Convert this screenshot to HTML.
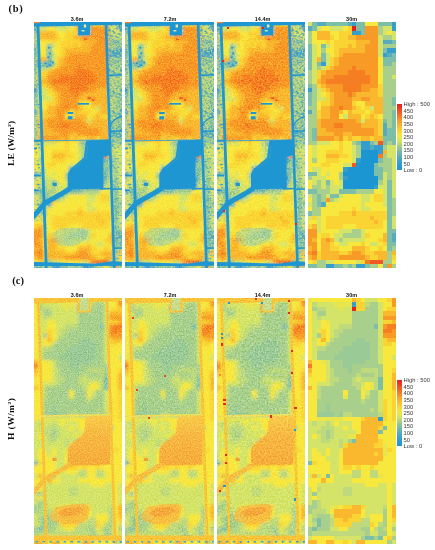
<!DOCTYPE html><html><head><meta charset="utf-8"><style>
html,body{margin:0;padding:0;background:#fff;width:435px;height:550px;overflow:hidden}
body{position:relative;font-family:"Liberation Sans",sans-serif}
.a{position:absolute}
.p{position:absolute;overflow:hidden}
.p svg{display:block}
.lab{position:absolute;font:bold 5.5px "Liberation Sans",sans-serif;color:#111;white-space:nowrap;line-height:1}
.fig{position:absolute;font:bold 10.5px "Liberation Serif",serif;color:#111;line-height:1}
.side{position:absolute;font:bold 8.4px "Liberation Serif",serif;color:#111;white-space:nowrap;line-height:1;transform:rotate(-90deg) scaleX(1.13);transform-origin:0 0}
.leg{position:absolute;font:5.8px "Liberation Sans",sans-serif;color:#3a3a3a;line-height:1;white-space:nowrap}
</style></head><body><div class="fig" style="left:8.6px;top:3.6px;letter-spacing:0.7px">(b)</div><div class="fig" style="left:12.3px;top:275.5px">(c)</div><div class="side" style="left:6.8px;top:165.9px;letter-spacing:0.12px">LE (W/m<sup style="font-size:5px;vertical-align:3px">2</sup>)</div><div class="side" style="left:6.5px;top:440.0px;letter-spacing:0.38px">H (W/m<sup style="font-size:5px;vertical-align:3px">2</sup>)</div><div class="lab" style="left:70.8px;top:17.0px">3.6m</div><div class="p" style="left:34.4px;top:22.0px;width:88.0px;height:246.4px"><svg width="88.00" height="246.40" viewBox="0 0 88.000 246.400" shape-rendering="crispEdges"><defs><filter id="fle0" x="-10%" y="-10%" width="120%" height="120%"><feGaussianBlur stdDeviation="0.364 0.364"/></filter></defs><g transform="scale(4.40000 4.40000)" filter="url(#fle0)"><path fill="#d4e468" d="M-2 -2h3v1h-3zM-2 -1h3v1h-3zM-2 0h3v1h-3zM1 1h2v1h-2zM5 1h3v1h-3zM17 1h2v1h-2zM17 2h1v1h-1zM19 2h3v1h-3zM19 3h3v1h-3zM4 5h1v1h-1zM4 7h1v1h-1zM4 8h1v1h-1zM4 9h1v1h-1zM3 10h1v1h-1zM19 12h3v1h-3zM1 15h2v1h-2zM1 16h2v1h-2zM1 17h3v1h-3zM14 19h1v1h-1zM8 21h1v1h-1zM12 22h1v1h-1zM2 27h3v1h-3zM1 28h1v1h-1zM10 28h1v1h-1zM18 28h4v1h-4zM1 29h1v1h-1zM10 29h1v1h-1zM18 29h4v1h-4zM1 30h1v1h-1zM10 30h1v1h-1zM18 30h4v1h-4zM10 31h1v1h-1zM19 31h3v1h-3zM8 32h2v1h-2zM19 32h3v1h-3zM1 33h2v1h-2zM19 33h3v1h-3zM2 34h1v1h-1zM4 34h1v1h-1zM17 34h1v1h-1zM19 34h3v1h-3zM1 35h3v1h-3zM17 35h1v1h-1zM19 35h3v1h-3zM1 36h1v1h-1zM3 36h1v1h-1zM5 36h1v1h-1zM7 36h1v1h-1zM17 36h1v1h-1zM19 36h3v1h-3zM3 37h1v1h-1zM5 37h3v1h-3zM16 37h2v1h-2zM19 37h3v1h-3zM5 38h2v1h-2zM17 38h1v1h-1zM19 38h3v1h-3zM-2 39h3v1h-3zM4 39h1v1h-1zM7 39h1v1h-1zM12 39h2v1h-2zM17 39h1v1h-1zM19 39h3v1h-3zM6 40h1v1h-1zM12 40h2v1h-2zM17 40h1v1h-1zM-2 41h3v1h-3zM12 41h1v1h-1zM17 41h1v1h-1zM12 42h2v1h-2zM-2 44h3v1h-3zM2 44h1v1h-1zM19 44h3v1h-3zM2 45h1v1h-1zM19 45h3v1h-3zM2 46h1v1h-1zM19 46h3v1h-3zM2 47h1v1h-1zM7 47h3v1h-3zM12 47h1v1h-1zM6 48h2v1h-2zM12 48h1v1h-1zM6 49h1v1h-1zM8 49h5v1h-5zM7 50h2v1h-2zM14 50h2v1h-2zM4 54h2v1h-2zM11 54h1v1h-1z"/><path fill="#7cbea8" d="M1 -2h1v1h-1zM4 -2h5v1h-5zM11 -2h2v1h-2zM16 -2h3v1h-3zM1 -1h1v1h-1zM4 -1h5v1h-5zM11 -1h2v1h-2zM16 -1h3v1h-3zM1 0h1v1h-1zM4 0h5v1h-5zM11 0h2v1h-2zM16 0h3v1h-3zM11 1h2v1h-2zM12 2h1v1h-1zM19 4h3v1h-3zM-2 5h3v1h-3zM3 5h1v1h-1zM-2 6h3v1h-3zM17 6h1v1h-1zM-2 7h3v1h-3zM3 7h1v1h-1zM19 7h3v1h-3zM-2 8h3v1h-3zM3 8h1v1h-1zM17 8h5v1h-5zM-2 9h5v1h-5zM17 9h2v1h-2zM-2 10h3v1h-3zM-2 14h3v1h-3zM-2 16h3v1h-3zM-2 17h3v1h-3zM19 17h3v1h-3zM-2 18h3v1h-3zM19 18h3v1h-3zM19 20h3v1h-3zM19 21h3v1h-3zM17 22h1v1h-1zM19 22h3v1h-3zM19 23h3v1h-3zM18 24h4v1h-4zM18 25h4v1h-4zM17 26h5v1h-5zM11 27h1v1h-1zM14 27h1v1h-1zM17 27h1v1h-1zM19 27h3v1h-3zM16 31h1v1h-1zM15 32h1v1h-1zM15 33h2v1h-2zM-2 34h4v1h-4zM15 34h2v1h-2zM16 35h1v1h-1zM4 36h1v1h-1zM18 36h1v1h-1zM18 37h1v1h-1zM-2 38h4v1h-4zM7 38h4v1h-4zM18 38h1v1h-1zM2 39h1v1h-1zM5 39h2v1h-2zM18 39h1v1h-1zM2 40h1v1h-1zM18 40h1v1h-1zM2 41h1v1h-1zM18 41h1v1h-1zM18 42h1v1h-1zM-2 43h3v1h-3zM18 43h1v1h-1zM18 44h1v1h-1zM18 45h1v1h-1zM18 46h1v1h-1zM18 47h4v1h-4zM18 48h1v1h-1zM18 49h1v1h-1zM18 50h4v1h-4zM18 51h1v1h-1zM-2 55h4v1h-4zM6 55h2v1h-2zM9 55h1v1h-1zM13 55h1v1h-1zM17 55h1v1h-1zM-2 56h4v1h-4zM6 56h2v1h-2zM9 56h1v1h-1zM13 56h1v1h-1zM17 56h1v1h-1zM-2 57h4v1h-4zM6 57h2v1h-2zM9 57h1v1h-1zM13 57h1v1h-1zM17 57h1v1h-1z"/><path fill="#56acbe" d="M2 -2h2v1h-2zM9 -2h1v1h-1zM2 -1h2v1h-2zM9 -1h1v1h-1zM2 0h2v1h-2zM9 0h1v1h-1zM-2 1h3v1h-3zM17 4h2v1h-2zM18 7h1v1h-1zM-2 20h3v1h-3zM17 23h1v1h-1zM17 24h1v1h-1zM17 25h1v1h-1zM14 28h1v1h-1zM3 41h1v1h-1zM19 48h3v1h-3zM19 49h3v1h-3z"/><path fill="#349ecc" d="M10 -2h1v1h-1zM19 -2h3v1h-3zM10 -1h1v1h-1zM19 -1h3v1h-3zM10 0h1v1h-1zM19 0h3v1h-3zM19 1h3v1h-3zM10 2h2v1h-2zM18 6h4v1h-4zM17 7h1v1h-1zM3 9h1v1h-1zM-2 15h3v1h-3zM12 27h2v1h-2zM12 28h2v1h-2zM15 28h2v1h-2zM16 29h1v1h-1zM11 31h1v1h-1zM8 33h1v1h-1zM8 35h1v1h-1zM15 37h1v1h-1zM4 55h2v1h-2zM11 55h2v1h-2zM4 56h2v1h-2zM11 56h2v1h-2zM4 57h2v1h-2zM11 57h2v1h-2z"/><path fill="#f8e73c" d="M13 -2h3v1h-3zM13 -1h3v1h-3zM13 0h3v1h-3zM3 1h2v1h-2zM8 1h1v1h-1zM5 2h2v1h-2zM18 2h1v1h-1zM6 3h1v1h-1zM1 4h3v1h-3zM5 4h1v1h-1zM1 5h2v1h-2zM5 5h1v1h-1zM1 6h2v1h-2zM4 6h2v1h-2zM1 7h2v1h-2zM5 7h1v1h-1zM3 16h1v1h-1zM1 18h2v1h-2zM11 18h2v1h-2zM1 19h2v1h-2zM12 19h1v1h-1zM8 20h1v1h-1zM13 20h1v1h-1zM7 21h1v1h-1zM12 21h1v1h-1zM5 27h2v1h-2zM8 27h2v1h-2zM-2 28h3v1h-3zM2 28h5v1h-5zM8 28h2v1h-2zM-2 29h3v1h-3zM2 29h2v1h-2zM8 29h2v1h-2zM-2 30h3v1h-3zM2 30h2v1h-2zM9 30h1v1h-1zM-2 31h3v1h-3zM2 31h2v1h-2zM7 31h3v1h-3zM-2 32h5v1h-5zM5 32h3v1h-3zM-2 33h3v1h-3zM3 33h5v1h-5zM3 34h1v1h-1zM5 34h2v1h-2zM4 35h3v1h-3zM-2 36h3v1h-3zM6 36h1v1h-1zM-2 37h3v1h-3zM15 38h2v1h-2zM8 39h4v1h-4zM14 39h1v1h-1zM-2 40h3v1h-3zM7 40h5v1h-5zM14 40h1v1h-1zM4 41h8v1h-8zM13 41h4v1h-4zM-2 42h3v1h-3zM3 42h7v1h-7zM11 42h1v1h-1zM14 42h4v1h-4zM3 43h4v1h-4zM3 44h1v1h-1zM-2 45h4v1h-4zM3 45h1v1h-1zM17 45h1v1h-1zM3 46h1v1h-1zM8 46h3v1h-3zM17 46h1v1h-1zM3 47h4v1h-4zM13 47h5v1h-5zM2 48h1v1h-1zM5 48h1v1h-1zM14 48h3v1h-3zM2 49h1v1h-1zM13 49h3v1h-3zM2 50h1v1h-1zM6 50h1v1h-1zM9 50h3v1h-3zM13 50h1v1h-1zM16 50h1v1h-1zM2 51h1v1h-1zM7 51h3v1h-3zM14 51h2v1h-2zM17 51h1v1h-1zM-2 54h3v1h-3zM6 54h5v1h-5zM19 54h3v1h-3zM16 55h1v1h-1zM16 56h1v1h-1zM16 57h1v1h-1z"/><path fill="#fad432" d="M9 1h1v1h-1zM7 2h3v1h-3zM5 3h1v1h-1zM7 3h2v1h-2zM4 4h1v1h-1zM6 4h5v1h-5zM6 5h3v1h-3zM10 5h1v1h-1zM6 6h1v1h-1zM6 7h1v1h-1zM5 8h1v1h-1zM5 9h1v1h-1zM4 10h1v1h-1zM1 11h2v1h-2zM1 12h2v1h-2zM1 14h2v1h-2zM3 15h1v1h-1zM4 16h1v1h-1zM4 17h1v1h-1zM3 18h2v1h-2zM10 18h1v1h-1zM11 19h1v1h-1zM13 19h1v1h-1zM1 20h2v1h-2zM10 20h3v1h-3zM14 20h1v1h-1zM1 21h2v1h-2zM13 21h1v1h-1zM15 21h2v1h-2zM8 26h1v1h-1zM10 26h2v1h-2zM14 26h1v1h-1zM7 27h1v1h-1zM7 28h1v1h-1zM4 29h4v1h-4zM7 30h2v1h-2zM4 31h3v1h-3zM3 32h2v1h-2zM15 39h2v1h-2zM15 40h2v1h-2zM10 42h1v1h-1zM7 43h3v1h-3zM11 43h7v1h-7zM1 44h1v1h-1zM4 44h10v1h-10zM15 44h3v1h-3zM4 45h11v1h-11zM16 45h1v1h-1zM-2 46h3v1h-3zM4 46h4v1h-4zM11 46h6v1h-6zM3 48h2v1h-2zM13 48h1v1h-1zM16 49h1v1h-1zM5 50h1v1h-1zM12 50h1v1h-1zM17 50h1v1h-1zM5 51h2v1h-2zM13 51h1v1h-1zM16 51h1v1h-1zM2 52h1v1h-1zM7 52h2v1h-2zM13 52h2v1h-2zM2 53h1v1h-1zM14 53h2v1h-2zM19 53h3v1h-3zM1 54h1v1h-1zM12 54h1v1h-1z"/><path fill="#e6241c" d="M10 1h1v1h-1z"/><path fill="#f89a28" d="M13 1h4v1h-4zM13 2h4v1h-4zM11 3h6v1h-6zM14 4h3v1h-3zM13 5h4v1h-4zM13 6h4v1h-4zM8 7h9v1h-9zM7 8h10v1h-10zM7 9h10v1h-10zM6 10h4v1h-4zM11 10h6v1h-6zM4 11h5v1h-5zM13 11h4v1h-4zM3 12h3v1h-3zM14 12h3v1h-3zM3 13h1v1h-1zM14 13h3v1h-3zM4 14h4v1h-4zM12 14h5v1h-5zM5 15h3v1h-3zM12 15h2v1h-2zM6 16h3v1h-3zM10 16h1v1h-1zM6 17h4v1h-4zM12 17h2v1h-2zM6 18h4v1h-4zM5 19h2v1h-2zM8 19h2v1h-2zM5 20h2v1h-2zM5 21h2v1h-2zM3 22h8v1h-8zM3 23h3v1h-3zM8 23h4v1h-4zM4 24h11v1h-11zM6 25h2v1h-2zM10 25h5v1h-5zM1 26h5v1h-5zM7 26h1v1h-1zM4 40h1v1h-1zM-2 47h4v1h-4zM-2 48h4v1h-4zM-2 49h3v1h-3zM4 49h1v1h-1zM-2 50h4v1h-4zM1 51h1v1h-1zM-2 52h3v1h-3zM10 52h2v1h-2zM1 53h1v1h-1zM7 53h6v1h-6zM18 55h1v1h-1zM18 56h1v1h-1zM18 57h1v1h-1z"/><path fill="#a8d08c" d="M-2 2h3v1h-3zM-2 3h3v1h-3zM17 3h2v1h-2zM-2 4h3v1h-3zM17 5h5v1h-5zM3 6h1v1h-1zM19 9h3v1h-3zM1 10h2v1h-2zM17 10h5v1h-5zM-2 11h3v1h-3zM17 11h5v1h-5zM-2 12h3v1h-3zM17 12h2v1h-2zM-2 13h3v1h-3zM17 13h5v1h-5zM17 14h5v1h-5zM17 15h5v1h-5zM17 16h5v1h-5zM17 17h2v1h-2zM17 18h2v1h-2zM-2 19h3v1h-3zM17 19h5v1h-5zM17 20h2v1h-2zM-2 21h3v1h-3zM17 21h2v1h-2zM-2 22h3v1h-3zM18 22h1v1h-1zM-2 23h3v1h-3zM18 23h1v1h-1zM-2 24h3v1h-3zM-2 25h3v1h-3zM-2 26h3v1h-3zM-2 27h4v1h-4zM10 27h1v1h-1zM15 27h1v1h-1zM18 27h1v1h-1zM11 28h1v1h-1zM17 28h1v1h-1zM11 29h1v1h-1zM11 30h1v1h-1zM17 30h1v1h-1zM1 31h1v1h-1zM17 31h2v1h-2zM16 32h3v1h-3zM17 33h2v1h-2zM7 34h1v1h-1zM18 34h1v1h-1zM-2 35h3v1h-3zM7 35h1v1h-1zM18 35h1v1h-1zM2 36h1v1h-1zM16 36h1v1h-1zM1 37h2v1h-2zM4 37h1v1h-1zM2 38h3v1h-3zM11 38h4v1h-4zM1 39h1v1h-1zM3 39h1v1h-1zM1 40h1v1h-1zM3 40h1v1h-1zM5 40h1v1h-1zM19 40h3v1h-3zM1 41h1v1h-1zM19 41h3v1h-3zM1 42h2v1h-2zM19 42h3v1h-3zM1 43h2v1h-2zM19 43h3v1h-3zM10 47h2v1h-2zM8 48h4v1h-4zM7 49h1v1h-1zM19 51h3v1h-3zM18 52h1v1h-1zM18 53h1v1h-1zM2 54h2v1h-2zM17 54h2v1h-2zM2 55h2v1h-2zM8 55h1v1h-1zM10 55h1v1h-1zM14 55h2v1h-2zM19 55h3v1h-3zM2 56h2v1h-2zM8 56h1v1h-1zM10 56h1v1h-1zM14 56h2v1h-2zM19 56h3v1h-3zM2 57h2v1h-2zM8 57h1v1h-1zM10 57h1v1h-1zM14 57h2v1h-2zM19 57h3v1h-3z"/><path fill="#f9b82e" d="M1 2h4v1h-4zM1 3h4v1h-4zM9 3h2v1h-2zM11 4h3v1h-3zM9 5h1v1h-1zM11 5h2v1h-2zM7 6h6v1h-6zM7 7h1v1h-1zM1 8h2v1h-2zM6 8h1v1h-1zM6 9h1v1h-1zM5 10h1v1h-1zM3 11h1v1h-1zM1 13h2v1h-2zM3 14h1v1h-1zM4 15h1v1h-1zM14 15h3v1h-3zM5 16h1v1h-1zM11 16h6v1h-6zM5 17h1v1h-1zM10 17h2v1h-2zM14 17h3v1h-3zM5 18h1v1h-1zM13 18h4v1h-4zM3 19h2v1h-2zM10 19h1v1h-1zM15 19h2v1h-2zM3 20h2v1h-2zM7 20h1v1h-1zM9 20h1v1h-1zM15 20h2v1h-2zM3 21h2v1h-2zM9 21h3v1h-3zM14 21h1v1h-1zM1 22h2v1h-2zM11 22h1v1h-1zM13 22h4v1h-4zM1 23h2v1h-2zM12 23h5v1h-5zM1 24h3v1h-3zM15 24h2v1h-2zM1 25h5v1h-5zM8 25h2v1h-2zM15 25h2v1h-2zM6 26h1v1h-1zM9 26h1v1h-1zM12 26h2v1h-2zM15 26h2v1h-2zM17 29h1v1h-1zM4 30h3v1h-3zM10 43h1v1h-1zM14 44h1v1h-1zM15 45h1v1h-1zM1 46h1v1h-1zM17 48h1v1h-1zM1 49h1v1h-1zM3 49h1v1h-1zM5 49h1v1h-1zM17 49h1v1h-1zM3 50h2v1h-2zM-2 51h3v1h-3zM3 51h2v1h-2zM10 51h3v1h-3zM3 52h4v1h-4zM9 52h1v1h-1zM12 52h1v1h-1zM15 52h3v1h-3zM19 52h3v1h-3zM-2 53h3v1h-3zM3 53h4v1h-4zM13 53h1v1h-1zM16 53h2v1h-2z"/><path fill="#f57e24" d="M10 10h1v1h-1zM9 11h4v1h-4zM6 12h8v1h-8zM4 13h10v1h-10zM8 14h4v1h-4zM8 15h4v1h-4zM9 16h1v1h-1zM7 19h1v1h-1zM6 23h2v1h-2zM16 30h1v1h-1zM1 52h1v1h-1zM13 54h1v1h-1z"/><path fill="#f05a20" d="M16 27h1v1h-1zM10 32h1v1h-1zM14 54h3v1h-3z"/><path fill="#1e96d2" d="M12 29h4v1h-4zM12 30h4v1h-4zM12 31h4v1h-4zM11 32h4v1h-4zM9 33h6v1h-6zM8 34h7v1h-7zM9 35h7v1h-7zM8 36h8v1h-8zM8 37h7v1h-7z"/></g><g transform="scale(1.00000 1) translate(-34.4 -22.00)"><polygon points="53.00,233.00 60.00,228.50 72.00,227.50 82.00,228.00 89.00,231.00 87.00,238.00 80.00,244.00 70.00,246.50 60.00,246.00 54.00,241.00" fill="#9ccca4" opacity="0.5"/></g><filter id="nle0" x="0" y="0" width="100%" height="100%" filterUnits="userSpaceOnUse" color-interpolation-filters="sRGB"><feTurbulence type="fractalNoise" baseFrequency="0.90" numOctaves="2" seed="7"/><feColorMatrix type="matrix" values="1 1 1 0 -1  1 1 1 0 -1  1 1 1 0 -1  0 0 0 0 1"/></filter><rect x="0" y="0" width="88.00" height="246.40" filter="url(#nle0)" style="mix-blend-mode:overlay" opacity="0.35"/><g transform="scale(1.00000 1) translate(-34.4 -22.00)" shape-rendering="auto"><defs><pattern id="spR" width="12" height="20" patternUnits="userSpaceOnUse"><rect x="9.5" y="8" width="1" height="1.4" fill="#f0e050"/><rect x="11.5" y="16.5" width="1" height="0.8" fill="#1e96d2"/><rect x="10" y="1.5" width="0.8" height="1" fill="#1e96d2"/><rect x="7.5" y="7.5" width="1.2" height="0.8" fill="#e8e060"/><rect x="9" y="7.5" width="1.2" height="0.8" fill="#1e96d2"/><rect x="6.5" y="8.5" width="1" height="0.8" fill="#1e96d2"/><rect x="1" y="4" width="1.2" height="1" fill="#d8e070"/><rect x="2" y="4" width="0.8" height="0.8" fill="#1e96d2"/><rect x="3" y="5" width="1" height="1" fill="#1e96d2"/><rect x="3" y="17" width="1.2" height="0.8" fill="#f0e050"/><rect x="2.5" y="6" width="1" height="0.8" fill="#e8e060"/><rect x="5.5" y="13" width="0.8" height="1" fill="#1e96d2"/><rect x="1" y="10.5" width="1.2" height="1.4" fill="#3aa0cc"/><rect x="0" y="19" width="1.2" height="1" fill="#f0e050"/><rect x="1" y="9.5" width="1" height="1" fill="#3aa0cc"/><rect x="11" y="10" width="1" height="1" fill="#1e96d2"/><rect x="11" y="5.5" width="1" height="0.8" fill="#1e96d2"/><rect x="11.5" y="11" width="0.8" height="1.4" fill="#e8e060"/><rect x="6.5" y="11.5" width="1.2" height="0.8" fill="#e8e060"/><rect x="7" y="1" width="0.8" height="1.4" fill="#f0e050"/><rect x="3" y="3.5" width="1" height="1" fill="#1e96d2"/><rect x="8" y="11" width="1" height="1" fill="#d8e070"/><rect x="1.5" y="18.5" width="1" height="1" fill="#f0e050"/><rect x="0.5" y="13.5" width="0.8" height="1" fill="#1e96d2"/><rect x="8" y="19.5" width="0.8" height="1" fill="#3aa0cc"/><rect x="4" y="17" width="1" height="1.4" fill="#1e96d2"/><rect x="5" y="9.5" width="0.8" height="1.4" fill="#1e96d2"/><rect x="2" y="9.5" width="0.8" height="1.4" fill="#e8e060"/><rect x="0.5" y="2.5" width="1.2" height="1" fill="#d8e070"/><rect x="0.5" y="7.5" width="1.2" height="1" fill="#f0e050"/><rect x="4" y="14.5" width="1" height="0.8" fill="#f0e050"/><rect x="0.5" y="1" width="1" height="0.8" fill="#e8e060"/><rect x="2" y="18" width="1.2" height="1" fill="#1e96d2"/><rect x="1.5" y="5" width="1" height="0.8" fill="#e8e060"/><rect x="0.5" y="13" width="0.8" height="1" fill="#3aa0cc"/><rect x="9.5" y="5" width="1" height="1" fill="#d8e070"/><rect x="11" y="10" width="1" height="1" fill="#e8e060"/><rect x="7.5" y="12.5" width="0.8" height="1" fill="#1e96d2"/><rect x="8.5" y="5.5" width="1" height="1" fill="#f0e050"/><rect x="2.5" y="2.5" width="1" height="1.4" fill="#e8e060"/><rect x="8.5" y="16" width="0.8" height="1" fill="#3aa0cc"/><rect x="11" y="18.5" width="0.8" height="1" fill="#f0e050"/><rect x="5.5" y="17.5" width="1.2" height="1" fill="#f0e050"/><rect x="7.5" y="8" width="1.2" height="1" fill="#f0e050"/><rect x="5" y="5.5" width="0.8" height="1" fill="#d8e070"/><rect x="8.5" y="8" width="1.2" height="1" fill="#3aa0cc"/><rect x="7" y="9" width="1.2" height="1.4" fill="#d8e070"/><rect x="5.5" y="11" width="1.2" height="1" fill="#3aa0cc"/><rect x="11.5" y="13" width="0.8" height="1.4" fill="#3aa0cc"/><rect x="7" y="11.5" width="1.2" height="0.8" fill="#3aa0cc"/><rect x="8" y="5" width="1" height="1" fill="#1e96d2"/><rect x="4.5" y="2.5" width="1.2" height="1.4" fill="#f0e050"/><rect x="6.5" y="5" width="1.2" height="1.4" fill="#d8e070"/><rect x="10.5" y="13" width="1.2" height="1.4" fill="#3aa0cc"/><rect x="10" y="8.5" width="0.8" height="0.8" fill="#f0e050"/><rect x="2.5" y="18.5" width="1.2" height="1.4" fill="#e8e060"/><rect x="2.5" y="7" width="0.8" height="1.4" fill="#f0e050"/><rect x="11" y="1" width="0.8" height="0.8" fill="#e8e060"/><rect x="0.5" y="4" width="1" height="0.8" fill="#1e96d2"/><rect x="7.5" y="6" width="0.8" height="1" fill="#d8e070"/><rect x="7" y="11" width="1.2" height="1.4" fill="#e8e060"/><rect x="1" y="18.5" width="0.8" height="1.4" fill="#1e96d2"/><rect x="5.5" y="0" width="1" height="1" fill="#3aa0cc"/><rect x="6.5" y="3.5" width="1.2" height="1" fill="#f0e050"/><rect x="0.5" y="17.5" width="1" height="0.8" fill="#d8e070"/><rect x="4.5" y="17" width="1" height="1.4" fill="#d8e070"/><rect x="4.5" y="11" width="1" height="1" fill="#1e96d2"/><rect x="9" y="17" width="1" height="0.8" fill="#3aa0cc"/><rect x="2.5" y="19" width="1.2" height="1" fill="#e8e060"/><rect x="3" y="4" width="0.8" height="1" fill="#d8e070"/><rect x="10.5" y="0" width="0.8" height="1" fill="#e8e060"/><rect x="9" y="19.5" width="0.8" height="1" fill="#d8e070"/><rect x="10" y="18" width="1" height="1" fill="#e8e060"/><rect x="3.5" y="15.5" width="1" height="1.4" fill="#3aa0cc"/><rect x="6" y="12" width="1.2" height="1.4" fill="#1e96d2"/><rect x="4" y="9.5" width="1" height="1" fill="#e8e060"/><rect x="0" y="10" width="1" height="1" fill="#3aa0cc"/><rect x="2" y="15" width="0.8" height="1.4" fill="#1e96d2"/><rect x="9.5" y="14" width="1" height="0.8" fill="#1e96d2"/><rect x="2" y="12.5" width="1" height="1.4" fill="#1e96d2"/><rect x="8.5" y="8.5" width="1" height="0.8" fill="#1e96d2"/><rect x="3.5" y="15.5" width="0.8" height="1.4" fill="#3aa0cc"/><rect x="4.5" y="9" width="1.2" height="1" fill="#e8e060"/><rect x="8" y="19" width="0.8" height="0.8" fill="#f0e050"/><rect x="2" y="9.5" width="1.2" height="1.4" fill="#3aa0cc"/><rect x="5" y="19.5" width="1.2" height="1.4" fill="#3aa0cc"/><rect x="0" y="14.5" width="1" height="1.4" fill="#3aa0cc"/><rect x="11.5" y="18.5" width="0.8" height="0.8" fill="#1e96d2"/><rect x="4" y="17.5" width="1.2" height="0.8" fill="#e8e060"/><rect x="10.5" y="17" width="0.8" height="1" fill="#1e96d2"/><rect x="6.5" y="19" width="1.2" height="1.4" fill="#d8e070"/><rect x="10" y="15" width="1" height="1" fill="#e8e060"/><rect x="10.5" y="6" width="1" height="0.8" fill="#3aa0cc"/><rect x="4.5" y="0" width="1" height="1.4" fill="#f0e050"/><rect x="4.5" y="15" width="0.8" height="0.8" fill="#3aa0cc"/><rect x="7.5" y="17.5" width="1" height="1.4" fill="#e8e060"/><rect x="2" y="13.5" width="1.2" height="0.8" fill="#d8e070"/><rect x="1" y="7" width="0.8" height="0.8" fill="#3aa0cc"/><rect x="10.5" y="0.5" width="1.2" height="1" fill="#3aa0cc"/><rect x="1" y="12.5" width="1" height="0.8" fill="#f0e050"/><rect x="1.5" y="3.5" width="1.2" height="1.4" fill="#1e96d2"/><rect x="1.5" y="4" width="1.2" height="1" fill="#3aa0cc"/><rect x="2" y="5.5" width="0.8" height="1" fill="#d8e070"/><rect x="2.5" y="2" width="0.8" height="0.8" fill="#d8e070"/><rect x="8.5" y="3" width="1" height="1.4" fill="#f0e050"/><rect x="1" y="8.5" width="1.2" height="1.4" fill="#1e96d2"/><rect x="1.5" y="12.5" width="0.8" height="0.8" fill="#d8e070"/><rect x="6.5" y="2.5" width="1.2" height="1.4" fill="#3aa0cc"/><rect x="7.5" y="15.5" width="1.2" height="1" fill="#3aa0cc"/><rect x="0.5" y="4" width="1" height="0.8" fill="#f0e050"/></pattern><pattern id="spR2" width="12" height="20" patternUnits="userSpaceOnUse"><rect x="7" y="17.5" width="1" height="1.4" fill="#d8e070"/><rect x="9" y="6" width="1.2" height="1" fill="#8cc8a8"/><rect x="10" y="19.5" width="0.8" height="1" fill="#8cc8a8"/><rect x="4.5" y="4.5" width="1.2" height="1.4" fill="#3aa0cc"/><rect x="10" y="1" width="1" height="1" fill="#a8d490"/><rect x="10" y="19.5" width="1.2" height="0.8" fill="#8cc8a8"/><rect x="8" y="2" width="0.8" height="0.8" fill="#3aa0cc"/><rect x="3.5" y="19" width="1" height="1" fill="#3aa0cc"/><rect x="7" y="18.5" width="1.2" height="0.8" fill="#8cc8a8"/><rect x="10" y="9" width="0.8" height="1.4" fill="#d8e070"/><rect x="1" y="14.5" width="1" height="1.4" fill="#e8e060"/><rect x="1" y="8" width="0.8" height="1.4" fill="#e8e060"/><rect x="4.5" y="0.5" width="1.2" height="0.8" fill="#3aa0cc"/><rect x="6" y="3" width="1" height="0.8" fill="#e8e060"/><rect x="0" y="0" width="0.8" height="0.8" fill="#8cc8a8"/><rect x="7.5" y="12" width="1" height="0.8" fill="#d8e070"/><rect x="9" y="6" width="1" height="0.8" fill="#e8e060"/><rect x="4.5" y="10.5" width="1" height="0.8" fill="#3aa0cc"/><rect x="2" y="7.5" width="0.8" height="0.8" fill="#3aa0cc"/><rect x="7" y="15.5" width="1.2" height="1.4" fill="#8cc8a8"/><rect x="3" y="14" width="0.8" height="1.4" fill="#a8d490"/><rect x="2" y="13" width="0.8" height="1" fill="#d8e070"/><rect x="6.5" y="6.5" width="1" height="1.4" fill="#3aa0cc"/><rect x="4.5" y="0.5" width="0.8" height="1" fill="#8cc8a8"/><rect x="9.5" y="18" width="0.8" height="0.8" fill="#3aa0cc"/><rect x="3" y="14" width="0.8" height="1.4" fill="#e8e060"/><rect x="5" y="9" width="0.8" height="0.8" fill="#d8e070"/><rect x="1" y="6.5" width="1.2" height="0.8" fill="#a8d490"/><rect x="0" y="19" width="1" height="1.4" fill="#e8e060"/><rect x="7" y="4" width="1" height="1.4" fill="#a8d490"/><rect x="2" y="12" width="1.2" height="0.8" fill="#8cc8a8"/><rect x="4.5" y="7" width="0.8" height="1.4" fill="#a8d490"/><rect x="3" y="5" width="0.8" height="1.4" fill="#a8d490"/><rect x="6" y="15" width="0.8" height="1" fill="#a8d490"/><rect x="0.5" y="3" width="0.8" height="1.4" fill="#3aa0cc"/><rect x="4" y="7.5" width="1" height="1" fill="#d8e070"/><rect x="9.5" y="15.5" width="1.2" height="0.8" fill="#e8e060"/><rect x="11.5" y="2" width="0.8" height="1" fill="#8cc8a8"/><rect x="8.5" y="19.5" width="0.8" height="1" fill="#a8d490"/><rect x="3" y="6.5" width="0.8" height="1" fill="#3aa0cc"/><rect x="6.5" y="14" width="0.8" height="0.8" fill="#8cc8a8"/><rect x="2.5" y="9" width="1.2" height="1.4" fill="#e8e060"/><rect x="2" y="2.5" width="0.8" height="1" fill="#e8e060"/><rect x="5" y="16.5" width="0.8" height="1.4" fill="#a8d490"/><rect x="0.5" y="0.5" width="1" height="1.4" fill="#d8e070"/><rect x="4.5" y="1" width="1.2" height="1.4" fill="#3aa0cc"/><rect x="1" y="15" width="1.2" height="1" fill="#3aa0cc"/><rect x="5" y="4" width="0.8" height="1" fill="#3aa0cc"/><rect x="8.5" y="11.5" width="1.2" height="1.4" fill="#3aa0cc"/><rect x="11" y="4" width="1" height="0.8" fill="#e8e060"/><rect x="10.5" y="15" width="1" height="0.8" fill="#3aa0cc"/><rect x="7.5" y="18" width="1.2" height="1.4" fill="#3aa0cc"/><rect x="6" y="12" width="0.8" height="1.4" fill="#a8d490"/><rect x="1" y="2.5" width="1.2" height="0.8" fill="#3aa0cc"/><rect x="4" y="13" width="1" height="1.4" fill="#e8e060"/><rect x="11" y="18.5" width="1" height="1" fill="#d8e070"/><rect x="8.5" y="2.5" width="1.2" height="0.8" fill="#a8d490"/><rect x="4.5" y="19" width="1" height="0.8" fill="#3aa0cc"/><rect x="3.5" y="3.5" width="1.2" height="1.4" fill="#d8e070"/><rect x="7.5" y="8" width="1" height="1" fill="#3aa0cc"/><rect x="2" y="19.5" width="1.2" height="0.8" fill="#8cc8a8"/><rect x="5" y="14" width="0.8" height="1" fill="#d8e070"/><rect x="6" y="8" width="1.2" height="1" fill="#8cc8a8"/><rect x="3" y="6.5" width="0.8" height="1.4" fill="#d8e070"/><rect x="5" y="6.5" width="0.8" height="1" fill="#8cc8a8"/><rect x="5.5" y="1" width="1" height="0.8" fill="#3aa0cc"/><rect x="1.5" y="14" width="1" height="0.8" fill="#d8e070"/><rect x="6.5" y="12" width="1" height="1.4" fill="#a8d490"/><rect x="5" y="19.5" width="1" height="0.8" fill="#d8e070"/><rect x="0.5" y="8.5" width="0.8" height="1.4" fill="#a8d490"/><rect x="11" y="8.5" width="1" height="1" fill="#a8d490"/><rect x="10" y="18" width="1.2" height="0.8" fill="#3aa0cc"/><rect x="6" y="14.5" width="0.8" height="1" fill="#8cc8a8"/><rect x="3.5" y="4.5" width="1.2" height="0.8" fill="#3aa0cc"/><rect x="7" y="3" width="1.2" height="1.4" fill="#a8d490"/><rect x="5.5" y="2" width="0.8" height="1" fill="#8cc8a8"/><rect x="4" y="5.5" width="1" height="1.4" fill="#3aa0cc"/><rect x="11" y="1" width="0.8" height="1" fill="#8cc8a8"/><rect x="5.5" y="17" width="1.2" height="1.4" fill="#a8d490"/><rect x="2.5" y="12.5" width="0.8" height="1" fill="#8cc8a8"/><rect x="11.5" y="12" width="1" height="1" fill="#8cc8a8"/><rect x="3" y="0" width="1.2" height="1.4" fill="#d8e070"/><rect x="10" y="16" width="1" height="1" fill="#e8e060"/><rect x="10" y="6.5" width="1.2" height="1.4" fill="#3aa0cc"/><rect x="11" y="3.5" width="0.8" height="1" fill="#8cc8a8"/><rect x="1" y="9.5" width="1" height="1" fill="#a8d490"/><rect x="11" y="0.5" width="1.2" height="0.8" fill="#e8e060"/><rect x="0.5" y="14" width="1.2" height="1" fill="#e8e060"/><rect x="4" y="15.5" width="0.8" height="0.8" fill="#3aa0cc"/><rect x="6.5" y="1" width="1.2" height="1" fill="#8cc8a8"/></pattern><pattern id="spL" width="6" height="20" patternUnits="userSpaceOnUse"><rect x="3.5" y="19.5" width="1" height="0.8" fill="#c8dc80"/><rect x="1" y="0" width="1.2" height="1" fill="#c8dc80"/><rect x="4.5" y="2.5" width="1.2" height="1.4" fill="#c8dc80"/><rect x="5.5" y="1" width="0.8" height="1.4" fill="#e0e070"/><rect x="3.5" y="13.5" width="0.8" height="0.8" fill="#e8e060"/><rect x="0" y="3.5" width="1.2" height="1.4" fill="#e8e060"/><rect x="0.5" y="12" width="1" height="0.8" fill="#1e96d2"/><rect x="5" y="7" width="0.8" height="1" fill="#e0e070"/><rect x="1.5" y="12.5" width="1" height="0.8" fill="#c8dc80"/><rect x="1.5" y="0" width="0.8" height="1" fill="#e0e070"/><rect x="3.5" y="4" width="0.8" height="1" fill="#1e96d2"/><rect x="5.5" y="3.5" width="0.8" height="0.8" fill="#60acc4"/><rect x="4.5" y="6" width="1" height="0.8" fill="#e8e060"/><rect x="0.5" y="4" width="0.8" height="1.4" fill="#60acc4"/><rect x="0.5" y="18" width="1.2" height="0.8" fill="#e0e070"/><rect x="3" y="2" width="0.8" height="1.4" fill="#e0e070"/><rect x="0.5" y="18.5" width="0.8" height="1.4" fill="#e8e060"/><rect x="5.5" y="1" width="1" height="1.4" fill="#1e96d2"/><rect x="5" y="19" width="1.2" height="1" fill="#e8e060"/><rect x="5.5" y="18" width="0.8" height="1.4" fill="#1e96d2"/><rect x="3" y="7.5" width="1.2" height="1.4" fill="#e8e060"/><rect x="0" y="11.5" width="1.2" height="1.4" fill="#60acc4"/><rect x="5.5" y="2.5" width="0.8" height="1.4" fill="#c8dc80"/><rect x="2.5" y="14" width="1" height="0.8" fill="#e8e060"/><rect x="4.5" y="0.5" width="1.2" height="1" fill="#e0e070"/><rect x="0" y="13.5" width="0.8" height="0.8" fill="#1e96d2"/><rect x="3.5" y="8.5" width="0.8" height="1" fill="#c8dc80"/><rect x="5" y="9" width="1.2" height="0.8" fill="#1e96d2"/><rect x="0" y="12" width="1" height="1" fill="#60acc4"/><rect x="2.5" y="7.5" width="1.2" height="0.8" fill="#60acc4"/><rect x="3" y="7" width="1" height="1.4" fill="#1e96d2"/><rect x="2.5" y="17.5" width="0.8" height="1.4" fill="#c8dc80"/><rect x="2" y="5" width="0.8" height="0.8" fill="#c8dc80"/><rect x="1" y="8" width="0.8" height="1.4" fill="#e8e060"/><rect x="1" y="0" width="0.8" height="1" fill="#1e96d2"/><rect x="1.5" y="12" width="1.2" height="0.8" fill="#c8dc80"/><rect x="2.5" y="9" width="1" height="1.4" fill="#e8e060"/><rect x="2" y="4" width="1.2" height="1.4" fill="#1e96d2"/><rect x="2" y="3.5" width="1" height="1" fill="#1e96d2"/><rect x="1" y="17.5" width="1.2" height="0.8" fill="#e0e070"/></pattern></defs><polygon points="107.60,22 122.4,22 122.4,140 111.61,140" fill="url(#spR)"/><polygon points="111.61,140 122.4,140 122.4,262 115.76,262" fill="url(#spR2)"/><polygon points="34.4,27 37.07,27 43.70,222 34.4,222" fill="url(#spL)"/><polygon points="30.00,18.00 126.00,18.00 126.00,24.60 40.00,26.60 30.00,26.80" fill="#1e96d2"/><line x1="38.16" y1="18.00" x2="46.80" y2="272.00" stroke="#1e96d2" stroke-width="2.80"/><line x1="106.16" y1="18.00" x2="114.80" y2="272.00" stroke="#1e96d2" stroke-width="2.60"/><line x1="30.00" y1="140.90" x2="42.31" y2="140.70" stroke="#1e96d2" stroke-width="2.00"/><line x1="42.31" y1="140.80" x2="110.31" y2="140.00" stroke="#4aa6bc" stroke-width="1.10"/><polygon points="78.40,18.00 90.20,18.00 90.40,35.00 78.60,35.40" fill="#1e96d2"/><rect x="84.20" y="24.50" width="2.40" height="3.00" fill="#f0e8a0"/><rect x="82.00" y="30.00" width="3.00" height="1.50" fill="#c8e0b0"/><polygon points="86.50,140.40 110.80,139.60 110.60,155.00 103.60,157.00 103.60,188.40 68.20,189.40 68.20,174.00 71.00,169.00 84.30,157.50 85.60,147.00" fill="#1e96d2"/><path d="M88 146 Q87.6 153 86.5 158 L75 168.5" fill="none" stroke="#5ab4d8" stroke-width="0.5" opacity="0.6"/><line x1="100.00" y1="188.90" x2="111.96" y2="188.50" stroke="#1e96d2" stroke-width="1.60"/><polyline points="71,188 64.4,192.4 45.6,203 34,216.5 30,221" fill="none" stroke="#1e96d2" stroke-width="5" stroke-linejoin="round"/><polygon points="30.00,262.00 47.00,262.20 95.00,263.80 113.00,261.20 126.00,262.00 126.00,265.80 95.00,266.00 30.00,266.00" fill="#1e96d2"/><line x1="108.11" y1="75.20" x2="126.00" y2="74.90" stroke="#1e96d2" stroke-width="1.50"/><line x1="110.01" y1="131.20" x2="126.00" y2="130.90" stroke="#1e96d2" stroke-width="1.50"/><line x1="111.98" y1="189.20" x2="126.00" y2="188.90" stroke="#1e96d2" stroke-width="1.50"/><line x1="113.99" y1="248.20" x2="126.00" y2="247.90" stroke="#1e96d2" stroke-width="1.50"/><path d="M110.2 126 Q114 118 122.5 116.5" fill="none" stroke="#1e96d2" stroke-width="1.3"/><path d="M44 64 Q46 59 51 60.5 Q56 61 55 65 Q53 68.5 48 67.6 Q43.5 67.4 44 64z" fill="#78bcb0" opacity="0.6"/><path d="M46 50 Q49 44 52 47 Q54 52 52 57 Q49 60 47 57z" fill="#90c8a8" opacity="0.45"/><rect x="45.00" y="62.50" width="2.00" height="1.60" fill="#1e96d2"/><rect x="49.00" y="64.50" width="2.50" height="1.60" fill="#1e96d2"/><rect x="52.50" y="61.50" width="1.60" height="2.00" fill="#1e96d2"/><rect x="47.00" y="66.00" width="1.60" height="1.20" fill="#1e96d2"/><rect x="50.50" y="60.50" width="1.20" height="1.20" fill="#1e96d2"/><rect x="48.50" y="47.00" width="1.80" height="1.60" fill="#1e96d2"/><rect x="49.50" y="52.50" width="1.80" height="1.80" fill="#1e96d2"/><rect x="47.80" y="56.50" width="2.00" height="1.50" fill="#1e96d2"/><rect x="68.00" y="112.00" width="5.60" height="2.00" fill="#1e96d2"/><rect x="68.20" y="116.20" width="4.60" height="3.20" fill="#1e96d2"/><rect x="78.00" y="103.00" width="11.50" height="1.70" fill="#1e96d2"/><rect x="88.00" y="97.20" width="3.20" height="1.80" fill="#ec5a2a"/><rect x="92.50" y="99.50" width="2.20" height="1.40" fill="#ee4a26"/><rect x="84.50" y="38.50" width="2.50" height="1.60" fill="#ec5a2a"/><rect x="53.00" y="182.80" width="4.20" height="3.20" fill="#1e96d2"/><rect x="34.40" y="174.60" width="7.00" height="1.80" fill="#1e96d2"/><rect x="34.40" y="189.50" width="5.00" height="1.60" fill="#1e96d2"/><rect x="34.40" y="147.50" width="3.00" height="1.60" fill="#1e96d2"/><rect x="34.40" y="22.00" width="6.00" height="1.20" fill="#f08040"/></g></svg></div><div class="lab" style="left:163.8px;top:17.0px">7.2m</div><div class="p" style="left:124.6px;top:22.0px;width:89.4px;height:246.4px"><svg width="89.40" height="246.40" viewBox="0 0 89.400 246.400" shape-rendering="crispEdges"><defs><filter id="fle1" x="-10%" y="-10%" width="120%" height="120%"><feGaussianBlur stdDeviation="0.358 0.364"/></filter></defs><g transform="scale(4.47000 4.40000)" filter="url(#fle1)"><path fill="#d4e468" d="M-2 -2h3v1h-3zM-2 -1h3v1h-3zM-2 0h3v1h-3zM1 1h2v1h-2zM5 1h3v1h-3zM17 1h2v1h-2zM17 2h1v1h-1zM19 2h3v1h-3zM19 3h3v1h-3zM4 5h1v1h-1zM4 7h1v1h-1zM4 8h1v1h-1zM4 9h1v1h-1zM3 10h1v1h-1zM19 12h3v1h-3zM1 15h2v1h-2zM1 16h2v1h-2zM1 17h3v1h-3zM14 19h1v1h-1zM8 21h1v1h-1zM12 22h1v1h-1zM2 27h3v1h-3zM1 28h1v1h-1zM10 28h1v1h-1zM18 28h4v1h-4zM1 29h1v1h-1zM10 29h1v1h-1zM18 29h4v1h-4zM1 30h1v1h-1zM10 30h1v1h-1zM18 30h4v1h-4zM10 31h1v1h-1zM19 31h3v1h-3zM8 32h2v1h-2zM19 32h3v1h-3zM1 33h2v1h-2zM19 33h3v1h-3zM2 34h1v1h-1zM4 34h1v1h-1zM17 34h1v1h-1zM19 34h3v1h-3zM1 35h3v1h-3zM17 35h1v1h-1zM19 35h3v1h-3zM1 36h1v1h-1zM3 36h1v1h-1zM5 36h1v1h-1zM7 36h1v1h-1zM17 36h1v1h-1zM19 36h3v1h-3zM3 37h1v1h-1zM5 37h3v1h-3zM16 37h2v1h-2zM19 37h3v1h-3zM5 38h2v1h-2zM17 38h1v1h-1zM19 38h3v1h-3zM-2 39h3v1h-3zM4 39h1v1h-1zM7 39h1v1h-1zM12 39h2v1h-2zM17 39h1v1h-1zM19 39h3v1h-3zM6 40h1v1h-1zM12 40h2v1h-2zM17 40h1v1h-1zM-2 41h3v1h-3zM12 41h1v1h-1zM17 41h1v1h-1zM12 42h2v1h-2zM-2 44h3v1h-3zM2 44h1v1h-1zM19 44h3v1h-3zM2 45h1v1h-1zM19 45h3v1h-3zM2 46h1v1h-1zM19 46h3v1h-3zM2 47h1v1h-1zM7 47h3v1h-3zM12 47h1v1h-1zM6 48h2v1h-2zM12 48h1v1h-1zM6 49h1v1h-1zM8 49h5v1h-5zM7 50h2v1h-2zM14 50h2v1h-2zM4 54h2v1h-2zM11 54h1v1h-1z"/><path fill="#7cbea8" d="M1 -2h1v1h-1zM4 -2h5v1h-5zM11 -2h2v1h-2zM16 -2h3v1h-3zM1 -1h1v1h-1zM4 -1h5v1h-5zM11 -1h2v1h-2zM16 -1h3v1h-3zM1 0h1v1h-1zM4 0h5v1h-5zM11 0h2v1h-2zM16 0h3v1h-3zM11 1h2v1h-2zM12 2h1v1h-1zM19 4h3v1h-3zM-2 5h3v1h-3zM3 5h1v1h-1zM-2 6h3v1h-3zM17 6h1v1h-1zM-2 7h3v1h-3zM3 7h1v1h-1zM19 7h3v1h-3zM-2 8h3v1h-3zM3 8h1v1h-1zM17 8h5v1h-5zM-2 9h5v1h-5zM17 9h2v1h-2zM-2 10h3v1h-3zM-2 14h3v1h-3zM-2 16h3v1h-3zM-2 17h3v1h-3zM19 17h3v1h-3zM-2 18h3v1h-3zM19 18h3v1h-3zM19 20h3v1h-3zM19 21h3v1h-3zM17 22h1v1h-1zM19 22h3v1h-3zM19 23h3v1h-3zM18 24h4v1h-4zM18 25h4v1h-4zM17 26h5v1h-5zM11 27h1v1h-1zM14 27h1v1h-1zM17 27h1v1h-1zM19 27h3v1h-3zM16 31h1v1h-1zM15 32h1v1h-1zM15 33h2v1h-2zM-2 34h4v1h-4zM15 34h2v1h-2zM16 35h1v1h-1zM4 36h1v1h-1zM18 36h1v1h-1zM18 37h1v1h-1zM-2 38h4v1h-4zM7 38h4v1h-4zM18 38h1v1h-1zM2 39h1v1h-1zM5 39h2v1h-2zM18 39h1v1h-1zM2 40h1v1h-1zM18 40h1v1h-1zM2 41h1v1h-1zM18 41h1v1h-1zM18 42h1v1h-1zM-2 43h3v1h-3zM18 43h1v1h-1zM18 44h1v1h-1zM18 45h1v1h-1zM18 46h1v1h-1zM18 47h4v1h-4zM18 48h1v1h-1zM18 49h1v1h-1zM18 50h4v1h-4zM18 51h1v1h-1zM-2 55h4v1h-4zM6 55h2v1h-2zM9 55h1v1h-1zM13 55h1v1h-1zM17 55h1v1h-1zM-2 56h4v1h-4zM6 56h2v1h-2zM9 56h1v1h-1zM13 56h1v1h-1zM17 56h1v1h-1zM-2 57h4v1h-4zM6 57h2v1h-2zM9 57h1v1h-1zM13 57h1v1h-1zM17 57h1v1h-1z"/><path fill="#56acbe" d="M2 -2h2v1h-2zM9 -2h1v1h-1zM2 -1h2v1h-2zM9 -1h1v1h-1zM2 0h2v1h-2zM9 0h1v1h-1zM-2 1h3v1h-3zM17 4h2v1h-2zM18 7h1v1h-1zM-2 20h3v1h-3zM17 23h1v1h-1zM17 24h1v1h-1zM17 25h1v1h-1zM14 28h1v1h-1zM3 41h1v1h-1zM19 48h3v1h-3zM19 49h3v1h-3z"/><path fill="#349ecc" d="M10 -2h1v1h-1zM19 -2h3v1h-3zM10 -1h1v1h-1zM19 -1h3v1h-3zM10 0h1v1h-1zM19 0h3v1h-3zM19 1h3v1h-3zM10 2h2v1h-2zM18 6h4v1h-4zM17 7h1v1h-1zM3 9h1v1h-1zM-2 15h3v1h-3zM12 27h2v1h-2zM12 28h2v1h-2zM15 28h2v1h-2zM16 29h1v1h-1zM11 31h1v1h-1zM8 33h1v1h-1zM8 35h1v1h-1zM15 37h1v1h-1zM4 55h2v1h-2zM11 55h2v1h-2zM4 56h2v1h-2zM11 56h2v1h-2zM4 57h2v1h-2zM11 57h2v1h-2z"/><path fill="#f8e73c" d="M13 -2h3v1h-3zM13 -1h3v1h-3zM13 0h3v1h-3zM3 1h2v1h-2zM8 1h1v1h-1zM5 2h2v1h-2zM18 2h1v1h-1zM6 3h1v1h-1zM1 4h3v1h-3zM5 4h1v1h-1zM1 5h2v1h-2zM5 5h1v1h-1zM1 6h2v1h-2zM4 6h2v1h-2zM1 7h2v1h-2zM5 7h1v1h-1zM3 16h1v1h-1zM1 18h2v1h-2zM11 18h2v1h-2zM1 19h2v1h-2zM12 19h1v1h-1zM8 20h1v1h-1zM13 20h1v1h-1zM7 21h1v1h-1zM12 21h1v1h-1zM5 27h2v1h-2zM8 27h2v1h-2zM-2 28h3v1h-3zM2 28h5v1h-5zM8 28h2v1h-2zM-2 29h3v1h-3zM2 29h2v1h-2zM8 29h2v1h-2zM-2 30h3v1h-3zM2 30h2v1h-2zM9 30h1v1h-1zM-2 31h3v1h-3zM2 31h2v1h-2zM7 31h3v1h-3zM-2 32h5v1h-5zM5 32h3v1h-3zM-2 33h3v1h-3zM3 33h5v1h-5zM3 34h1v1h-1zM5 34h2v1h-2zM4 35h3v1h-3zM-2 36h3v1h-3zM6 36h1v1h-1zM-2 37h3v1h-3zM15 38h2v1h-2zM8 39h4v1h-4zM14 39h1v1h-1zM-2 40h3v1h-3zM7 40h5v1h-5zM14 40h1v1h-1zM4 41h8v1h-8zM13 41h4v1h-4zM-2 42h3v1h-3zM3 42h7v1h-7zM11 42h1v1h-1zM14 42h4v1h-4zM3 43h4v1h-4zM3 44h1v1h-1zM-2 45h4v1h-4zM3 45h1v1h-1zM17 45h1v1h-1zM3 46h1v1h-1zM8 46h3v1h-3zM17 46h1v1h-1zM3 47h4v1h-4zM13 47h5v1h-5zM2 48h1v1h-1zM5 48h1v1h-1zM14 48h3v1h-3zM2 49h1v1h-1zM13 49h3v1h-3zM2 50h1v1h-1zM6 50h1v1h-1zM9 50h3v1h-3zM13 50h1v1h-1zM16 50h1v1h-1zM2 51h1v1h-1zM7 51h3v1h-3zM14 51h2v1h-2zM17 51h1v1h-1zM-2 54h3v1h-3zM6 54h5v1h-5zM19 54h3v1h-3zM16 55h1v1h-1zM16 56h1v1h-1zM16 57h1v1h-1z"/><path fill="#fad432" d="M9 1h1v1h-1zM7 2h3v1h-3zM5 3h1v1h-1zM7 3h2v1h-2zM4 4h1v1h-1zM6 4h5v1h-5zM6 5h3v1h-3zM10 5h1v1h-1zM6 6h1v1h-1zM6 7h1v1h-1zM5 8h1v1h-1zM5 9h1v1h-1zM4 10h1v1h-1zM1 11h2v1h-2zM1 12h2v1h-2zM1 14h2v1h-2zM3 15h1v1h-1zM4 16h1v1h-1zM4 17h1v1h-1zM3 18h2v1h-2zM10 18h1v1h-1zM11 19h1v1h-1zM13 19h1v1h-1zM1 20h2v1h-2zM10 20h3v1h-3zM14 20h1v1h-1zM1 21h2v1h-2zM13 21h1v1h-1zM15 21h2v1h-2zM8 26h1v1h-1zM10 26h2v1h-2zM14 26h1v1h-1zM7 27h1v1h-1zM7 28h1v1h-1zM4 29h4v1h-4zM7 30h2v1h-2zM4 31h3v1h-3zM3 32h2v1h-2zM15 39h2v1h-2zM15 40h2v1h-2zM10 42h1v1h-1zM7 43h3v1h-3zM11 43h7v1h-7zM1 44h1v1h-1zM4 44h10v1h-10zM15 44h3v1h-3zM4 45h11v1h-11zM16 45h1v1h-1zM-2 46h3v1h-3zM4 46h4v1h-4zM11 46h6v1h-6zM3 48h2v1h-2zM13 48h1v1h-1zM16 49h1v1h-1zM5 50h1v1h-1zM12 50h1v1h-1zM17 50h1v1h-1zM5 51h2v1h-2zM13 51h1v1h-1zM16 51h1v1h-1zM2 52h1v1h-1zM7 52h2v1h-2zM13 52h2v1h-2zM2 53h1v1h-1zM14 53h2v1h-2zM19 53h3v1h-3zM1 54h1v1h-1zM12 54h1v1h-1z"/><path fill="#e6241c" d="M10 1h1v1h-1z"/><path fill="#f89a28" d="M13 1h4v1h-4zM13 2h4v1h-4zM11 3h6v1h-6zM14 4h3v1h-3zM13 5h4v1h-4zM13 6h4v1h-4zM8 7h9v1h-9zM7 8h10v1h-10zM7 9h10v1h-10zM6 10h4v1h-4zM11 10h6v1h-6zM4 11h5v1h-5zM13 11h4v1h-4zM3 12h3v1h-3zM14 12h3v1h-3zM3 13h1v1h-1zM14 13h3v1h-3zM4 14h4v1h-4zM12 14h5v1h-5zM5 15h3v1h-3zM12 15h2v1h-2zM6 16h3v1h-3zM10 16h1v1h-1zM6 17h4v1h-4zM12 17h2v1h-2zM6 18h4v1h-4zM5 19h2v1h-2zM8 19h2v1h-2zM5 20h2v1h-2zM5 21h2v1h-2zM3 22h8v1h-8zM3 23h3v1h-3zM8 23h4v1h-4zM4 24h11v1h-11zM6 25h2v1h-2zM10 25h5v1h-5zM1 26h5v1h-5zM7 26h1v1h-1zM4 40h1v1h-1zM-2 47h4v1h-4zM-2 48h4v1h-4zM-2 49h3v1h-3zM4 49h1v1h-1zM-2 50h4v1h-4zM1 51h1v1h-1zM-2 52h3v1h-3zM10 52h2v1h-2zM1 53h1v1h-1zM7 53h6v1h-6zM18 55h1v1h-1zM18 56h1v1h-1zM18 57h1v1h-1z"/><path fill="#a8d08c" d="M-2 2h3v1h-3zM-2 3h3v1h-3zM17 3h2v1h-2zM-2 4h3v1h-3zM17 5h5v1h-5zM3 6h1v1h-1zM19 9h3v1h-3zM1 10h2v1h-2zM17 10h5v1h-5zM-2 11h3v1h-3zM17 11h5v1h-5zM-2 12h3v1h-3zM17 12h2v1h-2zM-2 13h3v1h-3zM17 13h5v1h-5zM17 14h5v1h-5zM17 15h5v1h-5zM17 16h5v1h-5zM17 17h2v1h-2zM17 18h2v1h-2zM-2 19h3v1h-3zM17 19h5v1h-5zM17 20h2v1h-2zM-2 21h3v1h-3zM17 21h2v1h-2zM-2 22h3v1h-3zM18 22h1v1h-1zM-2 23h3v1h-3zM18 23h1v1h-1zM-2 24h3v1h-3zM-2 25h3v1h-3zM-2 26h3v1h-3zM-2 27h4v1h-4zM10 27h1v1h-1zM15 27h1v1h-1zM18 27h1v1h-1zM11 28h1v1h-1zM17 28h1v1h-1zM11 29h1v1h-1zM11 30h1v1h-1zM17 30h1v1h-1zM1 31h1v1h-1zM17 31h2v1h-2zM16 32h3v1h-3zM17 33h2v1h-2zM7 34h1v1h-1zM18 34h1v1h-1zM-2 35h3v1h-3zM7 35h1v1h-1zM18 35h1v1h-1zM2 36h1v1h-1zM16 36h1v1h-1zM1 37h2v1h-2zM4 37h1v1h-1zM2 38h3v1h-3zM11 38h4v1h-4zM1 39h1v1h-1zM3 39h1v1h-1zM1 40h1v1h-1zM3 40h1v1h-1zM5 40h1v1h-1zM19 40h3v1h-3zM1 41h1v1h-1zM19 41h3v1h-3zM1 42h2v1h-2zM19 42h3v1h-3zM1 43h2v1h-2zM19 43h3v1h-3zM10 47h2v1h-2zM8 48h4v1h-4zM7 49h1v1h-1zM19 51h3v1h-3zM18 52h1v1h-1zM18 53h1v1h-1zM2 54h2v1h-2zM17 54h2v1h-2zM2 55h2v1h-2zM8 55h1v1h-1zM10 55h1v1h-1zM14 55h2v1h-2zM19 55h3v1h-3zM2 56h2v1h-2zM8 56h1v1h-1zM10 56h1v1h-1zM14 56h2v1h-2zM19 56h3v1h-3zM2 57h2v1h-2zM8 57h1v1h-1zM10 57h1v1h-1zM14 57h2v1h-2zM19 57h3v1h-3z"/><path fill="#f9b82e" d="M1 2h4v1h-4zM1 3h4v1h-4zM9 3h2v1h-2zM11 4h3v1h-3zM9 5h1v1h-1zM11 5h2v1h-2zM7 6h6v1h-6zM7 7h1v1h-1zM1 8h2v1h-2zM6 8h1v1h-1zM6 9h1v1h-1zM5 10h1v1h-1zM3 11h1v1h-1zM1 13h2v1h-2zM3 14h1v1h-1zM4 15h1v1h-1zM14 15h3v1h-3zM5 16h1v1h-1zM11 16h6v1h-6zM5 17h1v1h-1zM10 17h2v1h-2zM14 17h3v1h-3zM5 18h1v1h-1zM13 18h4v1h-4zM3 19h2v1h-2zM10 19h1v1h-1zM15 19h2v1h-2zM3 20h2v1h-2zM7 20h1v1h-1zM9 20h1v1h-1zM15 20h2v1h-2zM3 21h2v1h-2zM9 21h3v1h-3zM14 21h1v1h-1zM1 22h2v1h-2zM11 22h1v1h-1zM13 22h4v1h-4zM1 23h2v1h-2zM12 23h5v1h-5zM1 24h3v1h-3zM15 24h2v1h-2zM1 25h5v1h-5zM8 25h2v1h-2zM15 25h2v1h-2zM6 26h1v1h-1zM9 26h1v1h-1zM12 26h2v1h-2zM15 26h2v1h-2zM17 29h1v1h-1zM4 30h3v1h-3zM10 43h1v1h-1zM14 44h1v1h-1zM15 45h1v1h-1zM1 46h1v1h-1zM17 48h1v1h-1zM1 49h1v1h-1zM3 49h1v1h-1zM5 49h1v1h-1zM17 49h1v1h-1zM3 50h2v1h-2zM-2 51h3v1h-3zM3 51h2v1h-2zM10 51h3v1h-3zM3 52h4v1h-4zM9 52h1v1h-1zM12 52h1v1h-1zM15 52h3v1h-3zM19 52h3v1h-3zM-2 53h3v1h-3zM3 53h4v1h-4zM13 53h1v1h-1zM16 53h2v1h-2z"/><path fill="#f57e24" d="M10 10h1v1h-1zM9 11h4v1h-4zM6 12h8v1h-8zM4 13h10v1h-10zM8 14h4v1h-4zM8 15h4v1h-4zM9 16h1v1h-1zM7 19h1v1h-1zM6 23h2v1h-2zM16 30h1v1h-1zM1 52h1v1h-1zM13 54h1v1h-1z"/><path fill="#f05a20" d="M16 27h1v1h-1zM10 32h1v1h-1zM14 54h3v1h-3z"/><path fill="#1e96d2" d="M12 29h4v1h-4zM12 30h4v1h-4zM12 31h4v1h-4zM11 32h4v1h-4zM9 33h6v1h-6zM8 34h7v1h-7zM9 35h7v1h-7zM8 36h8v1h-8zM8 37h7v1h-7z"/></g><g transform="scale(1.01591 1) translate(-34.4 -22.00)"><polygon points="53.00,233.00 60.00,228.50 72.00,227.50 82.00,228.00 89.00,231.00 87.00,238.00 80.00,244.00 70.00,246.50 60.00,246.00 54.00,241.00" fill="#9ccca4" opacity="0.5"/></g><filter id="nle1" x="0" y="0" width="100%" height="100%" filterUnits="userSpaceOnUse" color-interpolation-filters="sRGB"><feTurbulence type="fractalNoise" baseFrequency="0.75" numOctaves="2" seed="8"/><feColorMatrix type="matrix" values="1 1 1 0 -1  1 1 1 0 -1  1 1 1 0 -1  0 0 0 0 1"/></filter><rect x="0" y="0" width="89.40" height="246.40" filter="url(#nle1)" style="mix-blend-mode:overlay" opacity="0.35"/><g transform="scale(1.01591 1) translate(-34.4 -22.00)" shape-rendering="auto"><defs><pattern id="spR" width="12" height="20" patternUnits="userSpaceOnUse"><rect x="9.5" y="8" width="1" height="1.4" fill="#f0e050"/><rect x="11.5" y="16.5" width="1" height="0.8" fill="#1e96d2"/><rect x="10" y="1.5" width="0.8" height="1" fill="#1e96d2"/><rect x="7.5" y="7.5" width="1.2" height="0.8" fill="#e8e060"/><rect x="9" y="7.5" width="1.2" height="0.8" fill="#1e96d2"/><rect x="6.5" y="8.5" width="1" height="0.8" fill="#1e96d2"/><rect x="1" y="4" width="1.2" height="1" fill="#d8e070"/><rect x="2" y="4" width="0.8" height="0.8" fill="#1e96d2"/><rect x="3" y="5" width="1" height="1" fill="#1e96d2"/><rect x="3" y="17" width="1.2" height="0.8" fill="#f0e050"/><rect x="2.5" y="6" width="1" height="0.8" fill="#e8e060"/><rect x="5.5" y="13" width="0.8" height="1" fill="#1e96d2"/><rect x="1" y="10.5" width="1.2" height="1.4" fill="#3aa0cc"/><rect x="0" y="19" width="1.2" height="1" fill="#f0e050"/><rect x="1" y="9.5" width="1" height="1" fill="#3aa0cc"/><rect x="11" y="10" width="1" height="1" fill="#1e96d2"/><rect x="11" y="5.5" width="1" height="0.8" fill="#1e96d2"/><rect x="11.5" y="11" width="0.8" height="1.4" fill="#e8e060"/><rect x="6.5" y="11.5" width="1.2" height="0.8" fill="#e8e060"/><rect x="7" y="1" width="0.8" height="1.4" fill="#f0e050"/><rect x="3" y="3.5" width="1" height="1" fill="#1e96d2"/><rect x="8" y="11" width="1" height="1" fill="#d8e070"/><rect x="1.5" y="18.5" width="1" height="1" fill="#f0e050"/><rect x="0.5" y="13.5" width="0.8" height="1" fill="#1e96d2"/><rect x="8" y="19.5" width="0.8" height="1" fill="#3aa0cc"/><rect x="4" y="17" width="1" height="1.4" fill="#1e96d2"/><rect x="5" y="9.5" width="0.8" height="1.4" fill="#1e96d2"/><rect x="2" y="9.5" width="0.8" height="1.4" fill="#e8e060"/><rect x="0.5" y="2.5" width="1.2" height="1" fill="#d8e070"/><rect x="0.5" y="7.5" width="1.2" height="1" fill="#f0e050"/><rect x="4" y="14.5" width="1" height="0.8" fill="#f0e050"/><rect x="0.5" y="1" width="1" height="0.8" fill="#e8e060"/><rect x="2" y="18" width="1.2" height="1" fill="#1e96d2"/><rect x="1.5" y="5" width="1" height="0.8" fill="#e8e060"/><rect x="0.5" y="13" width="0.8" height="1" fill="#3aa0cc"/><rect x="9.5" y="5" width="1" height="1" fill="#d8e070"/><rect x="11" y="10" width="1" height="1" fill="#e8e060"/><rect x="7.5" y="12.5" width="0.8" height="1" fill="#1e96d2"/><rect x="8.5" y="5.5" width="1" height="1" fill="#f0e050"/><rect x="2.5" y="2.5" width="1" height="1.4" fill="#e8e060"/><rect x="8.5" y="16" width="0.8" height="1" fill="#3aa0cc"/><rect x="11" y="18.5" width="0.8" height="1" fill="#f0e050"/><rect x="5.5" y="17.5" width="1.2" height="1" fill="#f0e050"/><rect x="7.5" y="8" width="1.2" height="1" fill="#f0e050"/><rect x="5" y="5.5" width="0.8" height="1" fill="#d8e070"/><rect x="8.5" y="8" width="1.2" height="1" fill="#3aa0cc"/><rect x="7" y="9" width="1.2" height="1.4" fill="#d8e070"/><rect x="5.5" y="11" width="1.2" height="1" fill="#3aa0cc"/><rect x="11.5" y="13" width="0.8" height="1.4" fill="#3aa0cc"/><rect x="7" y="11.5" width="1.2" height="0.8" fill="#3aa0cc"/><rect x="8" y="5" width="1" height="1" fill="#1e96d2"/><rect x="4.5" y="2.5" width="1.2" height="1.4" fill="#f0e050"/><rect x="6.5" y="5" width="1.2" height="1.4" fill="#d8e070"/><rect x="10.5" y="13" width="1.2" height="1.4" fill="#3aa0cc"/><rect x="10" y="8.5" width="0.8" height="0.8" fill="#f0e050"/><rect x="2.5" y="18.5" width="1.2" height="1.4" fill="#e8e060"/><rect x="2.5" y="7" width="0.8" height="1.4" fill="#f0e050"/><rect x="11" y="1" width="0.8" height="0.8" fill="#e8e060"/><rect x="0.5" y="4" width="1" height="0.8" fill="#1e96d2"/><rect x="7.5" y="6" width="0.8" height="1" fill="#d8e070"/><rect x="7" y="11" width="1.2" height="1.4" fill="#e8e060"/><rect x="1" y="18.5" width="0.8" height="1.4" fill="#1e96d2"/><rect x="5.5" y="0" width="1" height="1" fill="#3aa0cc"/><rect x="6.5" y="3.5" width="1.2" height="1" fill="#f0e050"/><rect x="0.5" y="17.5" width="1" height="0.8" fill="#d8e070"/><rect x="4.5" y="17" width="1" height="1.4" fill="#d8e070"/><rect x="4.5" y="11" width="1" height="1" fill="#1e96d2"/><rect x="9" y="17" width="1" height="0.8" fill="#3aa0cc"/><rect x="2.5" y="19" width="1.2" height="1" fill="#e8e060"/><rect x="3" y="4" width="0.8" height="1" fill="#d8e070"/><rect x="10.5" y="0" width="0.8" height="1" fill="#e8e060"/><rect x="9" y="19.5" width="0.8" height="1" fill="#d8e070"/><rect x="10" y="18" width="1" height="1" fill="#e8e060"/><rect x="3.5" y="15.5" width="1" height="1.4" fill="#3aa0cc"/><rect x="6" y="12" width="1.2" height="1.4" fill="#1e96d2"/><rect x="4" y="9.5" width="1" height="1" fill="#e8e060"/><rect x="0" y="10" width="1" height="1" fill="#3aa0cc"/><rect x="2" y="15" width="0.8" height="1.4" fill="#1e96d2"/><rect x="9.5" y="14" width="1" height="0.8" fill="#1e96d2"/><rect x="2" y="12.5" width="1" height="1.4" fill="#1e96d2"/><rect x="8.5" y="8.5" width="1" height="0.8" fill="#1e96d2"/><rect x="3.5" y="15.5" width="0.8" height="1.4" fill="#3aa0cc"/><rect x="4.5" y="9" width="1.2" height="1" fill="#e8e060"/><rect x="8" y="19" width="0.8" height="0.8" fill="#f0e050"/><rect x="2" y="9.5" width="1.2" height="1.4" fill="#3aa0cc"/><rect x="5" y="19.5" width="1.2" height="1.4" fill="#3aa0cc"/><rect x="0" y="14.5" width="1" height="1.4" fill="#3aa0cc"/><rect x="11.5" y="18.5" width="0.8" height="0.8" fill="#1e96d2"/><rect x="4" y="17.5" width="1.2" height="0.8" fill="#e8e060"/><rect x="10.5" y="17" width="0.8" height="1" fill="#1e96d2"/><rect x="6.5" y="19" width="1.2" height="1.4" fill="#d8e070"/><rect x="10" y="15" width="1" height="1" fill="#e8e060"/><rect x="10.5" y="6" width="1" height="0.8" fill="#3aa0cc"/><rect x="4.5" y="0" width="1" height="1.4" fill="#f0e050"/><rect x="4.5" y="15" width="0.8" height="0.8" fill="#3aa0cc"/><rect x="7.5" y="17.5" width="1" height="1.4" fill="#e8e060"/><rect x="2" y="13.5" width="1.2" height="0.8" fill="#d8e070"/><rect x="1" y="7" width="0.8" height="0.8" fill="#3aa0cc"/><rect x="10.5" y="0.5" width="1.2" height="1" fill="#3aa0cc"/><rect x="1" y="12.5" width="1" height="0.8" fill="#f0e050"/><rect x="1.5" y="3.5" width="1.2" height="1.4" fill="#1e96d2"/><rect x="1.5" y="4" width="1.2" height="1" fill="#3aa0cc"/><rect x="2" y="5.5" width="0.8" height="1" fill="#d8e070"/><rect x="2.5" y="2" width="0.8" height="0.8" fill="#d8e070"/><rect x="8.5" y="3" width="1" height="1.4" fill="#f0e050"/><rect x="1" y="8.5" width="1.2" height="1.4" fill="#1e96d2"/><rect x="1.5" y="12.5" width="0.8" height="0.8" fill="#d8e070"/><rect x="6.5" y="2.5" width="1.2" height="1.4" fill="#3aa0cc"/><rect x="7.5" y="15.5" width="1.2" height="1" fill="#3aa0cc"/><rect x="0.5" y="4" width="1" height="0.8" fill="#f0e050"/></pattern><pattern id="spR2" width="12" height="20" patternUnits="userSpaceOnUse"><rect x="7" y="17.5" width="1" height="1.4" fill="#d8e070"/><rect x="9" y="6" width="1.2" height="1" fill="#8cc8a8"/><rect x="10" y="19.5" width="0.8" height="1" fill="#8cc8a8"/><rect x="4.5" y="4.5" width="1.2" height="1.4" fill="#3aa0cc"/><rect x="10" y="1" width="1" height="1" fill="#a8d490"/><rect x="10" y="19.5" width="1.2" height="0.8" fill="#8cc8a8"/><rect x="8" y="2" width="0.8" height="0.8" fill="#3aa0cc"/><rect x="3.5" y="19" width="1" height="1" fill="#3aa0cc"/><rect x="7" y="18.5" width="1.2" height="0.8" fill="#8cc8a8"/><rect x="10" y="9" width="0.8" height="1.4" fill="#d8e070"/><rect x="1" y="14.5" width="1" height="1.4" fill="#e8e060"/><rect x="1" y="8" width="0.8" height="1.4" fill="#e8e060"/><rect x="4.5" y="0.5" width="1.2" height="0.8" fill="#3aa0cc"/><rect x="6" y="3" width="1" height="0.8" fill="#e8e060"/><rect x="0" y="0" width="0.8" height="0.8" fill="#8cc8a8"/><rect x="7.5" y="12" width="1" height="0.8" fill="#d8e070"/><rect x="9" y="6" width="1" height="0.8" fill="#e8e060"/><rect x="4.5" y="10.5" width="1" height="0.8" fill="#3aa0cc"/><rect x="2" y="7.5" width="0.8" height="0.8" fill="#3aa0cc"/><rect x="7" y="15.5" width="1.2" height="1.4" fill="#8cc8a8"/><rect x="3" y="14" width="0.8" height="1.4" fill="#a8d490"/><rect x="2" y="13" width="0.8" height="1" fill="#d8e070"/><rect x="6.5" y="6.5" width="1" height="1.4" fill="#3aa0cc"/><rect x="4.5" y="0.5" width="0.8" height="1" fill="#8cc8a8"/><rect x="9.5" y="18" width="0.8" height="0.8" fill="#3aa0cc"/><rect x="3" y="14" width="0.8" height="1.4" fill="#e8e060"/><rect x="5" y="9" width="0.8" height="0.8" fill="#d8e070"/><rect x="1" y="6.5" width="1.2" height="0.8" fill="#a8d490"/><rect x="0" y="19" width="1" height="1.4" fill="#e8e060"/><rect x="7" y="4" width="1" height="1.4" fill="#a8d490"/><rect x="2" y="12" width="1.2" height="0.8" fill="#8cc8a8"/><rect x="4.5" y="7" width="0.8" height="1.4" fill="#a8d490"/><rect x="3" y="5" width="0.8" height="1.4" fill="#a8d490"/><rect x="6" y="15" width="0.8" height="1" fill="#a8d490"/><rect x="0.5" y="3" width="0.8" height="1.4" fill="#3aa0cc"/><rect x="4" y="7.5" width="1" height="1" fill="#d8e070"/><rect x="9.5" y="15.5" width="1.2" height="0.8" fill="#e8e060"/><rect x="11.5" y="2" width="0.8" height="1" fill="#8cc8a8"/><rect x="8.5" y="19.5" width="0.8" height="1" fill="#a8d490"/><rect x="3" y="6.5" width="0.8" height="1" fill="#3aa0cc"/><rect x="6.5" y="14" width="0.8" height="0.8" fill="#8cc8a8"/><rect x="2.5" y="9" width="1.2" height="1.4" fill="#e8e060"/><rect x="2" y="2.5" width="0.8" height="1" fill="#e8e060"/><rect x="5" y="16.5" width="0.8" height="1.4" fill="#a8d490"/><rect x="0.5" y="0.5" width="1" height="1.4" fill="#d8e070"/><rect x="4.5" y="1" width="1.2" height="1.4" fill="#3aa0cc"/><rect x="1" y="15" width="1.2" height="1" fill="#3aa0cc"/><rect x="5" y="4" width="0.8" height="1" fill="#3aa0cc"/><rect x="8.5" y="11.5" width="1.2" height="1.4" fill="#3aa0cc"/><rect x="11" y="4" width="1" height="0.8" fill="#e8e060"/><rect x="10.5" y="15" width="1" height="0.8" fill="#3aa0cc"/><rect x="7.5" y="18" width="1.2" height="1.4" fill="#3aa0cc"/><rect x="6" y="12" width="0.8" height="1.4" fill="#a8d490"/><rect x="1" y="2.5" width="1.2" height="0.8" fill="#3aa0cc"/><rect x="4" y="13" width="1" height="1.4" fill="#e8e060"/><rect x="11" y="18.5" width="1" height="1" fill="#d8e070"/><rect x="8.5" y="2.5" width="1.2" height="0.8" fill="#a8d490"/><rect x="4.5" y="19" width="1" height="0.8" fill="#3aa0cc"/><rect x="3.5" y="3.5" width="1.2" height="1.4" fill="#d8e070"/><rect x="7.5" y="8" width="1" height="1" fill="#3aa0cc"/><rect x="2" y="19.5" width="1.2" height="0.8" fill="#8cc8a8"/><rect x="5" y="14" width="0.8" height="1" fill="#d8e070"/><rect x="6" y="8" width="1.2" height="1" fill="#8cc8a8"/><rect x="3" y="6.5" width="0.8" height="1.4" fill="#d8e070"/><rect x="5" y="6.5" width="0.8" height="1" fill="#8cc8a8"/><rect x="5.5" y="1" width="1" height="0.8" fill="#3aa0cc"/><rect x="1.5" y="14" width="1" height="0.8" fill="#d8e070"/><rect x="6.5" y="12" width="1" height="1.4" fill="#a8d490"/><rect x="5" y="19.5" width="1" height="0.8" fill="#d8e070"/><rect x="0.5" y="8.5" width="0.8" height="1.4" fill="#a8d490"/><rect x="11" y="8.5" width="1" height="1" fill="#a8d490"/><rect x="10" y="18" width="1.2" height="0.8" fill="#3aa0cc"/><rect x="6" y="14.5" width="0.8" height="1" fill="#8cc8a8"/><rect x="3.5" y="4.5" width="1.2" height="0.8" fill="#3aa0cc"/><rect x="7" y="3" width="1.2" height="1.4" fill="#a8d490"/><rect x="5.5" y="2" width="0.8" height="1" fill="#8cc8a8"/><rect x="4" y="5.5" width="1" height="1.4" fill="#3aa0cc"/><rect x="11" y="1" width="0.8" height="1" fill="#8cc8a8"/><rect x="5.5" y="17" width="1.2" height="1.4" fill="#a8d490"/><rect x="2.5" y="12.5" width="0.8" height="1" fill="#8cc8a8"/><rect x="11.5" y="12" width="1" height="1" fill="#8cc8a8"/><rect x="3" y="0" width="1.2" height="1.4" fill="#d8e070"/><rect x="10" y="16" width="1" height="1" fill="#e8e060"/><rect x="10" y="6.5" width="1.2" height="1.4" fill="#3aa0cc"/><rect x="11" y="3.5" width="0.8" height="1" fill="#8cc8a8"/><rect x="1" y="9.5" width="1" height="1" fill="#a8d490"/><rect x="11" y="0.5" width="1.2" height="0.8" fill="#e8e060"/><rect x="0.5" y="14" width="1.2" height="1" fill="#e8e060"/><rect x="4" y="15.5" width="0.8" height="0.8" fill="#3aa0cc"/><rect x="6.5" y="1" width="1.2" height="1" fill="#8cc8a8"/></pattern><pattern id="spL" width="6" height="20" patternUnits="userSpaceOnUse"><rect x="3.5" y="19.5" width="1" height="0.8" fill="#c8dc80"/><rect x="1" y="0" width="1.2" height="1" fill="#c8dc80"/><rect x="4.5" y="2.5" width="1.2" height="1.4" fill="#c8dc80"/><rect x="5.5" y="1" width="0.8" height="1.4" fill="#e0e070"/><rect x="3.5" y="13.5" width="0.8" height="0.8" fill="#e8e060"/><rect x="0" y="3.5" width="1.2" height="1.4" fill="#e8e060"/><rect x="0.5" y="12" width="1" height="0.8" fill="#1e96d2"/><rect x="5" y="7" width="0.8" height="1" fill="#e0e070"/><rect x="1.5" y="12.5" width="1" height="0.8" fill="#c8dc80"/><rect x="1.5" y="0" width="0.8" height="1" fill="#e0e070"/><rect x="3.5" y="4" width="0.8" height="1" fill="#1e96d2"/><rect x="5.5" y="3.5" width="0.8" height="0.8" fill="#60acc4"/><rect x="4.5" y="6" width="1" height="0.8" fill="#e8e060"/><rect x="0.5" y="4" width="0.8" height="1.4" fill="#60acc4"/><rect x="0.5" y="18" width="1.2" height="0.8" fill="#e0e070"/><rect x="3" y="2" width="0.8" height="1.4" fill="#e0e070"/><rect x="0.5" y="18.5" width="0.8" height="1.4" fill="#e8e060"/><rect x="5.5" y="1" width="1" height="1.4" fill="#1e96d2"/><rect x="5" y="19" width="1.2" height="1" fill="#e8e060"/><rect x="5.5" y="18" width="0.8" height="1.4" fill="#1e96d2"/><rect x="3" y="7.5" width="1.2" height="1.4" fill="#e8e060"/><rect x="0" y="11.5" width="1.2" height="1.4" fill="#60acc4"/><rect x="5.5" y="2.5" width="0.8" height="1.4" fill="#c8dc80"/><rect x="2.5" y="14" width="1" height="0.8" fill="#e8e060"/><rect x="4.5" y="0.5" width="1.2" height="1" fill="#e0e070"/><rect x="0" y="13.5" width="0.8" height="0.8" fill="#1e96d2"/><rect x="3.5" y="8.5" width="0.8" height="1" fill="#c8dc80"/><rect x="5" y="9" width="1.2" height="0.8" fill="#1e96d2"/><rect x="0" y="12" width="1" height="1" fill="#60acc4"/><rect x="2.5" y="7.5" width="1.2" height="0.8" fill="#60acc4"/><rect x="3" y="7" width="1" height="1.4" fill="#1e96d2"/><rect x="2.5" y="17.5" width="0.8" height="1.4" fill="#c8dc80"/><rect x="2" y="5" width="0.8" height="0.8" fill="#c8dc80"/><rect x="1" y="8" width="0.8" height="1.4" fill="#e8e060"/><rect x="1" y="0" width="0.8" height="1" fill="#1e96d2"/><rect x="1.5" y="12" width="1.2" height="0.8" fill="#c8dc80"/><rect x="2.5" y="9" width="1" height="1.4" fill="#e8e060"/><rect x="2" y="4" width="1.2" height="1.4" fill="#1e96d2"/><rect x="2" y="3.5" width="1" height="1" fill="#1e96d2"/><rect x="1" y="17.5" width="1.2" height="0.8" fill="#e0e070"/></pattern></defs><polygon points="107.60,22 122.4,22 122.4,140 111.61,140" fill="url(#spR)"/><polygon points="111.61,140 122.4,140 122.4,262 115.76,262" fill="url(#spR2)"/><polygon points="34.4,27 37.07,27 43.70,222 34.4,222" fill="url(#spL)"/><polygon points="30.00,18.00 126.00,18.00 126.00,24.60 40.00,26.60 30.00,26.80" fill="#1e96d2"/><line x1="38.16" y1="18.00" x2="46.80" y2="272.00" stroke="#1e96d2" stroke-width="2.80"/><line x1="106.16" y1="18.00" x2="114.80" y2="272.00" stroke="#1e96d2" stroke-width="2.60"/><line x1="30.00" y1="140.90" x2="42.31" y2="140.70" stroke="#1e96d2" stroke-width="2.00"/><line x1="42.31" y1="140.80" x2="110.31" y2="140.00" stroke="#4aa6bc" stroke-width="1.10"/><polygon points="78.40,18.00 90.20,18.00 90.40,35.00 78.60,35.40" fill="#1e96d2"/><rect x="84.20" y="24.50" width="2.40" height="3.00" fill="#f0e8a0"/><rect x="82.00" y="30.00" width="3.00" height="1.50" fill="#c8e0b0"/><polygon points="86.50,140.40 110.80,139.60 110.60,155.00 103.60,157.00 103.60,188.40 68.20,189.40 68.20,174.00 71.00,169.00 84.30,157.50 85.60,147.00" fill="#1e96d2"/><path d="M88 146 Q87.6 153 86.5 158 L75 168.5" fill="none" stroke="#5ab4d8" stroke-width="0.5" opacity="0.6"/><line x1="100.00" y1="188.90" x2="111.96" y2="188.50" stroke="#1e96d2" stroke-width="1.60"/><polyline points="71,188 64.4,192.4 45.6,203 34,216.5 30,221" fill="none" stroke="#1e96d2" stroke-width="5" stroke-linejoin="round"/><polygon points="30.00,262.00 47.00,262.20 95.00,263.80 113.00,261.20 126.00,262.00 126.00,265.80 95.00,266.00 30.00,266.00" fill="#1e96d2"/><line x1="108.11" y1="75.20" x2="126.00" y2="74.90" stroke="#1e96d2" stroke-width="1.50"/><line x1="110.01" y1="131.20" x2="126.00" y2="130.90" stroke="#1e96d2" stroke-width="1.50"/><line x1="111.98" y1="189.20" x2="126.00" y2="188.90" stroke="#1e96d2" stroke-width="1.50"/><line x1="113.99" y1="248.20" x2="126.00" y2="247.90" stroke="#1e96d2" stroke-width="1.50"/><path d="M110.2 126 Q114 118 122.5 116.5" fill="none" stroke="#1e96d2" stroke-width="1.3"/><path d="M44 64 Q46 59 51 60.5 Q56 61 55 65 Q53 68.5 48 67.6 Q43.5 67.4 44 64z" fill="#78bcb0" opacity="0.6"/><path d="M46 50 Q49 44 52 47 Q54 52 52 57 Q49 60 47 57z" fill="#90c8a8" opacity="0.45"/><rect x="45.00" y="62.50" width="2.00" height="1.60" fill="#1e96d2"/><rect x="49.00" y="64.50" width="2.50" height="1.60" fill="#1e96d2"/><rect x="52.50" y="61.50" width="1.60" height="2.00" fill="#1e96d2"/><rect x="47.00" y="66.00" width="1.60" height="1.20" fill="#1e96d2"/><rect x="50.50" y="60.50" width="1.20" height="1.20" fill="#1e96d2"/><rect x="48.50" y="47.00" width="1.80" height="1.60" fill="#1e96d2"/><rect x="49.50" y="52.50" width="1.80" height="1.80" fill="#1e96d2"/><rect x="47.80" y="56.50" width="2.00" height="1.50" fill="#1e96d2"/><rect x="68.00" y="112.00" width="5.60" height="2.00" fill="#1e96d2"/><rect x="68.20" y="116.20" width="4.60" height="3.20" fill="#1e96d2"/><rect x="78.00" y="103.00" width="11.50" height="1.70" fill="#1e96d2"/><rect x="88.00" y="97.20" width="3.20" height="1.80" fill="#ec5a2a"/><rect x="92.50" y="99.50" width="2.20" height="1.40" fill="#ee4a26"/><rect x="84.50" y="38.50" width="2.50" height="1.60" fill="#ec5a2a"/><rect x="53.00" y="182.80" width="4.20" height="3.20" fill="#1e96d2"/><rect x="34.40" y="174.60" width="7.00" height="1.80" fill="#1e96d2"/><rect x="34.40" y="189.50" width="5.00" height="1.60" fill="#1e96d2"/><rect x="34.40" y="147.50" width="3.00" height="1.60" fill="#1e96d2"/><rect x="34.40" y="22.00" width="6.00" height="1.20" fill="#f08040"/></g></svg></div><div class="lab" style="left:254.8px;top:17.0px">14.4m</div><div class="p" style="left:216.6px;top:22.0px;width:88.4px;height:246.4px"><svg width="88.40" height="246.40" viewBox="0 0 88.400 246.400" shape-rendering="crispEdges"><defs><filter id="fle2" x="-10%" y="-10%" width="120%" height="120%"><feGaussianBlur stdDeviation="0.362 0.364"/></filter></defs><g transform="scale(4.42000 4.40000)" filter="url(#fle2)"><path fill="#d4e468" d="M-2 -2h3v1h-3zM-2 -1h3v1h-3zM-2 0h3v1h-3zM1 1h2v1h-2zM5 1h3v1h-3zM17 1h2v1h-2zM17 2h1v1h-1zM19 2h3v1h-3zM19 3h3v1h-3zM4 5h1v1h-1zM4 7h1v1h-1zM4 8h1v1h-1zM4 9h1v1h-1zM3 10h1v1h-1zM19 12h3v1h-3zM1 15h2v1h-2zM1 16h2v1h-2zM1 17h3v1h-3zM14 19h1v1h-1zM8 21h1v1h-1zM12 22h1v1h-1zM2 27h3v1h-3zM1 28h1v1h-1zM10 28h1v1h-1zM18 28h4v1h-4zM1 29h1v1h-1zM10 29h1v1h-1zM18 29h4v1h-4zM1 30h1v1h-1zM10 30h1v1h-1zM18 30h4v1h-4zM10 31h1v1h-1zM19 31h3v1h-3zM8 32h2v1h-2zM19 32h3v1h-3zM1 33h2v1h-2zM19 33h3v1h-3zM2 34h1v1h-1zM4 34h1v1h-1zM17 34h1v1h-1zM19 34h3v1h-3zM1 35h3v1h-3zM17 35h1v1h-1zM19 35h3v1h-3zM1 36h1v1h-1zM3 36h1v1h-1zM5 36h1v1h-1zM7 36h1v1h-1zM17 36h1v1h-1zM19 36h3v1h-3zM3 37h1v1h-1zM5 37h3v1h-3zM16 37h2v1h-2zM19 37h3v1h-3zM5 38h2v1h-2zM17 38h1v1h-1zM19 38h3v1h-3zM-2 39h3v1h-3zM4 39h1v1h-1zM7 39h1v1h-1zM12 39h2v1h-2zM17 39h1v1h-1zM19 39h3v1h-3zM6 40h1v1h-1zM12 40h2v1h-2zM17 40h1v1h-1zM-2 41h3v1h-3zM12 41h1v1h-1zM17 41h1v1h-1zM12 42h2v1h-2zM-2 44h3v1h-3zM2 44h1v1h-1zM19 44h3v1h-3zM2 45h1v1h-1zM19 45h3v1h-3zM2 46h1v1h-1zM19 46h3v1h-3zM2 47h1v1h-1zM7 47h3v1h-3zM12 47h1v1h-1zM6 48h2v1h-2zM12 48h1v1h-1zM6 49h1v1h-1zM8 49h5v1h-5zM7 50h2v1h-2zM14 50h2v1h-2zM4 54h2v1h-2zM11 54h1v1h-1z"/><path fill="#7cbea8" d="M1 -2h1v1h-1zM4 -2h5v1h-5zM11 -2h2v1h-2zM16 -2h3v1h-3zM1 -1h1v1h-1zM4 -1h5v1h-5zM11 -1h2v1h-2zM16 -1h3v1h-3zM1 0h1v1h-1zM4 0h5v1h-5zM11 0h2v1h-2zM16 0h3v1h-3zM11 1h2v1h-2zM12 2h1v1h-1zM19 4h3v1h-3zM-2 5h3v1h-3zM3 5h1v1h-1zM-2 6h3v1h-3zM17 6h1v1h-1zM-2 7h3v1h-3zM3 7h1v1h-1zM19 7h3v1h-3zM-2 8h3v1h-3zM3 8h1v1h-1zM17 8h5v1h-5zM-2 9h5v1h-5zM17 9h2v1h-2zM-2 10h3v1h-3zM-2 14h3v1h-3zM-2 16h3v1h-3zM-2 17h3v1h-3zM19 17h3v1h-3zM-2 18h3v1h-3zM19 18h3v1h-3zM19 20h3v1h-3zM19 21h3v1h-3zM17 22h1v1h-1zM19 22h3v1h-3zM19 23h3v1h-3zM18 24h4v1h-4zM18 25h4v1h-4zM17 26h5v1h-5zM11 27h1v1h-1zM14 27h1v1h-1zM17 27h1v1h-1zM19 27h3v1h-3zM16 31h1v1h-1zM15 32h1v1h-1zM15 33h2v1h-2zM-2 34h4v1h-4zM15 34h2v1h-2zM16 35h1v1h-1zM4 36h1v1h-1zM18 36h1v1h-1zM18 37h1v1h-1zM-2 38h4v1h-4zM7 38h4v1h-4zM18 38h1v1h-1zM2 39h1v1h-1zM5 39h2v1h-2zM18 39h1v1h-1zM2 40h1v1h-1zM18 40h1v1h-1zM2 41h1v1h-1zM18 41h1v1h-1zM18 42h1v1h-1zM-2 43h3v1h-3zM18 43h1v1h-1zM18 44h1v1h-1zM18 45h1v1h-1zM18 46h1v1h-1zM18 47h4v1h-4zM18 48h1v1h-1zM18 49h1v1h-1zM18 50h4v1h-4zM18 51h1v1h-1zM-2 55h4v1h-4zM6 55h2v1h-2zM9 55h1v1h-1zM13 55h1v1h-1zM17 55h1v1h-1zM-2 56h4v1h-4zM6 56h2v1h-2zM9 56h1v1h-1zM13 56h1v1h-1zM17 56h1v1h-1zM-2 57h4v1h-4zM6 57h2v1h-2zM9 57h1v1h-1zM13 57h1v1h-1zM17 57h1v1h-1z"/><path fill="#56acbe" d="M2 -2h2v1h-2zM9 -2h1v1h-1zM2 -1h2v1h-2zM9 -1h1v1h-1zM2 0h2v1h-2zM9 0h1v1h-1zM-2 1h3v1h-3zM17 4h2v1h-2zM18 7h1v1h-1zM-2 20h3v1h-3zM17 23h1v1h-1zM17 24h1v1h-1zM17 25h1v1h-1zM14 28h1v1h-1zM3 41h1v1h-1zM19 48h3v1h-3zM19 49h3v1h-3z"/><path fill="#349ecc" d="M10 -2h1v1h-1zM19 -2h3v1h-3zM10 -1h1v1h-1zM19 -1h3v1h-3zM10 0h1v1h-1zM19 0h3v1h-3zM19 1h3v1h-3zM10 2h2v1h-2zM18 6h4v1h-4zM17 7h1v1h-1zM3 9h1v1h-1zM-2 15h3v1h-3zM12 27h2v1h-2zM12 28h2v1h-2zM15 28h2v1h-2zM16 29h1v1h-1zM11 31h1v1h-1zM8 33h1v1h-1zM8 35h1v1h-1zM15 37h1v1h-1zM4 55h2v1h-2zM11 55h2v1h-2zM4 56h2v1h-2zM11 56h2v1h-2zM4 57h2v1h-2zM11 57h2v1h-2z"/><path fill="#f8e73c" d="M13 -2h3v1h-3zM13 -1h3v1h-3zM13 0h3v1h-3zM3 1h2v1h-2zM8 1h1v1h-1zM5 2h2v1h-2zM18 2h1v1h-1zM6 3h1v1h-1zM1 4h3v1h-3zM5 4h1v1h-1zM1 5h2v1h-2zM5 5h1v1h-1zM1 6h2v1h-2zM4 6h2v1h-2zM1 7h2v1h-2zM5 7h1v1h-1zM3 16h1v1h-1zM1 18h2v1h-2zM11 18h2v1h-2zM1 19h2v1h-2zM12 19h1v1h-1zM8 20h1v1h-1zM13 20h1v1h-1zM7 21h1v1h-1zM12 21h1v1h-1zM5 27h2v1h-2zM8 27h2v1h-2zM-2 28h3v1h-3zM2 28h5v1h-5zM8 28h2v1h-2zM-2 29h3v1h-3zM2 29h2v1h-2zM8 29h2v1h-2zM-2 30h3v1h-3zM2 30h2v1h-2zM9 30h1v1h-1zM-2 31h3v1h-3zM2 31h2v1h-2zM7 31h3v1h-3zM-2 32h5v1h-5zM5 32h3v1h-3zM-2 33h3v1h-3zM3 33h5v1h-5zM3 34h1v1h-1zM5 34h2v1h-2zM4 35h3v1h-3zM-2 36h3v1h-3zM6 36h1v1h-1zM-2 37h3v1h-3zM15 38h2v1h-2zM8 39h4v1h-4zM14 39h1v1h-1zM-2 40h3v1h-3zM7 40h5v1h-5zM14 40h1v1h-1zM4 41h8v1h-8zM13 41h4v1h-4zM-2 42h3v1h-3zM3 42h7v1h-7zM11 42h1v1h-1zM14 42h4v1h-4zM3 43h4v1h-4zM3 44h1v1h-1zM-2 45h4v1h-4zM3 45h1v1h-1zM17 45h1v1h-1zM3 46h1v1h-1zM8 46h3v1h-3zM17 46h1v1h-1zM3 47h4v1h-4zM13 47h5v1h-5zM2 48h1v1h-1zM5 48h1v1h-1zM14 48h3v1h-3zM2 49h1v1h-1zM13 49h3v1h-3zM2 50h1v1h-1zM6 50h1v1h-1zM9 50h3v1h-3zM13 50h1v1h-1zM16 50h1v1h-1zM2 51h1v1h-1zM7 51h3v1h-3zM14 51h2v1h-2zM17 51h1v1h-1zM-2 54h3v1h-3zM6 54h5v1h-5zM19 54h3v1h-3zM16 55h1v1h-1zM16 56h1v1h-1zM16 57h1v1h-1z"/><path fill="#fad432" d="M9 1h1v1h-1zM7 2h3v1h-3zM5 3h1v1h-1zM7 3h2v1h-2zM4 4h1v1h-1zM6 4h5v1h-5zM6 5h3v1h-3zM10 5h1v1h-1zM6 6h1v1h-1zM6 7h1v1h-1zM5 8h1v1h-1zM5 9h1v1h-1zM4 10h1v1h-1zM1 11h2v1h-2zM1 12h2v1h-2zM1 14h2v1h-2zM3 15h1v1h-1zM4 16h1v1h-1zM4 17h1v1h-1zM3 18h2v1h-2zM10 18h1v1h-1zM11 19h1v1h-1zM13 19h1v1h-1zM1 20h2v1h-2zM10 20h3v1h-3zM14 20h1v1h-1zM1 21h2v1h-2zM13 21h1v1h-1zM15 21h2v1h-2zM8 26h1v1h-1zM10 26h2v1h-2zM14 26h1v1h-1zM7 27h1v1h-1zM7 28h1v1h-1zM4 29h4v1h-4zM7 30h2v1h-2zM4 31h3v1h-3zM3 32h2v1h-2zM15 39h2v1h-2zM15 40h2v1h-2zM10 42h1v1h-1zM7 43h3v1h-3zM11 43h7v1h-7zM1 44h1v1h-1zM4 44h10v1h-10zM15 44h3v1h-3zM4 45h11v1h-11zM16 45h1v1h-1zM-2 46h3v1h-3zM4 46h4v1h-4zM11 46h6v1h-6zM3 48h2v1h-2zM13 48h1v1h-1zM16 49h1v1h-1zM5 50h1v1h-1zM12 50h1v1h-1zM17 50h1v1h-1zM5 51h2v1h-2zM13 51h1v1h-1zM16 51h1v1h-1zM2 52h1v1h-1zM7 52h2v1h-2zM13 52h2v1h-2zM2 53h1v1h-1zM14 53h2v1h-2zM19 53h3v1h-3zM1 54h1v1h-1zM12 54h1v1h-1z"/><path fill="#e6241c" d="M10 1h1v1h-1z"/><path fill="#f89a28" d="M13 1h4v1h-4zM13 2h4v1h-4zM11 3h6v1h-6zM14 4h3v1h-3zM13 5h4v1h-4zM13 6h4v1h-4zM8 7h9v1h-9zM7 8h10v1h-10zM7 9h10v1h-10zM6 10h4v1h-4zM11 10h6v1h-6zM4 11h5v1h-5zM13 11h4v1h-4zM3 12h3v1h-3zM14 12h3v1h-3zM3 13h1v1h-1zM14 13h3v1h-3zM4 14h4v1h-4zM12 14h5v1h-5zM5 15h3v1h-3zM12 15h2v1h-2zM6 16h3v1h-3zM10 16h1v1h-1zM6 17h4v1h-4zM12 17h2v1h-2zM6 18h4v1h-4zM5 19h2v1h-2zM8 19h2v1h-2zM5 20h2v1h-2zM5 21h2v1h-2zM3 22h8v1h-8zM3 23h3v1h-3zM8 23h4v1h-4zM4 24h11v1h-11zM6 25h2v1h-2zM10 25h5v1h-5zM1 26h5v1h-5zM7 26h1v1h-1zM4 40h1v1h-1zM-2 47h4v1h-4zM-2 48h4v1h-4zM-2 49h3v1h-3zM4 49h1v1h-1zM-2 50h4v1h-4zM1 51h1v1h-1zM-2 52h3v1h-3zM10 52h2v1h-2zM1 53h1v1h-1zM7 53h6v1h-6zM18 55h1v1h-1zM18 56h1v1h-1zM18 57h1v1h-1z"/><path fill="#a8d08c" d="M-2 2h3v1h-3zM-2 3h3v1h-3zM17 3h2v1h-2zM-2 4h3v1h-3zM17 5h5v1h-5zM3 6h1v1h-1zM19 9h3v1h-3zM1 10h2v1h-2zM17 10h5v1h-5zM-2 11h3v1h-3zM17 11h5v1h-5zM-2 12h3v1h-3zM17 12h2v1h-2zM-2 13h3v1h-3zM17 13h5v1h-5zM17 14h5v1h-5zM17 15h5v1h-5zM17 16h5v1h-5zM17 17h2v1h-2zM17 18h2v1h-2zM-2 19h3v1h-3zM17 19h5v1h-5zM17 20h2v1h-2zM-2 21h3v1h-3zM17 21h2v1h-2zM-2 22h3v1h-3zM18 22h1v1h-1zM-2 23h3v1h-3zM18 23h1v1h-1zM-2 24h3v1h-3zM-2 25h3v1h-3zM-2 26h3v1h-3zM-2 27h4v1h-4zM10 27h1v1h-1zM15 27h1v1h-1zM18 27h1v1h-1zM11 28h1v1h-1zM17 28h1v1h-1zM11 29h1v1h-1zM11 30h1v1h-1zM17 30h1v1h-1zM1 31h1v1h-1zM17 31h2v1h-2zM16 32h3v1h-3zM17 33h2v1h-2zM7 34h1v1h-1zM18 34h1v1h-1zM-2 35h3v1h-3zM7 35h1v1h-1zM18 35h1v1h-1zM2 36h1v1h-1zM16 36h1v1h-1zM1 37h2v1h-2zM4 37h1v1h-1zM2 38h3v1h-3zM11 38h4v1h-4zM1 39h1v1h-1zM3 39h1v1h-1zM1 40h1v1h-1zM3 40h1v1h-1zM5 40h1v1h-1zM19 40h3v1h-3zM1 41h1v1h-1zM19 41h3v1h-3zM1 42h2v1h-2zM19 42h3v1h-3zM1 43h2v1h-2zM19 43h3v1h-3zM10 47h2v1h-2zM8 48h4v1h-4zM7 49h1v1h-1zM19 51h3v1h-3zM18 52h1v1h-1zM18 53h1v1h-1zM2 54h2v1h-2zM17 54h2v1h-2zM2 55h2v1h-2zM8 55h1v1h-1zM10 55h1v1h-1zM14 55h2v1h-2zM19 55h3v1h-3zM2 56h2v1h-2zM8 56h1v1h-1zM10 56h1v1h-1zM14 56h2v1h-2zM19 56h3v1h-3zM2 57h2v1h-2zM8 57h1v1h-1zM10 57h1v1h-1zM14 57h2v1h-2zM19 57h3v1h-3z"/><path fill="#f9b82e" d="M1 2h4v1h-4zM1 3h4v1h-4zM9 3h2v1h-2zM11 4h3v1h-3zM9 5h1v1h-1zM11 5h2v1h-2zM7 6h6v1h-6zM7 7h1v1h-1zM1 8h2v1h-2zM6 8h1v1h-1zM6 9h1v1h-1zM5 10h1v1h-1zM3 11h1v1h-1zM1 13h2v1h-2zM3 14h1v1h-1zM4 15h1v1h-1zM14 15h3v1h-3zM5 16h1v1h-1zM11 16h6v1h-6zM5 17h1v1h-1zM10 17h2v1h-2zM14 17h3v1h-3zM5 18h1v1h-1zM13 18h4v1h-4zM3 19h2v1h-2zM10 19h1v1h-1zM15 19h2v1h-2zM3 20h2v1h-2zM7 20h1v1h-1zM9 20h1v1h-1zM15 20h2v1h-2zM3 21h2v1h-2zM9 21h3v1h-3zM14 21h1v1h-1zM1 22h2v1h-2zM11 22h1v1h-1zM13 22h4v1h-4zM1 23h2v1h-2zM12 23h5v1h-5zM1 24h3v1h-3zM15 24h2v1h-2zM1 25h5v1h-5zM8 25h2v1h-2zM15 25h2v1h-2zM6 26h1v1h-1zM9 26h1v1h-1zM12 26h2v1h-2zM15 26h2v1h-2zM17 29h1v1h-1zM4 30h3v1h-3zM10 43h1v1h-1zM14 44h1v1h-1zM15 45h1v1h-1zM1 46h1v1h-1zM17 48h1v1h-1zM1 49h1v1h-1zM3 49h1v1h-1zM5 49h1v1h-1zM17 49h1v1h-1zM3 50h2v1h-2zM-2 51h3v1h-3zM3 51h2v1h-2zM10 51h3v1h-3zM3 52h4v1h-4zM9 52h1v1h-1zM12 52h1v1h-1zM15 52h3v1h-3zM19 52h3v1h-3zM-2 53h3v1h-3zM3 53h4v1h-4zM13 53h1v1h-1zM16 53h2v1h-2z"/><path fill="#f57e24" d="M10 10h1v1h-1zM9 11h4v1h-4zM6 12h8v1h-8zM4 13h10v1h-10zM8 14h4v1h-4zM8 15h4v1h-4zM9 16h1v1h-1zM7 19h1v1h-1zM6 23h2v1h-2zM16 30h1v1h-1zM1 52h1v1h-1zM13 54h1v1h-1z"/><path fill="#f05a20" d="M16 27h1v1h-1zM10 32h1v1h-1zM14 54h3v1h-3z"/><path fill="#1e96d2" d="M12 29h4v1h-4zM12 30h4v1h-4zM12 31h4v1h-4zM11 32h4v1h-4zM9 33h6v1h-6zM8 34h7v1h-7zM9 35h7v1h-7zM8 36h8v1h-8zM8 37h7v1h-7z"/></g><g transform="scale(1.00455 1) translate(-34.4 -22.00)"><polygon points="53.00,233.00 60.00,228.50 72.00,227.50 82.00,228.00 89.00,231.00 87.00,238.00 80.00,244.00 70.00,246.50 60.00,246.00 54.00,241.00" fill="#9ccca4" opacity="0.5"/></g><filter id="nle2" x="0" y="0" width="100%" height="100%" filterUnits="userSpaceOnUse" color-interpolation-filters="sRGB"><feTurbulence type="fractalNoise" baseFrequency="0.60" numOctaves="2" seed="9"/><feColorMatrix type="matrix" values="1 1 1 0 -1  1 1 1 0 -1  1 1 1 0 -1  0 0 0 0 1"/></filter><rect x="0" y="0" width="88.40" height="246.40" filter="url(#nle2)" style="mix-blend-mode:overlay" opacity="0.35"/><g transform="scale(1.00455 1) translate(-34.4 -22.00)" shape-rendering="auto"><defs><pattern id="spR" width="12" height="20" patternUnits="userSpaceOnUse"><rect x="9.5" y="8" width="1" height="1.4" fill="#f0e050"/><rect x="11.5" y="16.5" width="1" height="0.8" fill="#1e96d2"/><rect x="10" y="1.5" width="0.8" height="1" fill="#1e96d2"/><rect x="7.5" y="7.5" width="1.2" height="0.8" fill="#e8e060"/><rect x="9" y="7.5" width="1.2" height="0.8" fill="#1e96d2"/><rect x="6.5" y="8.5" width="1" height="0.8" fill="#1e96d2"/><rect x="1" y="4" width="1.2" height="1" fill="#d8e070"/><rect x="2" y="4" width="0.8" height="0.8" fill="#1e96d2"/><rect x="3" y="5" width="1" height="1" fill="#1e96d2"/><rect x="3" y="17" width="1.2" height="0.8" fill="#f0e050"/><rect x="2.5" y="6" width="1" height="0.8" fill="#e8e060"/><rect x="5.5" y="13" width="0.8" height="1" fill="#1e96d2"/><rect x="1" y="10.5" width="1.2" height="1.4" fill="#3aa0cc"/><rect x="0" y="19" width="1.2" height="1" fill="#f0e050"/><rect x="1" y="9.5" width="1" height="1" fill="#3aa0cc"/><rect x="11" y="10" width="1" height="1" fill="#1e96d2"/><rect x="11" y="5.5" width="1" height="0.8" fill="#1e96d2"/><rect x="11.5" y="11" width="0.8" height="1.4" fill="#e8e060"/><rect x="6.5" y="11.5" width="1.2" height="0.8" fill="#e8e060"/><rect x="7" y="1" width="0.8" height="1.4" fill="#f0e050"/><rect x="3" y="3.5" width="1" height="1" fill="#1e96d2"/><rect x="8" y="11" width="1" height="1" fill="#d8e070"/><rect x="1.5" y="18.5" width="1" height="1" fill="#f0e050"/><rect x="0.5" y="13.5" width="0.8" height="1" fill="#1e96d2"/><rect x="8" y="19.5" width="0.8" height="1" fill="#3aa0cc"/><rect x="4" y="17" width="1" height="1.4" fill="#1e96d2"/><rect x="5" y="9.5" width="0.8" height="1.4" fill="#1e96d2"/><rect x="2" y="9.5" width="0.8" height="1.4" fill="#e8e060"/><rect x="0.5" y="2.5" width="1.2" height="1" fill="#d8e070"/><rect x="0.5" y="7.5" width="1.2" height="1" fill="#f0e050"/><rect x="4" y="14.5" width="1" height="0.8" fill="#f0e050"/><rect x="0.5" y="1" width="1" height="0.8" fill="#e8e060"/><rect x="2" y="18" width="1.2" height="1" fill="#1e96d2"/><rect x="1.5" y="5" width="1" height="0.8" fill="#e8e060"/><rect x="0.5" y="13" width="0.8" height="1" fill="#3aa0cc"/><rect x="9.5" y="5" width="1" height="1" fill="#d8e070"/><rect x="11" y="10" width="1" height="1" fill="#e8e060"/><rect x="7.5" y="12.5" width="0.8" height="1" fill="#1e96d2"/><rect x="8.5" y="5.5" width="1" height="1" fill="#f0e050"/><rect x="2.5" y="2.5" width="1" height="1.4" fill="#e8e060"/><rect x="8.5" y="16" width="0.8" height="1" fill="#3aa0cc"/><rect x="11" y="18.5" width="0.8" height="1" fill="#f0e050"/><rect x="5.5" y="17.5" width="1.2" height="1" fill="#f0e050"/><rect x="7.5" y="8" width="1.2" height="1" fill="#f0e050"/><rect x="5" y="5.5" width="0.8" height="1" fill="#d8e070"/><rect x="8.5" y="8" width="1.2" height="1" fill="#3aa0cc"/><rect x="7" y="9" width="1.2" height="1.4" fill="#d8e070"/><rect x="5.5" y="11" width="1.2" height="1" fill="#3aa0cc"/><rect x="11.5" y="13" width="0.8" height="1.4" fill="#3aa0cc"/><rect x="7" y="11.5" width="1.2" height="0.8" fill="#3aa0cc"/><rect x="8" y="5" width="1" height="1" fill="#1e96d2"/><rect x="4.5" y="2.5" width="1.2" height="1.4" fill="#f0e050"/><rect x="6.5" y="5" width="1.2" height="1.4" fill="#d8e070"/><rect x="10.5" y="13" width="1.2" height="1.4" fill="#3aa0cc"/><rect x="10" y="8.5" width="0.8" height="0.8" fill="#f0e050"/><rect x="2.5" y="18.5" width="1.2" height="1.4" fill="#e8e060"/><rect x="2.5" y="7" width="0.8" height="1.4" fill="#f0e050"/><rect x="11" y="1" width="0.8" height="0.8" fill="#e8e060"/><rect x="0.5" y="4" width="1" height="0.8" fill="#1e96d2"/><rect x="7.5" y="6" width="0.8" height="1" fill="#d8e070"/><rect x="7" y="11" width="1.2" height="1.4" fill="#e8e060"/><rect x="1" y="18.5" width="0.8" height="1.4" fill="#1e96d2"/><rect x="5.5" y="0" width="1" height="1" fill="#3aa0cc"/><rect x="6.5" y="3.5" width="1.2" height="1" fill="#f0e050"/><rect x="0.5" y="17.5" width="1" height="0.8" fill="#d8e070"/><rect x="4.5" y="17" width="1" height="1.4" fill="#d8e070"/><rect x="4.5" y="11" width="1" height="1" fill="#1e96d2"/><rect x="9" y="17" width="1" height="0.8" fill="#3aa0cc"/><rect x="2.5" y="19" width="1.2" height="1" fill="#e8e060"/><rect x="3" y="4" width="0.8" height="1" fill="#d8e070"/><rect x="10.5" y="0" width="0.8" height="1" fill="#e8e060"/><rect x="9" y="19.5" width="0.8" height="1" fill="#d8e070"/><rect x="10" y="18" width="1" height="1" fill="#e8e060"/><rect x="3.5" y="15.5" width="1" height="1.4" fill="#3aa0cc"/><rect x="6" y="12" width="1.2" height="1.4" fill="#1e96d2"/><rect x="4" y="9.5" width="1" height="1" fill="#e8e060"/><rect x="0" y="10" width="1" height="1" fill="#3aa0cc"/><rect x="2" y="15" width="0.8" height="1.4" fill="#1e96d2"/><rect x="9.5" y="14" width="1" height="0.8" fill="#1e96d2"/><rect x="2" y="12.5" width="1" height="1.4" fill="#1e96d2"/><rect x="8.5" y="8.5" width="1" height="0.8" fill="#1e96d2"/><rect x="3.5" y="15.5" width="0.8" height="1.4" fill="#3aa0cc"/><rect x="4.5" y="9" width="1.2" height="1" fill="#e8e060"/><rect x="8" y="19" width="0.8" height="0.8" fill="#f0e050"/><rect x="2" y="9.5" width="1.2" height="1.4" fill="#3aa0cc"/><rect x="5" y="19.5" width="1.2" height="1.4" fill="#3aa0cc"/><rect x="0" y="14.5" width="1" height="1.4" fill="#3aa0cc"/><rect x="11.5" y="18.5" width="0.8" height="0.8" fill="#1e96d2"/><rect x="4" y="17.5" width="1.2" height="0.8" fill="#e8e060"/><rect x="10.5" y="17" width="0.8" height="1" fill="#1e96d2"/><rect x="6.5" y="19" width="1.2" height="1.4" fill="#d8e070"/><rect x="10" y="15" width="1" height="1" fill="#e8e060"/><rect x="10.5" y="6" width="1" height="0.8" fill="#3aa0cc"/><rect x="4.5" y="0" width="1" height="1.4" fill="#f0e050"/><rect x="4.5" y="15" width="0.8" height="0.8" fill="#3aa0cc"/><rect x="7.5" y="17.5" width="1" height="1.4" fill="#e8e060"/><rect x="2" y="13.5" width="1.2" height="0.8" fill="#d8e070"/><rect x="1" y="7" width="0.8" height="0.8" fill="#3aa0cc"/><rect x="10.5" y="0.5" width="1.2" height="1" fill="#3aa0cc"/><rect x="1" y="12.5" width="1" height="0.8" fill="#f0e050"/><rect x="1.5" y="3.5" width="1.2" height="1.4" fill="#1e96d2"/><rect x="1.5" y="4" width="1.2" height="1" fill="#3aa0cc"/><rect x="2" y="5.5" width="0.8" height="1" fill="#d8e070"/><rect x="2.5" y="2" width="0.8" height="0.8" fill="#d8e070"/><rect x="8.5" y="3" width="1" height="1.4" fill="#f0e050"/><rect x="1" y="8.5" width="1.2" height="1.4" fill="#1e96d2"/><rect x="1.5" y="12.5" width="0.8" height="0.8" fill="#d8e070"/><rect x="6.5" y="2.5" width="1.2" height="1.4" fill="#3aa0cc"/><rect x="7.5" y="15.5" width="1.2" height="1" fill="#3aa0cc"/><rect x="0.5" y="4" width="1" height="0.8" fill="#f0e050"/></pattern><pattern id="spR2" width="12" height="20" patternUnits="userSpaceOnUse"><rect x="7" y="17.5" width="1" height="1.4" fill="#d8e070"/><rect x="9" y="6" width="1.2" height="1" fill="#8cc8a8"/><rect x="10" y="19.5" width="0.8" height="1" fill="#8cc8a8"/><rect x="4.5" y="4.5" width="1.2" height="1.4" fill="#3aa0cc"/><rect x="10" y="1" width="1" height="1" fill="#a8d490"/><rect x="10" y="19.5" width="1.2" height="0.8" fill="#8cc8a8"/><rect x="8" y="2" width="0.8" height="0.8" fill="#3aa0cc"/><rect x="3.5" y="19" width="1" height="1" fill="#3aa0cc"/><rect x="7" y="18.5" width="1.2" height="0.8" fill="#8cc8a8"/><rect x="10" y="9" width="0.8" height="1.4" fill="#d8e070"/><rect x="1" y="14.5" width="1" height="1.4" fill="#e8e060"/><rect x="1" y="8" width="0.8" height="1.4" fill="#e8e060"/><rect x="4.5" y="0.5" width="1.2" height="0.8" fill="#3aa0cc"/><rect x="6" y="3" width="1" height="0.8" fill="#e8e060"/><rect x="0" y="0" width="0.8" height="0.8" fill="#8cc8a8"/><rect x="7.5" y="12" width="1" height="0.8" fill="#d8e070"/><rect x="9" y="6" width="1" height="0.8" fill="#e8e060"/><rect x="4.5" y="10.5" width="1" height="0.8" fill="#3aa0cc"/><rect x="2" y="7.5" width="0.8" height="0.8" fill="#3aa0cc"/><rect x="7" y="15.5" width="1.2" height="1.4" fill="#8cc8a8"/><rect x="3" y="14" width="0.8" height="1.4" fill="#a8d490"/><rect x="2" y="13" width="0.8" height="1" fill="#d8e070"/><rect x="6.5" y="6.5" width="1" height="1.4" fill="#3aa0cc"/><rect x="4.5" y="0.5" width="0.8" height="1" fill="#8cc8a8"/><rect x="9.5" y="18" width="0.8" height="0.8" fill="#3aa0cc"/><rect x="3" y="14" width="0.8" height="1.4" fill="#e8e060"/><rect x="5" y="9" width="0.8" height="0.8" fill="#d8e070"/><rect x="1" y="6.5" width="1.2" height="0.8" fill="#a8d490"/><rect x="0" y="19" width="1" height="1.4" fill="#e8e060"/><rect x="7" y="4" width="1" height="1.4" fill="#a8d490"/><rect x="2" y="12" width="1.2" height="0.8" fill="#8cc8a8"/><rect x="4.5" y="7" width="0.8" height="1.4" fill="#a8d490"/><rect x="3" y="5" width="0.8" height="1.4" fill="#a8d490"/><rect x="6" y="15" width="0.8" height="1" fill="#a8d490"/><rect x="0.5" y="3" width="0.8" height="1.4" fill="#3aa0cc"/><rect x="4" y="7.5" width="1" height="1" fill="#d8e070"/><rect x="9.5" y="15.5" width="1.2" height="0.8" fill="#e8e060"/><rect x="11.5" y="2" width="0.8" height="1" fill="#8cc8a8"/><rect x="8.5" y="19.5" width="0.8" height="1" fill="#a8d490"/><rect x="3" y="6.5" width="0.8" height="1" fill="#3aa0cc"/><rect x="6.5" y="14" width="0.8" height="0.8" fill="#8cc8a8"/><rect x="2.5" y="9" width="1.2" height="1.4" fill="#e8e060"/><rect x="2" y="2.5" width="0.8" height="1" fill="#e8e060"/><rect x="5" y="16.5" width="0.8" height="1.4" fill="#a8d490"/><rect x="0.5" y="0.5" width="1" height="1.4" fill="#d8e070"/><rect x="4.5" y="1" width="1.2" height="1.4" fill="#3aa0cc"/><rect x="1" y="15" width="1.2" height="1" fill="#3aa0cc"/><rect x="5" y="4" width="0.8" height="1" fill="#3aa0cc"/><rect x="8.5" y="11.5" width="1.2" height="1.4" fill="#3aa0cc"/><rect x="11" y="4" width="1" height="0.8" fill="#e8e060"/><rect x="10.5" y="15" width="1" height="0.8" fill="#3aa0cc"/><rect x="7.5" y="18" width="1.2" height="1.4" fill="#3aa0cc"/><rect x="6" y="12" width="0.8" height="1.4" fill="#a8d490"/><rect x="1" y="2.5" width="1.2" height="0.8" fill="#3aa0cc"/><rect x="4" y="13" width="1" height="1.4" fill="#e8e060"/><rect x="11" y="18.5" width="1" height="1" fill="#d8e070"/><rect x="8.5" y="2.5" width="1.2" height="0.8" fill="#a8d490"/><rect x="4.5" y="19" width="1" height="0.8" fill="#3aa0cc"/><rect x="3.5" y="3.5" width="1.2" height="1.4" fill="#d8e070"/><rect x="7.5" y="8" width="1" height="1" fill="#3aa0cc"/><rect x="2" y="19.5" width="1.2" height="0.8" fill="#8cc8a8"/><rect x="5" y="14" width="0.8" height="1" fill="#d8e070"/><rect x="6" y="8" width="1.2" height="1" fill="#8cc8a8"/><rect x="3" y="6.5" width="0.8" height="1.4" fill="#d8e070"/><rect x="5" y="6.5" width="0.8" height="1" fill="#8cc8a8"/><rect x="5.5" y="1" width="1" height="0.8" fill="#3aa0cc"/><rect x="1.5" y="14" width="1" height="0.8" fill="#d8e070"/><rect x="6.5" y="12" width="1" height="1.4" fill="#a8d490"/><rect x="5" y="19.5" width="1" height="0.8" fill="#d8e070"/><rect x="0.5" y="8.5" width="0.8" height="1.4" fill="#a8d490"/><rect x="11" y="8.5" width="1" height="1" fill="#a8d490"/><rect x="10" y="18" width="1.2" height="0.8" fill="#3aa0cc"/><rect x="6" y="14.5" width="0.8" height="1" fill="#8cc8a8"/><rect x="3.5" y="4.5" width="1.2" height="0.8" fill="#3aa0cc"/><rect x="7" y="3" width="1.2" height="1.4" fill="#a8d490"/><rect x="5.5" y="2" width="0.8" height="1" fill="#8cc8a8"/><rect x="4" y="5.5" width="1" height="1.4" fill="#3aa0cc"/><rect x="11" y="1" width="0.8" height="1" fill="#8cc8a8"/><rect x="5.5" y="17" width="1.2" height="1.4" fill="#a8d490"/><rect x="2.5" y="12.5" width="0.8" height="1" fill="#8cc8a8"/><rect x="11.5" y="12" width="1" height="1" fill="#8cc8a8"/><rect x="3" y="0" width="1.2" height="1.4" fill="#d8e070"/><rect x="10" y="16" width="1" height="1" fill="#e8e060"/><rect x="10" y="6.5" width="1.2" height="1.4" fill="#3aa0cc"/><rect x="11" y="3.5" width="0.8" height="1" fill="#8cc8a8"/><rect x="1" y="9.5" width="1" height="1" fill="#a8d490"/><rect x="11" y="0.5" width="1.2" height="0.8" fill="#e8e060"/><rect x="0.5" y="14" width="1.2" height="1" fill="#e8e060"/><rect x="4" y="15.5" width="0.8" height="0.8" fill="#3aa0cc"/><rect x="6.5" y="1" width="1.2" height="1" fill="#8cc8a8"/></pattern><pattern id="spL" width="6" height="20" patternUnits="userSpaceOnUse"><rect x="3.5" y="19.5" width="1" height="0.8" fill="#c8dc80"/><rect x="1" y="0" width="1.2" height="1" fill="#c8dc80"/><rect x="4.5" y="2.5" width="1.2" height="1.4" fill="#c8dc80"/><rect x="5.5" y="1" width="0.8" height="1.4" fill="#e0e070"/><rect x="3.5" y="13.5" width="0.8" height="0.8" fill="#e8e060"/><rect x="0" y="3.5" width="1.2" height="1.4" fill="#e8e060"/><rect x="0.5" y="12" width="1" height="0.8" fill="#1e96d2"/><rect x="5" y="7" width="0.8" height="1" fill="#e0e070"/><rect x="1.5" y="12.5" width="1" height="0.8" fill="#c8dc80"/><rect x="1.5" y="0" width="0.8" height="1" fill="#e0e070"/><rect x="3.5" y="4" width="0.8" height="1" fill="#1e96d2"/><rect x="5.5" y="3.5" width="0.8" height="0.8" fill="#60acc4"/><rect x="4.5" y="6" width="1" height="0.8" fill="#e8e060"/><rect x="0.5" y="4" width="0.8" height="1.4" fill="#60acc4"/><rect x="0.5" y="18" width="1.2" height="0.8" fill="#e0e070"/><rect x="3" y="2" width="0.8" height="1.4" fill="#e0e070"/><rect x="0.5" y="18.5" width="0.8" height="1.4" fill="#e8e060"/><rect x="5.5" y="1" width="1" height="1.4" fill="#1e96d2"/><rect x="5" y="19" width="1.2" height="1" fill="#e8e060"/><rect x="5.5" y="18" width="0.8" height="1.4" fill="#1e96d2"/><rect x="3" y="7.5" width="1.2" height="1.4" fill="#e8e060"/><rect x="0" y="11.5" width="1.2" height="1.4" fill="#60acc4"/><rect x="5.5" y="2.5" width="0.8" height="1.4" fill="#c8dc80"/><rect x="2.5" y="14" width="1" height="0.8" fill="#e8e060"/><rect x="4.5" y="0.5" width="1.2" height="1" fill="#e0e070"/><rect x="0" y="13.5" width="0.8" height="0.8" fill="#1e96d2"/><rect x="3.5" y="8.5" width="0.8" height="1" fill="#c8dc80"/><rect x="5" y="9" width="1.2" height="0.8" fill="#1e96d2"/><rect x="0" y="12" width="1" height="1" fill="#60acc4"/><rect x="2.5" y="7.5" width="1.2" height="0.8" fill="#60acc4"/><rect x="3" y="7" width="1" height="1.4" fill="#1e96d2"/><rect x="2.5" y="17.5" width="0.8" height="1.4" fill="#c8dc80"/><rect x="2" y="5" width="0.8" height="0.8" fill="#c8dc80"/><rect x="1" y="8" width="0.8" height="1.4" fill="#e8e060"/><rect x="1" y="0" width="0.8" height="1" fill="#1e96d2"/><rect x="1.5" y="12" width="1.2" height="0.8" fill="#c8dc80"/><rect x="2.5" y="9" width="1" height="1.4" fill="#e8e060"/><rect x="2" y="4" width="1.2" height="1.4" fill="#1e96d2"/><rect x="2" y="3.5" width="1" height="1" fill="#1e96d2"/><rect x="1" y="17.5" width="1.2" height="0.8" fill="#e0e070"/></pattern></defs><polygon points="107.60,22 122.4,22 122.4,140 111.61,140" fill="url(#spR)"/><polygon points="111.61,140 122.4,140 122.4,262 115.76,262" fill="url(#spR2)"/><polygon points="34.4,27 37.07,27 43.70,222 34.4,222" fill="url(#spL)"/><polygon points="30.00,18.00 126.00,18.00 126.00,24.60 40.00,26.60 30.00,26.80" fill="#1e96d2"/><line x1="38.16" y1="18.00" x2="46.80" y2="272.00" stroke="#1e96d2" stroke-width="2.80"/><line x1="106.16" y1="18.00" x2="114.80" y2="272.00" stroke="#1e96d2" stroke-width="2.60"/><line x1="30.00" y1="140.90" x2="42.31" y2="140.70" stroke="#1e96d2" stroke-width="2.00"/><line x1="42.31" y1="140.80" x2="110.31" y2="140.00" stroke="#4aa6bc" stroke-width="1.10"/><polygon points="78.40,18.00 90.20,18.00 90.40,35.00 78.60,35.40" fill="#1e96d2"/><rect x="84.20" y="24.50" width="2.40" height="3.00" fill="#f0e8a0"/><rect x="82.00" y="30.00" width="3.00" height="1.50" fill="#c8e0b0"/><polygon points="86.50,140.40 110.80,139.60 110.60,155.00 103.60,157.00 103.60,188.40 68.20,189.40 68.20,174.00 71.00,169.00 84.30,157.50 85.60,147.00" fill="#1e96d2"/><path d="M88 146 Q87.6 153 86.5 158 L75 168.5" fill="none" stroke="#5ab4d8" stroke-width="0.5" opacity="0.6"/><line x1="100.00" y1="188.90" x2="111.96" y2="188.50" stroke="#1e96d2" stroke-width="1.60"/><polyline points="71,188 64.4,192.4 45.6,203 34,216.5 30,221" fill="none" stroke="#1e96d2" stroke-width="5" stroke-linejoin="round"/><polygon points="30.00,262.00 47.00,262.20 95.00,263.80 113.00,261.20 126.00,262.00 126.00,265.80 95.00,266.00 30.00,266.00" fill="#1e96d2"/><line x1="108.11" y1="75.20" x2="126.00" y2="74.90" stroke="#1e96d2" stroke-width="1.50"/><line x1="110.01" y1="131.20" x2="126.00" y2="130.90" stroke="#1e96d2" stroke-width="1.50"/><line x1="111.98" y1="189.20" x2="126.00" y2="188.90" stroke="#1e96d2" stroke-width="1.50"/><line x1="113.99" y1="248.20" x2="126.00" y2="247.90" stroke="#1e96d2" stroke-width="1.50"/><path d="M110.2 126 Q114 118 122.5 116.5" fill="none" stroke="#1e96d2" stroke-width="1.3"/><path d="M44 64 Q46 59 51 60.5 Q56 61 55 65 Q53 68.5 48 67.6 Q43.5 67.4 44 64z" fill="#78bcb0" opacity="0.6"/><path d="M46 50 Q49 44 52 47 Q54 52 52 57 Q49 60 47 57z" fill="#90c8a8" opacity="0.45"/><rect x="45.00" y="62.50" width="2.00" height="1.60" fill="#1e96d2"/><rect x="49.00" y="64.50" width="2.50" height="1.60" fill="#1e96d2"/><rect x="52.50" y="61.50" width="1.60" height="2.00" fill="#1e96d2"/><rect x="47.00" y="66.00" width="1.60" height="1.20" fill="#1e96d2"/><rect x="50.50" y="60.50" width="1.20" height="1.20" fill="#1e96d2"/><rect x="48.50" y="47.00" width="1.80" height="1.60" fill="#1e96d2"/><rect x="49.50" y="52.50" width="1.80" height="1.80" fill="#1e96d2"/><rect x="47.80" y="56.50" width="2.00" height="1.50" fill="#1e96d2"/><rect x="68.00" y="112.00" width="5.60" height="2.00" fill="#1e96d2"/><rect x="68.20" y="116.20" width="4.60" height="3.20" fill="#1e96d2"/><rect x="78.00" y="103.00" width="11.50" height="1.70" fill="#1e96d2"/><rect x="88.00" y="97.20" width="3.20" height="1.80" fill="#ec5a2a"/><rect x="92.50" y="99.50" width="2.20" height="1.40" fill="#ee4a26"/><rect x="84.50" y="38.50" width="2.50" height="1.60" fill="#ec5a2a"/><rect x="53.00" y="182.80" width="4.20" height="3.20" fill="#1e96d2"/><rect x="34.40" y="174.60" width="7.00" height="1.80" fill="#1e96d2"/><rect x="34.40" y="189.50" width="5.00" height="1.60" fill="#1e96d2"/><rect x="34.40" y="147.50" width="3.00" height="1.60" fill="#1e96d2"/><rect x="34.40" y="22.00" width="6.00" height="1.20" fill="#f08040"/></g><rect x="10.00" y="5.00" width="2.00" height="2.00" fill="#e8281e"/><rect x="45.30" y="5.00" width="2.00" height="2.00" fill="#e8281e"/><rect x="5.40" y="38.00" width="2.00" height="2.00" fill="#e8281e"/><rect x="6.30" y="187.90" width="2.00" height="2.00" fill="#e8281e"/><rect x="78.00" y="201.00" width="2.00" height="2.00" fill="#e8281e"/></svg></div><div class="lab" style="left:346.1px;top:17.0px">30m</div><div class="p" style="left:307.5px;top:22.0px;width:88.0px;height:246.4px"><svg width="88.00" height="246.40" viewBox="0 0 88.000 246.400" shape-rendering="crispEdges"><defs><filter id="fle3" x="-10%" y="-10%" width="120%" height="120%"><feGaussianBlur stdDeviation="0.114 0.114"/></filter></defs><g transform="scale(4.40000 4.40000)" filter="url(#fle3)"><path fill="#d4e468" d="M-2 -2h3v1h-3zM-2 -1h3v1h-3zM-2 0h3v1h-3zM2 1h1v1h-1zM5 1h3v1h-3zM17 1h2v1h-2zM17 2h1v1h-1zM19 2h3v1h-3zM16 3h1v1h-1zM19 3h3v1h-3zM16 4h1v1h-1zM1 5h1v1h-1zM4 5h1v1h-1zM16 5h1v1h-1zM1 6h1v1h-1zM16 6h1v1h-1zM1 7h1v1h-1zM4 7h1v1h-1zM16 7h1v1h-1zM1 8h1v1h-1zM4 8h1v1h-1zM1 9h1v1h-1zM4 9h1v1h-1zM1 10h1v1h-1zM3 10h1v1h-1zM1 11h1v1h-1zM1 12h1v1h-1zM19 12h3v1h-3zM1 13h1v1h-1zM2 15h1v1h-1zM2 16h1v1h-1zM2 17h2v1h-2zM14 19h1v1h-1zM8 21h1v1h-1zM12 22h1v1h-1zM2 27h3v1h-3zM1 28h1v1h-1zM10 28h1v1h-1zM18 28h4v1h-4zM1 29h1v1h-1zM10 29h1v1h-1zM18 29h4v1h-4zM1 30h1v1h-1zM10 30h1v1h-1zM18 30h4v1h-4zM10 31h1v1h-1zM19 31h3v1h-3zM8 32h2v1h-2zM19 32h3v1h-3zM1 33h2v1h-2zM19 33h3v1h-3zM2 34h1v1h-1zM4 34h1v1h-1zM17 34h1v1h-1zM19 34h3v1h-3zM1 35h3v1h-3zM17 35h1v1h-1zM19 35h3v1h-3zM1 36h1v1h-1zM3 36h1v1h-1zM5 36h1v1h-1zM7 36h1v1h-1zM17 36h1v1h-1zM19 36h3v1h-3zM3 37h1v1h-1zM5 37h3v1h-3zM16 37h2v1h-2zM19 37h3v1h-3zM5 38h2v1h-2zM17 38h1v1h-1zM19 38h3v1h-3zM-2 39h3v1h-3zM4 39h1v1h-1zM7 39h1v1h-1zM12 39h2v1h-2zM17 39h1v1h-1zM19 39h3v1h-3zM6 40h1v1h-1zM12 40h2v1h-2zM17 40h1v1h-1zM-2 41h3v1h-3zM12 41h1v1h-1zM17 41h1v1h-1zM12 42h2v1h-2zM-2 44h3v1h-3zM2 44h1v1h-1zM19 44h3v1h-3zM2 45h1v1h-1zM19 45h3v1h-3zM2 46h1v1h-1zM19 46h3v1h-3zM2 47h1v1h-1zM7 47h3v1h-3zM12 47h1v1h-1zM6 48h2v1h-2zM12 48h1v1h-1zM6 49h1v1h-1zM8 49h5v1h-5zM7 50h2v1h-2zM14 50h2v1h-2zM4 54h2v1h-2zM11 54h1v1h-1z"/><path fill="#7cbea8" d="M1 -2h1v1h-1zM4 -2h5v1h-5zM11 -2h2v1h-2zM16 -2h3v1h-3zM1 -1h1v1h-1zM4 -1h5v1h-5zM11 -1h2v1h-2zM16 -1h3v1h-3zM1 0h1v1h-1zM4 0h5v1h-5zM11 0h2v1h-2zM16 0h3v1h-3zM1 1h1v1h-1zM11 1h2v1h-2zM12 2h1v1h-1zM19 4h3v1h-3zM-2 5h3v1h-3zM3 5h1v1h-1zM-2 6h3v1h-3zM17 6h1v1h-1zM-2 7h3v1h-3zM3 7h1v1h-1zM19 7h3v1h-3zM-2 8h3v1h-3zM3 8h1v1h-1zM17 8h5v1h-5zM-2 9h3v1h-3zM2 9h1v1h-1zM17 9h2v1h-2zM-2 10h3v1h-3zM-2 14h3v1h-3zM-2 16h3v1h-3zM-2 17h3v1h-3zM19 17h3v1h-3zM-2 18h3v1h-3zM19 18h3v1h-3zM19 20h3v1h-3zM19 21h3v1h-3zM17 22h1v1h-1zM19 22h3v1h-3zM19 23h3v1h-3zM1 24h1v1h-1zM18 24h4v1h-4zM1 25h1v1h-1zM18 25h4v1h-4zM1 26h1v1h-1zM17 26h5v1h-5zM11 27h1v1h-1zM14 27h1v1h-1zM17 27h1v1h-1zM19 27h3v1h-3zM16 31h1v1h-1zM15 32h1v1h-1zM15 33h2v1h-2zM-2 34h4v1h-4zM15 34h2v1h-2zM16 35h1v1h-1zM4 36h1v1h-1zM18 36h1v1h-1zM18 37h1v1h-1zM-2 38h4v1h-4zM7 38h4v1h-4zM18 38h1v1h-1zM2 39h1v1h-1zM5 39h2v1h-2zM18 39h1v1h-1zM2 40h1v1h-1zM18 40h1v1h-1zM2 41h1v1h-1zM18 41h1v1h-1zM18 42h1v1h-1zM-2 43h3v1h-3zM18 43h1v1h-1zM18 44h1v1h-1zM18 45h1v1h-1zM18 46h1v1h-1zM18 47h4v1h-4zM18 48h1v1h-1zM18 49h1v1h-1zM18 50h4v1h-4zM18 51h1v1h-1zM-2 55h4v1h-4zM6 55h2v1h-2zM9 55h1v1h-1zM13 55h1v1h-1zM17 55h1v1h-1zM-2 56h4v1h-4zM6 56h2v1h-2zM9 56h1v1h-1zM13 56h1v1h-1zM17 56h1v1h-1zM-2 57h4v1h-4zM6 57h2v1h-2zM9 57h1v1h-1zM13 57h1v1h-1zM17 57h1v1h-1z"/><path fill="#56acbe" d="M2 -2h2v1h-2zM9 -2h1v1h-1zM2 -1h2v1h-2zM9 -1h1v1h-1zM2 0h2v1h-2zM9 0h1v1h-1zM-2 1h3v1h-3zM17 4h2v1h-2zM18 7h1v1h-1zM-2 20h3v1h-3zM17 23h1v1h-1zM17 24h1v1h-1zM17 25h1v1h-1zM14 28h1v1h-1zM3 41h1v1h-1zM19 48h3v1h-3zM19 49h3v1h-3z"/><path fill="#349ecc" d="M10 -2h1v1h-1zM19 -2h3v1h-3zM10 -1h1v1h-1zM19 -1h3v1h-3zM10 0h1v1h-1zM19 0h3v1h-3zM19 1h3v1h-3zM10 2h2v1h-2zM18 6h4v1h-4zM17 7h1v1h-1zM3 9h1v1h-1zM-2 15h3v1h-3zM12 27h2v1h-2zM12 28h2v1h-2zM15 28h2v1h-2zM16 29h1v1h-1zM11 31h1v1h-1zM8 33h1v1h-1zM8 35h1v1h-1zM15 37h1v1h-1zM4 55h2v1h-2zM11 55h2v1h-2zM4 56h2v1h-2zM11 56h2v1h-2zM4 57h2v1h-2zM11 57h2v1h-2z"/><path fill="#f8e73c" d="M13 -2h3v1h-3zM13 -1h3v1h-3zM13 0h3v1h-3zM3 1h2v1h-2zM8 1h1v1h-1zM1 2h1v1h-1zM5 2h2v1h-2zM18 2h1v1h-1zM1 3h1v1h-1zM6 3h1v1h-1zM1 4h3v1h-3zM5 4h1v1h-1zM2 5h1v1h-1zM5 5h1v1h-1zM2 6h1v1h-1zM4 6h2v1h-2zM2 7h1v1h-1zM5 7h1v1h-1zM16 8h1v1h-1zM16 9h1v1h-1zM16 10h1v1h-1zM16 11h1v1h-1zM16 12h1v1h-1zM16 13h1v1h-1zM3 16h1v1h-1zM2 18h1v1h-1zM11 18h2v1h-2zM2 19h1v1h-1zM12 19h1v1h-1zM8 20h1v1h-1zM13 20h1v1h-1zM7 21h1v1h-1zM12 21h1v1h-1zM16 21h1v1h-1zM5 27h2v1h-2zM8 27h2v1h-2zM-2 28h3v1h-3zM2 28h5v1h-5zM8 28h2v1h-2zM-2 29h3v1h-3zM2 29h2v1h-2zM8 29h2v1h-2zM-2 30h3v1h-3zM2 30h2v1h-2zM9 30h1v1h-1zM-2 31h3v1h-3zM2 31h2v1h-2zM7 31h3v1h-3zM-2 32h5v1h-5zM5 32h3v1h-3zM-2 33h3v1h-3zM3 33h5v1h-5zM3 34h1v1h-1zM5 34h2v1h-2zM4 35h3v1h-3zM-2 36h3v1h-3zM6 36h1v1h-1zM-2 37h3v1h-3zM15 38h2v1h-2zM8 39h4v1h-4zM14 39h1v1h-1zM-2 40h3v1h-3zM7 40h5v1h-5zM14 40h1v1h-1zM4 41h8v1h-8zM13 41h4v1h-4zM-2 42h3v1h-3zM3 42h7v1h-7zM11 42h1v1h-1zM14 42h4v1h-4zM3 43h4v1h-4zM3 44h1v1h-1zM-2 45h4v1h-4zM3 45h1v1h-1zM17 45h1v1h-1zM3 46h1v1h-1zM8 46h3v1h-3zM17 46h1v1h-1zM3 47h4v1h-4zM13 47h5v1h-5zM2 48h1v1h-1zM5 48h1v1h-1zM14 48h3v1h-3zM2 49h1v1h-1zM13 49h3v1h-3zM2 50h1v1h-1zM6 50h1v1h-1zM9 50h3v1h-3zM13 50h1v1h-1zM16 50h1v1h-1zM2 51h1v1h-1zM7 51h3v1h-3zM14 51h2v1h-2zM17 51h1v1h-1zM-2 54h3v1h-3zM6 54h5v1h-5zM19 54h3v1h-3zM16 55h1v1h-1zM16 56h1v1h-1zM16 57h1v1h-1z"/><path fill="#fad432" d="M9 1h1v1h-1zM7 2h3v1h-3zM5 3h1v1h-1zM7 3h2v1h-2zM4 4h1v1h-1zM6 4h5v1h-5zM6 5h3v1h-3zM10 5h1v1h-1zM6 6h1v1h-1zM6 7h1v1h-1zM5 8h1v1h-1zM5 9h1v1h-1zM4 10h1v1h-1zM2 11h1v1h-1zM2 12h1v1h-1zM2 14h1v1h-1zM16 14h1v1h-1zM3 15h1v1h-1zM16 15h1v1h-1zM4 16h1v1h-1zM16 16h1v1h-1zM4 17h1v1h-1zM3 18h2v1h-2zM10 18h1v1h-1zM11 19h1v1h-1zM13 19h1v1h-1zM2 20h1v1h-1zM10 20h3v1h-3zM14 20h1v1h-1zM2 21h1v1h-1zM13 21h1v1h-1zM15 21h1v1h-1zM16 22h1v1h-1zM16 23h1v1h-1zM16 24h1v1h-1zM16 25h1v1h-1zM8 26h1v1h-1zM10 26h2v1h-2zM14 26h1v1h-1zM7 27h1v1h-1zM7 28h1v1h-1zM4 29h4v1h-4zM7 30h2v1h-2zM4 31h3v1h-3zM3 32h2v1h-2zM15 39h2v1h-2zM15 40h2v1h-2zM10 42h1v1h-1zM7 43h3v1h-3zM11 43h7v1h-7zM1 44h1v1h-1zM4 44h10v1h-10zM15 44h3v1h-3zM4 45h11v1h-11zM16 45h1v1h-1zM-2 46h3v1h-3zM4 46h4v1h-4zM11 46h6v1h-6zM3 48h2v1h-2zM13 48h1v1h-1zM16 49h1v1h-1zM5 50h1v1h-1zM12 50h1v1h-1zM17 50h1v1h-1zM5 51h2v1h-2zM13 51h1v1h-1zM16 51h1v1h-1zM2 52h1v1h-1zM7 52h2v1h-2zM13 52h2v1h-2zM2 53h1v1h-1zM14 53h2v1h-2zM19 53h3v1h-3zM1 54h1v1h-1zM12 54h1v1h-1z"/><path fill="#e6241c" d="M10 1h1v1h-1z"/><path fill="#f89a28" d="M13 1h3v1h-3zM13 2h3v1h-3zM11 3h5v1h-5zM14 4h2v1h-2zM13 5h3v1h-3zM13 6h3v1h-3zM8 7h8v1h-8zM7 8h9v1h-9zM7 9h9v1h-9zM6 10h4v1h-4zM11 10h5v1h-5zM4 11h5v1h-5zM13 11h3v1h-3zM3 12h3v1h-3zM14 12h2v1h-2zM3 13h1v1h-1zM14 13h2v1h-2zM4 14h4v1h-4zM12 14h4v1h-4zM5 15h3v1h-3zM12 15h2v1h-2zM6 16h3v1h-3zM10 16h1v1h-1zM6 17h4v1h-4zM12 17h2v1h-2zM6 18h4v1h-4zM5 19h2v1h-2zM8 19h2v1h-2zM5 20h2v1h-2zM5 21h2v1h-2zM3 22h8v1h-8zM3 23h3v1h-3zM8 23h4v1h-4zM4 24h11v1h-11zM6 25h2v1h-2zM10 25h5v1h-5zM2 26h4v1h-4zM7 26h1v1h-1zM4 40h1v1h-1zM-2 47h4v1h-4zM-2 48h4v1h-4zM-2 49h3v1h-3zM4 49h1v1h-1zM-2 50h4v1h-4zM1 51h1v1h-1zM-2 52h3v1h-3zM10 52h2v1h-2zM1 53h1v1h-1zM7 53h6v1h-6zM18 55h1v1h-1zM18 56h1v1h-1zM18 57h1v1h-1z"/><path fill="#a8d08c" d="M16 1h1v1h-1zM-2 2h3v1h-3zM16 2h1v1h-1zM-2 3h3v1h-3zM17 3h2v1h-2zM-2 4h3v1h-3zM17 5h5v1h-5zM3 6h1v1h-1zM19 9h3v1h-3zM2 10h1v1h-1zM17 10h5v1h-5zM-2 11h3v1h-3zM17 11h5v1h-5zM-2 12h3v1h-3zM17 12h2v1h-2zM-2 13h3v1h-3zM17 13h5v1h-5zM1 14h1v1h-1zM17 14h5v1h-5zM1 15h1v1h-1zM17 15h5v1h-5zM1 16h1v1h-1zM17 16h5v1h-5zM1 17h1v1h-1zM17 17h2v1h-2zM1 18h1v1h-1zM17 18h2v1h-2zM-2 19h4v1h-4zM17 19h5v1h-5zM1 20h1v1h-1zM17 20h2v1h-2zM-2 21h4v1h-4zM17 21h2v1h-2zM-2 22h4v1h-4zM18 22h1v1h-1zM-2 23h4v1h-4zM18 23h1v1h-1zM-2 24h3v1h-3zM-2 25h3v1h-3zM-2 26h3v1h-3zM-2 27h4v1h-4zM10 27h1v1h-1zM15 27h1v1h-1zM18 27h1v1h-1zM11 28h1v1h-1zM17 28h1v1h-1zM11 29h1v1h-1zM11 30h1v1h-1zM17 30h1v1h-1zM1 31h1v1h-1zM17 31h2v1h-2zM16 32h3v1h-3zM17 33h2v1h-2zM7 34h1v1h-1zM18 34h1v1h-1zM-2 35h3v1h-3zM7 35h1v1h-1zM18 35h1v1h-1zM2 36h1v1h-1zM16 36h1v1h-1zM1 37h2v1h-2zM4 37h1v1h-1zM2 38h3v1h-3zM11 38h4v1h-4zM1 39h1v1h-1zM3 39h1v1h-1zM1 40h1v1h-1zM3 40h1v1h-1zM5 40h1v1h-1zM19 40h3v1h-3zM1 41h1v1h-1zM19 41h3v1h-3zM1 42h2v1h-2zM19 42h3v1h-3zM1 43h2v1h-2zM19 43h3v1h-3zM10 47h2v1h-2zM8 48h4v1h-4zM7 49h1v1h-1zM19 51h3v1h-3zM18 52h1v1h-1zM18 53h1v1h-1zM2 54h2v1h-2zM17 54h2v1h-2zM2 55h2v1h-2zM8 55h1v1h-1zM10 55h1v1h-1zM14 55h2v1h-2zM19 55h3v1h-3zM2 56h2v1h-2zM8 56h1v1h-1zM10 56h1v1h-1zM14 56h2v1h-2zM19 56h3v1h-3zM2 57h2v1h-2zM8 57h1v1h-1zM10 57h1v1h-1zM14 57h2v1h-2zM19 57h3v1h-3z"/><path fill="#f9b82e" d="M2 2h3v1h-3zM2 3h3v1h-3zM9 3h2v1h-2zM11 4h3v1h-3zM9 5h1v1h-1zM11 5h2v1h-2zM7 6h6v1h-6zM7 7h1v1h-1zM2 8h1v1h-1zM6 8h1v1h-1zM6 9h1v1h-1zM5 10h1v1h-1zM3 11h1v1h-1zM2 13h1v1h-1zM3 14h1v1h-1zM4 15h1v1h-1zM14 15h2v1h-2zM5 16h1v1h-1zM11 16h5v1h-5zM5 17h1v1h-1zM10 17h2v1h-2zM14 17h3v1h-3zM5 18h1v1h-1zM13 18h4v1h-4zM3 19h2v1h-2zM10 19h1v1h-1zM15 19h2v1h-2zM3 20h2v1h-2zM7 20h1v1h-1zM9 20h1v1h-1zM15 20h2v1h-2zM3 21h2v1h-2zM9 21h3v1h-3zM14 21h1v1h-1zM2 22h1v1h-1zM11 22h1v1h-1zM13 22h3v1h-3zM2 23h1v1h-1zM12 23h4v1h-4zM2 24h2v1h-2zM15 24h1v1h-1zM2 25h4v1h-4zM8 25h2v1h-2zM15 25h1v1h-1zM6 26h1v1h-1zM9 26h1v1h-1zM12 26h2v1h-2zM15 26h2v1h-2zM17 29h1v1h-1zM4 30h3v1h-3zM10 43h1v1h-1zM14 44h1v1h-1zM15 45h1v1h-1zM1 46h1v1h-1zM17 48h1v1h-1zM1 49h1v1h-1zM3 49h1v1h-1zM5 49h1v1h-1zM17 49h1v1h-1zM3 50h2v1h-2zM-2 51h3v1h-3zM3 51h2v1h-2zM10 51h3v1h-3zM3 52h4v1h-4zM9 52h1v1h-1zM12 52h1v1h-1zM15 52h3v1h-3zM19 52h3v1h-3zM-2 53h3v1h-3zM3 53h4v1h-4zM13 53h1v1h-1zM16 53h2v1h-2z"/><path fill="#f57e24" d="M10 10h1v1h-1zM9 11h4v1h-4zM6 12h8v1h-8zM4 13h10v1h-10zM8 14h4v1h-4zM8 15h4v1h-4zM9 16h1v1h-1zM7 19h1v1h-1zM6 23h2v1h-2zM16 30h1v1h-1zM1 52h1v1h-1zM13 54h1v1h-1z"/><path fill="#f05a20" d="M16 27h1v1h-1zM10 32h1v1h-1zM14 54h3v1h-3z"/><path fill="#1e96d2" d="M12 29h4v1h-4zM12 30h4v1h-4zM12 31h4v1h-4zM11 32h4v1h-4zM9 33h6v1h-6zM8 34h7v1h-7zM9 35h7v1h-7zM8 36h8v1h-8zM8 37h7v1h-7z"/></g></svg></div><div class="a" style="left:397px;top:104.0px;width:4.9px;height:66.2px;background:linear-gradient(to bottom,#e61e1e 0%,#f26424 14%,#f7a02c 26%,#f9cc34 38%,#f6e640 48%,#d6e460 56%,#96c88c 66%,#60b0b4 78%,#329ccc 90%,#1e96d2 100%)"></div><div class="leg" style="left:403.5px;top:102.0px">High : 500</div><div class="leg" style="left:403.5px;top:108.6px">450</div><div class="leg" style="left:403.5px;top:115.2px">400</div><div class="leg" style="left:403.5px;top:121.9px">350</div><div class="leg" style="left:403.5px;top:128.5px">300</div><div class="leg" style="left:403.5px;top:135.1px">250</div><div class="leg" style="left:403.5px;top:141.7px">200</div><div class="leg" style="left:403.5px;top:148.3px">150</div><div class="leg" style="left:403.5px;top:155.0px">100</div><div class="leg" style="left:403.5px;top:161.6px">50</div><div class="leg" style="left:403.5px;top:168.2px">Low : 0</div><div class="lab" style="left:70.8px;top:293.0px">3.6m</div><div class="p" style="left:34.4px;top:298.0px;width:88.0px;height:246.4px"><svg width="88.00" height="246.40" viewBox="0 0 88.000 246.400" shape-rendering="crispEdges"><defs><filter id="fh0" x="-10%" y="-10%" width="120%" height="120%"><feGaussianBlur stdDeviation="0.364 0.364"/></filter></defs><g transform="scale(4.40000 4.40000)" filter="url(#fh0)"><path fill="#e8e650" d="M-2 -2h3v1h-3zM-2 -1h3v1h-3zM-2 0h3v1h-3zM6 1h4v1h-4zM7 2h1v1h-1zM4 5h1v1h-1zM2 7h1v1h-1zM3 14h1v1h-1zM14 19h1v1h-1zM12 20h1v1h-1zM14 20h1v1h-1zM8 22h1v1h-1zM2 27h6v1h-6zM9 31h2v1h-2zM17 33h1v1h-1zM7 34h1v1h-1zM17 34h1v1h-1zM17 35h1v1h-1zM16 40h1v1h-1zM5 47h2v1h-2z"/><path fill="#f8e73c" d="M1 -2h9v1h-9zM12 -2h1v1h-1zM16 -2h2v1h-2zM1 -1h9v1h-9zM12 -1h1v1h-1zM16 -1h2v1h-2zM1 0h9v1h-9zM12 0h1v1h-1zM16 0h2v1h-2zM-2 1h3v1h-3zM17 1h2v1h-2zM-2 2h3v1h-3zM17 2h1v1h-1zM-2 3h3v1h-3zM-2 4h3v1h-3zM-2 5h3v1h-3zM3 5h1v1h-1zM-2 6h3v1h-3zM3 6h2v1h-2zM-2 7h3v1h-3zM4 7h1v1h-1zM-2 8h3v1h-3zM4 8h1v1h-1zM-2 9h3v1h-3zM2 9h1v1h-1zM4 9h1v1h-1zM-2 10h3v1h-3zM2 10h2v1h-2zM19 10h3v1h-3zM-2 11h3v1h-3zM17 11h5v1h-5zM-2 12h3v1h-3zM17 12h5v1h-5zM-2 13h3v1h-3zM17 13h2v1h-2zM1 14h2v1h-2zM17 14h5v1h-5zM1 15h3v1h-3zM17 15h5v1h-5zM1 16h3v1h-3zM17 16h2v1h-2zM1 17h3v1h-3zM17 17h2v1h-2zM-2 18h6v1h-6zM17 18h2v1h-2zM-2 19h4v1h-4zM13 19h1v1h-1zM17 19h2v1h-2zM1 20h1v1h-1zM13 20h1v1h-1zM17 20h2v1h-2zM-2 21h4v1h-4zM8 21h1v1h-1zM12 21h1v1h-1zM17 21h2v1h-2zM-2 22h4v1h-4zM12 22h1v1h-1zM17 22h2v1h-2zM-2 23h4v1h-4zM18 23h1v1h-1zM-2 24h4v1h-4zM18 24h1v1h-1zM-2 25h4v1h-4zM18 25h1v1h-1zM-2 26h4v1h-4zM18 26h1v1h-1zM-2 27h4v1h-4zM8 27h4v1h-4zM18 27h1v1h-1zM6 28h1v1h-1zM10 28h2v1h-2zM17 28h5v1h-5zM8 29h1v1h-1zM10 29h2v1h-2zM18 29h4v1h-4zM11 30h1v1h-1zM17 30h5v1h-5zM1 31h1v1h-1zM16 31h6v1h-6zM17 32h5v1h-5zM18 33h4v1h-4zM1 34h1v1h-1zM4 34h1v1h-1zM19 34h3v1h-3zM1 35h2v1h-2zM4 35h1v1h-1zM7 35h1v1h-1zM18 35h4v1h-4zM1 36h3v1h-3zM7 36h1v1h-1zM17 36h5v1h-5zM2 37h3v1h-3zM7 37h1v1h-1zM16 37h6v1h-6zM-2 38h7v1h-7zM7 38h1v1h-1zM10 38h1v1h-1zM12 38h2v1h-2zM15 38h7v1h-7zM-2 39h7v1h-7zM7 39h3v1h-3zM12 39h2v1h-2zM16 39h6v1h-6zM3 40h1v1h-1zM5 40h1v1h-1zM12 40h2v1h-2zM17 40h5v1h-5zM-2 41h5v1h-5zM4 41h2v1h-2zM10 41h12v1h-12zM-2 42h4v1h-4zM13 42h3v1h-3zM18 42h1v1h-1zM1 43h1v1h-1zM18 43h1v1h-1zM18 44h1v1h-1zM1 45h1v1h-1zM18 45h1v1h-1zM18 46h1v1h-1zM7 47h1v1h-1zM18 47h1v1h-1zM5 48h1v1h-1zM12 48h1v1h-1zM18 48h1v1h-1zM12 49h1v1h-1zM14 49h3v1h-3zM18 49h1v1h-1zM14 50h3v1h-3zM18 50h1v1h-1zM15 51h1v1h-1zM18 51h1v1h-1zM7 52h2v1h-2zM14 52h1v1h-1zM18 52h1v1h-1zM18 53h1v1h-1zM1 54h5v1h-5zM17 54h1v1h-1zM2 55h2v1h-2zM6 55h2v1h-2zM9 55h1v1h-1zM13 55h5v1h-5zM2 56h2v1h-2zM6 56h2v1h-2zM9 56h1v1h-1zM13 56h5v1h-5zM2 57h2v1h-2zM6 57h2v1h-2zM9 57h1v1h-1zM13 57h5v1h-5z"/><path fill="#f9b82e" d="M10 -2h1v1h-1zM10 -1h1v1h-1zM10 0h1v1h-1zM17 3h5v1h-5zM19 5h3v1h-3zM3 9h1v1h-1zM18 9h4v1h-4zM-2 14h3v1h-3zM-2 16h3v1h-3zM19 17h3v1h-3zM19 18h3v1h-3zM19 19h3v1h-3zM-2 20h3v1h-3zM19 20h3v1h-3zM13 27h3v1h-3zM12 28h5v1h-5zM12 29h4v1h-4zM12 30h4v1h-4zM11 31h5v1h-5zM11 32h5v1h-5zM9 33h6v1h-6zM8 34h9v1h-9zM8 35h7v1h-7zM16 35h1v1h-1zM8 36h9v1h-9zM8 37h8v1h-8zM1 40h1v1h-1zM3 41h1v1h-1zM10 47h2v1h-2zM19 47h3v1h-3zM6 48h6v1h-6zM19 48h3v1h-3zM6 49h4v1h-4zM19 49h3v1h-3zM8 50h1v1h-1zM-2 55h4v1h-4zM4 55h2v1h-2zM11 55h2v1h-2zM-2 56h4v1h-4zM4 56h2v1h-2zM11 56h2v1h-2zM-2 57h4v1h-4zM4 57h2v1h-2zM11 57h2v1h-2z"/><path fill="#fad432" d="M11 -2h1v1h-1zM18 -2h1v1h-1zM11 -1h1v1h-1zM18 -1h1v1h-1zM11 0h1v1h-1zM18 0h1v1h-1zM11 1h2v1h-2zM11 2h2v1h-2zM18 2h4v1h-4zM17 5h2v1h-2zM3 7h1v1h-1zM3 8h1v1h-1zM17 9h1v1h-1zM17 10h2v1h-2zM19 16h3v1h-3zM-2 17h3v1h-3zM19 21h3v1h-3zM19 22h3v1h-3zM17 23h1v1h-1zM19 23h3v1h-3zM17 24h1v1h-1zM19 24h3v1h-3zM17 25h1v1h-1zM19 25h3v1h-3zM17 26h1v1h-1zM19 26h3v1h-3zM12 27h1v1h-1zM17 27h1v1h-1zM19 27h3v1h-3zM16 29h1v1h-1zM16 32h1v1h-1zM8 33h1v1h-1zM15 33h2v1h-2zM18 34h1v1h-1zM15 35h1v1h-1zM1 37h1v1h-1zM8 38h2v1h-2zM11 38h1v1h-1zM14 38h1v1h-1zM8 47h2v1h-2zM12 47h1v1h-1zM10 49h2v1h-2zM6 50h2v1h-2zM9 50h3v1h-3zM19 50h3v1h-3zM6 51h4v1h-4zM14 51h1v1h-1zM18 54h1v1h-1zM8 55h1v1h-1zM8 56h1v1h-1zM8 57h1v1h-1z"/><path fill="#d4e468" d="M13 -2h3v1h-3zM13 -1h3v1h-3zM13 0h3v1h-3zM2 1h4v1h-4zM16 1h1v1h-1zM4 2h3v1h-3zM8 2h2v1h-2zM16 2h1v1h-1zM1 3h1v1h-1zM4 3h6v1h-6zM16 3h1v1h-1zM1 4h1v1h-1zM3 4h7v1h-7zM16 4h1v1h-1zM1 5h2v1h-2zM5 5h5v1h-5zM16 5h1v1h-1zM1 6h2v1h-2zM5 6h2v1h-2zM16 6h1v1h-1zM1 7h1v1h-1zM5 7h1v1h-1zM16 7h1v1h-1zM1 8h1v1h-1zM5 8h1v1h-1zM16 8h1v1h-1zM1 9h1v1h-1zM16 9h1v1h-1zM1 10h1v1h-1zM16 10h1v1h-1zM1 11h1v1h-1zM16 11h1v1h-1zM1 12h1v1h-1zM16 12h1v1h-1zM1 13h1v1h-1zM16 13h1v1h-1zM19 13h3v1h-3zM4 14h1v1h-1zM16 14h1v1h-1zM4 15h1v1h-1zM4 16h1v1h-1zM4 17h1v1h-1zM4 18h1v1h-1zM11 18h1v1h-1zM2 19h3v1h-3zM12 19h1v1h-1zM13 21h1v1h-1zM16 21h1v1h-1zM16 22h1v1h-1zM16 23h1v1h-1zM16 24h1v1h-1zM16 25h1v1h-1zM-2 28h3v1h-3zM2 28h2v1h-2zM5 28h1v1h-1zM7 28h3v1h-3zM-2 29h5v1h-5zM6 29h2v1h-2zM9 29h1v1h-1zM-2 30h4v1h-4zM6 30h5v1h-5zM-2 31h3v1h-3zM2 31h1v1h-1zM6 31h3v1h-3zM-2 32h5v1h-5zM5 32h2v1h-2zM8 32h1v1h-1zM-2 33h9v1h-9zM-2 34h3v1h-3zM2 34h2v1h-2zM5 34h2v1h-2zM-2 35h3v1h-3zM3 35h1v1h-1zM5 35h2v1h-2zM-2 36h3v1h-3zM4 36h3v1h-3zM5 37h2v1h-2zM5 38h2v1h-2zM5 39h2v1h-2zM-2 40h3v1h-3zM2 40h1v1h-1zM6 40h4v1h-4zM6 41h4v1h-4zM2 42h11v1h-11zM16 42h2v1h-2zM19 42h3v1h-3zM-2 43h3v1h-3zM3 43h5v1h-5zM10 43h8v1h-8zM19 43h3v1h-3zM-2 44h3v1h-3zM2 44h6v1h-6zM10 44h8v1h-8zM19 44h3v1h-3zM-2 45h3v1h-3zM2 45h16v1h-16zM19 45h3v1h-3zM-2 46h3v1h-3zM3 46h15v1h-15zM19 46h3v1h-3zM3 47h2v1h-2zM13 47h4v1h-4zM4 48h1v1h-1zM13 48h4v1h-4zM-2 49h3v1h-3zM5 49h1v1h-1zM13 49h1v1h-1zM-2 50h3v1h-3zM-2 51h3v1h-3zM19 51h3v1h-3zM5 52h2v1h-2zM14 53h2v1h-2zM19 53h3v1h-3zM-2 54h3v1h-3zM6 54h6v1h-6zM10 55h1v1h-1zM19 55h3v1h-3zM10 56h1v1h-1zM19 56h3v1h-3zM10 57h1v1h-1zM19 57h3v1h-3z"/><path fill="#f89a28" d="M19 -2h3v1h-3zM19 -1h3v1h-3zM19 0h3v1h-3zM19 1h3v1h-3zM17 4h5v1h-5zM17 6h1v1h-1zM19 7h3v1h-3zM17 8h5v1h-5z"/><path fill="#beda7c" d="M1 1h1v1h-1zM13 1h1v1h-1zM2 2h2v1h-2zM2 4h1v1h-1zM7 6h3v1h-3zM6 7h2v1h-2zM6 8h1v1h-1zM5 9h1v1h-1zM4 10h1v1h-1zM2 11h2v1h-2zM5 16h1v1h-1zM12 16h4v1h-4zM5 17h1v1h-1zM11 17h1v1h-1zM15 17h1v1h-1zM5 18h2v1h-2zM10 18h1v1h-1zM12 18h4v1h-4zM5 19h1v1h-1zM10 19h2v1h-2zM15 19h1v1h-1zM2 20h1v1h-1zM11 20h1v1h-1zM15 20h1v1h-1zM2 21h1v1h-1zM2 22h1v1h-1zM13 22h1v1h-1zM12 23h1v1h-1zM14 25h1v1h-1zM8 26h2v1h-2zM16 26h1v1h-1zM1 28h1v1h-1zM4 28h1v1h-1zM3 29h3v1h-3zM2 30h2v1h-2zM5 30h1v1h-1zM3 31h1v1h-1zM5 31h1v1h-1zM3 32h2v1h-2zM7 32h1v1h-1zM7 33h1v1h-1zM10 39h2v1h-2zM14 39h2v1h-2zM10 40h2v1h-2zM14 40h2v1h-2zM2 43h1v1h-1zM8 43h2v1h-2zM8 44h2v1h-2zM2 46h1v1h-1zM2 47h1v1h-1zM17 47h1v1h-1zM1 48h3v1h-3zM1 49h1v1h-1zM5 50h1v1h-1zM12 50h2v1h-2zM1 51h1v1h-1zM5 51h1v1h-1zM10 51h4v1h-4zM16 51h1v1h-1zM9 52h3v1h-3zM15 52h1v1h-1zM17 52h1v1h-1zM1 53h12v1h-12z"/><path fill="#349ecc" d="M10 1h1v1h-1zM16 27h1v1h-1z"/><path fill="#a8d08c" d="M14 1h2v1h-2zM1 2h1v1h-1zM13 2h3v1h-3zM2 3h2v1h-2zM10 3h6v1h-6zM10 4h6v1h-6zM10 5h6v1h-6zM10 6h5v1h-5zM8 7h8v1h-8zM2 8h1v1h-1zM7 8h9v1h-9zM6 9h5v1h-5zM13 9h3v1h-3zM5 10h5v1h-5zM14 10h2v1h-2zM4 11h4v1h-4zM14 11h2v1h-2zM2 12h5v1h-5zM14 12h2v1h-2zM2 13h4v1h-4zM14 13h2v1h-2zM5 14h3v1h-3zM13 14h3v1h-3zM5 15h3v1h-3zM10 15h7v1h-7zM6 16h3v1h-3zM10 16h2v1h-2zM16 16h1v1h-1zM6 17h5v1h-5zM12 17h3v1h-3zM16 17h1v1h-1zM7 18h3v1h-3zM6 19h4v1h-4zM3 20h8v1h-8zM3 21h5v1h-5zM9 21h3v1h-3zM14 21h2v1h-2zM3 22h5v1h-5zM9 22h3v1h-3zM14 22h2v1h-2zM2 23h10v1h-10zM13 23h3v1h-3zM2 24h2v1h-2zM5 24h11v1h-11zM2 25h2v1h-2zM5 25h9v1h-9zM15 25h1v1h-1zM6 26h1v1h-1zM10 26h6v1h-6zM4 30h1v1h-1zM4 31h1v1h-1zM9 32h1v1h-1zM1 46h1v1h-1zM-2 47h4v1h-4zM-2 48h3v1h-3zM17 48h1v1h-1zM2 49h3v1h-3zM17 49h1v1h-1zM1 50h1v1h-1zM3 50h2v1h-2zM17 50h1v1h-1zM3 51h2v1h-2zM17 51h1v1h-1zM-2 52h3v1h-3zM2 52h3v1h-3zM12 52h2v1h-2zM16 52h1v1h-1zM19 52h3v1h-3zM-2 53h3v1h-3zM13 53h1v1h-1zM16 53h2v1h-2zM12 54h1v1h-1zM15 54h1v1h-1zM19 54h3v1h-3zM18 55h1v1h-1zM18 56h1v1h-1zM18 57h1v1h-1z"/><path fill="#e6241c" d="M10 2h1v1h-1z"/><path fill="#7cbea8" d="M15 6h1v1h-1zM16 18h1v1h-1zM16 19h1v1h-1zM16 20h1v1h-1zM17 29h1v1h-1zM16 30h1v1h-1zM10 32h1v1h-1zM-2 37h3v1h-3zM4 40h1v1h-1zM2 50h1v1h-1zM2 51h1v1h-1zM1 52h1v1h-1zM13 54h2v1h-2zM16 54h1v1h-1z"/><path fill="#f57e24" d="M18 6h4v1h-4zM17 7h2v1h-2zM-2 15h3v1h-3z"/><path fill="#9aca96" d="M11 9h2v1h-2zM10 10h4v1h-4zM8 11h6v1h-6zM7 12h7v1h-7zM6 13h8v1h-8zM8 14h5v1h-5zM8 15h2v1h-2zM9 16h1v1h-1zM4 24h1v1h-1zM4 25h1v1h-1zM2 26h4v1h-4zM7 26h1v1h-1zM1 44h1v1h-1z"/></g><g transform="scale(1.00000 1) translate(-34.4 -298.00)" shape-rendering="auto"><polygon points="30.00,294.00 126.00,294.00 126.00,301.00 40.00,303.40 30.00,303.40" fill="#f8c438"/><line x1="38.46" y1="294.00" x2="47.10" y2="548.00" stroke="#f8c438" stroke-width="2.80"/><line x1="107.06" y1="294.00" x2="115.70" y2="548.00" stroke="#f8c438" stroke-width="2.60"/><line x1="30.00" y1="416.50" x2="111.18" y2="414.60" stroke="#f2e058" stroke-width="1.80"/><polygon points="79.2,296 89.8,296 90,311.4 79.4,311.8" fill="#c8dc8c" stroke="#f8c438" stroke-width="1.6"/><defs><linearGradient id="hlk" x1="0" y1="0" x2="0" y2="1"><stop offset="0" stop-color="#f8cc4a"/><stop offset="0.4" stop-color="#f7b842"/><stop offset="1" stop-color="#f6ac3a"/></linearGradient></defs><polygon points="86.50,416.40 110.80,415.60 110.80,431.00 110.60,464.40 68.20,465.40 68.20,450.00 71.00,445.00 84.30,433.50 85.60,423.00" fill="url(#hlk)"/><polyline points="71,464 64.4,468.4 45.6,479 34,492.5 30,497" fill="none" stroke="#f6c040" stroke-width="5" stroke-linejoin="round"/><polygon points="30.00,535.50 126.00,535.50 126.00,540.50 30.00,540.50" fill="#f8c438"/><rect x="36.00" y="541.00" width="2.50" height="1.60" fill="#4aa8c8"/><rect x="43.00" y="541.00" width="2.50" height="1.60" fill="#4aa8c8"/><rect x="50.00" y="541.00" width="2.50" height="1.60" fill="#4aa8c8"/><rect x="57.00" y="541.00" width="2.50" height="1.60" fill="#4aa8c8"/><rect x="64.00" y="541.00" width="2.50" height="1.60" fill="#4aa8c8"/><rect x="71.00" y="541.00" width="2.50" height="1.60" fill="#4aa8c8"/><rect x="78.00" y="541.00" width="2.50" height="1.60" fill="#4aa8c8"/><rect x="85.00" y="541.00" width="2.50" height="1.60" fill="#4aa8c8"/><rect x="92.00" y="541.00" width="2.50" height="1.60" fill="#4aa8c8"/><rect x="99.00" y="541.00" width="2.50" height="1.60" fill="#4aa8c8"/><rect x="106.00" y="541.00" width="2.50" height="1.60" fill="#4aa8c8"/><rect x="113.00" y="541.00" width="2.50" height="1.60" fill="#4aa8c8"/><rect x="120.00" y="541.00" width="2.50" height="1.60" fill="#4aa8c8"/><polygon points="50.00,516.00 56.00,507.00 70.00,504.50 86.00,504.00 90.00,509.00 88.00,518.00 80.00,523.50 64.00,524.00 53.00,521.00" fill="#f6bc44" opacity="0.8"/><polygon points="58.00,513.00 66.00,508.00 80.00,507.00 84.00,511.00 76.00,515.00 64.00,517.00" fill="#f4a03a" opacity="0.7"/><rect x="53.00" y="457.80" width="4.00" height="3.20" fill="#f4a030"/></g><filter id="nh0" x="0" y="0" width="100%" height="100%" filterUnits="userSpaceOnUse" color-interpolation-filters="sRGB"><feTurbulence type="fractalNoise" baseFrequency="0.90" numOctaves="2" seed="7"/><feColorMatrix type="matrix" values="1 1 1 0 -1  1 1 1 0 -1  1 1 1 0 -1  0 0 0 0 1"/></filter><rect x="0" y="0" width="88.00" height="246.40" filter="url(#nh0)" style="mix-blend-mode:overlay" opacity="0.35"/></svg></div><div class="lab" style="left:163.8px;top:293.0px">7.2m</div><div class="p" style="left:124.6px;top:298.0px;width:89.4px;height:246.4px"><svg width="89.40" height="246.40" viewBox="0 0 89.400 246.400" shape-rendering="crispEdges"><defs><filter id="fh1" x="-10%" y="-10%" width="120%" height="120%"><feGaussianBlur stdDeviation="0.358 0.364"/></filter></defs><g transform="scale(4.47000 4.40000)" filter="url(#fh1)"><path fill="#e8e650" d="M-2 -2h3v1h-3zM-2 -1h3v1h-3zM-2 0h3v1h-3zM6 1h4v1h-4zM7 2h1v1h-1zM4 5h1v1h-1zM2 7h1v1h-1zM3 14h1v1h-1zM14 19h1v1h-1zM12 20h1v1h-1zM14 20h1v1h-1zM8 22h1v1h-1zM2 27h6v1h-6zM9 31h2v1h-2zM17 33h1v1h-1zM7 34h1v1h-1zM17 34h1v1h-1zM17 35h1v1h-1zM16 40h1v1h-1zM5 47h2v1h-2z"/><path fill="#f8e73c" d="M1 -2h9v1h-9zM12 -2h1v1h-1zM16 -2h2v1h-2zM1 -1h9v1h-9zM12 -1h1v1h-1zM16 -1h2v1h-2zM1 0h9v1h-9zM12 0h1v1h-1zM16 0h2v1h-2zM-2 1h3v1h-3zM17 1h2v1h-2zM-2 2h3v1h-3zM17 2h1v1h-1zM-2 3h3v1h-3zM-2 4h3v1h-3zM-2 5h3v1h-3zM3 5h1v1h-1zM-2 6h3v1h-3zM3 6h2v1h-2zM-2 7h3v1h-3zM4 7h1v1h-1zM-2 8h3v1h-3zM4 8h1v1h-1zM-2 9h3v1h-3zM2 9h1v1h-1zM4 9h1v1h-1zM-2 10h3v1h-3zM2 10h2v1h-2zM19 10h3v1h-3zM-2 11h3v1h-3zM17 11h5v1h-5zM-2 12h3v1h-3zM17 12h5v1h-5zM-2 13h3v1h-3zM17 13h2v1h-2zM1 14h2v1h-2zM17 14h5v1h-5zM1 15h3v1h-3zM17 15h5v1h-5zM1 16h3v1h-3zM17 16h2v1h-2zM1 17h3v1h-3zM17 17h2v1h-2zM-2 18h6v1h-6zM17 18h2v1h-2zM-2 19h4v1h-4zM13 19h1v1h-1zM17 19h2v1h-2zM1 20h1v1h-1zM13 20h1v1h-1zM17 20h2v1h-2zM-2 21h4v1h-4zM8 21h1v1h-1zM12 21h1v1h-1zM17 21h2v1h-2zM-2 22h4v1h-4zM12 22h1v1h-1zM17 22h2v1h-2zM-2 23h4v1h-4zM18 23h1v1h-1zM-2 24h4v1h-4zM18 24h1v1h-1zM-2 25h4v1h-4zM18 25h1v1h-1zM-2 26h4v1h-4zM18 26h1v1h-1zM-2 27h4v1h-4zM8 27h4v1h-4zM18 27h1v1h-1zM6 28h1v1h-1zM10 28h2v1h-2zM17 28h5v1h-5zM8 29h1v1h-1zM10 29h2v1h-2zM18 29h4v1h-4zM11 30h1v1h-1zM17 30h5v1h-5zM1 31h1v1h-1zM16 31h6v1h-6zM17 32h5v1h-5zM18 33h4v1h-4zM1 34h1v1h-1zM4 34h1v1h-1zM19 34h3v1h-3zM1 35h2v1h-2zM4 35h1v1h-1zM7 35h1v1h-1zM18 35h4v1h-4zM1 36h3v1h-3zM7 36h1v1h-1zM17 36h5v1h-5zM2 37h3v1h-3zM7 37h1v1h-1zM16 37h6v1h-6zM-2 38h7v1h-7zM7 38h1v1h-1zM10 38h1v1h-1zM12 38h2v1h-2zM15 38h7v1h-7zM-2 39h7v1h-7zM7 39h3v1h-3zM12 39h2v1h-2zM16 39h6v1h-6zM3 40h1v1h-1zM5 40h1v1h-1zM12 40h2v1h-2zM17 40h5v1h-5zM-2 41h5v1h-5zM4 41h2v1h-2zM10 41h12v1h-12zM-2 42h4v1h-4zM13 42h3v1h-3zM18 42h1v1h-1zM1 43h1v1h-1zM18 43h1v1h-1zM18 44h1v1h-1zM1 45h1v1h-1zM18 45h1v1h-1zM18 46h1v1h-1zM7 47h1v1h-1zM18 47h1v1h-1zM5 48h1v1h-1zM12 48h1v1h-1zM18 48h1v1h-1zM12 49h1v1h-1zM14 49h3v1h-3zM18 49h1v1h-1zM14 50h3v1h-3zM18 50h1v1h-1zM15 51h1v1h-1zM18 51h1v1h-1zM7 52h2v1h-2zM14 52h1v1h-1zM18 52h1v1h-1zM18 53h1v1h-1zM1 54h5v1h-5zM17 54h1v1h-1zM2 55h2v1h-2zM6 55h2v1h-2zM9 55h1v1h-1zM13 55h5v1h-5zM2 56h2v1h-2zM6 56h2v1h-2zM9 56h1v1h-1zM13 56h5v1h-5zM2 57h2v1h-2zM6 57h2v1h-2zM9 57h1v1h-1zM13 57h5v1h-5z"/><path fill="#f9b82e" d="M10 -2h1v1h-1zM10 -1h1v1h-1zM10 0h1v1h-1zM17 3h5v1h-5zM19 5h3v1h-3zM3 9h1v1h-1zM18 9h4v1h-4zM-2 14h3v1h-3zM-2 16h3v1h-3zM19 17h3v1h-3zM19 18h3v1h-3zM19 19h3v1h-3zM-2 20h3v1h-3zM19 20h3v1h-3zM13 27h3v1h-3zM12 28h5v1h-5zM12 29h4v1h-4zM12 30h4v1h-4zM11 31h5v1h-5zM11 32h5v1h-5zM9 33h6v1h-6zM8 34h9v1h-9zM8 35h7v1h-7zM16 35h1v1h-1zM8 36h9v1h-9zM8 37h8v1h-8zM1 40h1v1h-1zM3 41h1v1h-1zM10 47h2v1h-2zM19 47h3v1h-3zM6 48h6v1h-6zM19 48h3v1h-3zM6 49h4v1h-4zM19 49h3v1h-3zM8 50h1v1h-1zM-2 55h4v1h-4zM4 55h2v1h-2zM11 55h2v1h-2zM-2 56h4v1h-4zM4 56h2v1h-2zM11 56h2v1h-2zM-2 57h4v1h-4zM4 57h2v1h-2zM11 57h2v1h-2z"/><path fill="#fad432" d="M11 -2h1v1h-1zM18 -2h1v1h-1zM11 -1h1v1h-1zM18 -1h1v1h-1zM11 0h1v1h-1zM18 0h1v1h-1zM11 1h2v1h-2zM11 2h2v1h-2zM18 2h4v1h-4zM17 5h2v1h-2zM3 7h1v1h-1zM3 8h1v1h-1zM17 9h1v1h-1zM17 10h2v1h-2zM19 16h3v1h-3zM-2 17h3v1h-3zM19 21h3v1h-3zM19 22h3v1h-3zM17 23h1v1h-1zM19 23h3v1h-3zM17 24h1v1h-1zM19 24h3v1h-3zM17 25h1v1h-1zM19 25h3v1h-3zM17 26h1v1h-1zM19 26h3v1h-3zM12 27h1v1h-1zM17 27h1v1h-1zM19 27h3v1h-3zM16 29h1v1h-1zM16 32h1v1h-1zM8 33h1v1h-1zM15 33h2v1h-2zM18 34h1v1h-1zM15 35h1v1h-1zM1 37h1v1h-1zM8 38h2v1h-2zM11 38h1v1h-1zM14 38h1v1h-1zM8 47h2v1h-2zM12 47h1v1h-1zM10 49h2v1h-2zM6 50h2v1h-2zM9 50h3v1h-3zM19 50h3v1h-3zM6 51h4v1h-4zM14 51h1v1h-1zM18 54h1v1h-1zM8 55h1v1h-1zM8 56h1v1h-1zM8 57h1v1h-1z"/><path fill="#d4e468" d="M13 -2h3v1h-3zM13 -1h3v1h-3zM13 0h3v1h-3zM2 1h4v1h-4zM16 1h1v1h-1zM4 2h3v1h-3zM8 2h2v1h-2zM16 2h1v1h-1zM1 3h1v1h-1zM4 3h6v1h-6zM16 3h1v1h-1zM1 4h1v1h-1zM3 4h7v1h-7zM16 4h1v1h-1zM1 5h2v1h-2zM5 5h5v1h-5zM16 5h1v1h-1zM1 6h2v1h-2zM5 6h2v1h-2zM16 6h1v1h-1zM1 7h1v1h-1zM5 7h1v1h-1zM16 7h1v1h-1zM1 8h1v1h-1zM5 8h1v1h-1zM16 8h1v1h-1zM1 9h1v1h-1zM16 9h1v1h-1zM1 10h1v1h-1zM16 10h1v1h-1zM1 11h1v1h-1zM16 11h1v1h-1zM1 12h1v1h-1zM16 12h1v1h-1zM1 13h1v1h-1zM16 13h1v1h-1zM19 13h3v1h-3zM4 14h1v1h-1zM16 14h1v1h-1zM4 15h1v1h-1zM4 16h1v1h-1zM4 17h1v1h-1zM4 18h1v1h-1zM11 18h1v1h-1zM2 19h3v1h-3zM12 19h1v1h-1zM13 21h1v1h-1zM16 21h1v1h-1zM16 22h1v1h-1zM16 23h1v1h-1zM16 24h1v1h-1zM16 25h1v1h-1zM-2 28h3v1h-3zM2 28h2v1h-2zM5 28h1v1h-1zM7 28h3v1h-3zM-2 29h5v1h-5zM6 29h2v1h-2zM9 29h1v1h-1zM-2 30h4v1h-4zM6 30h5v1h-5zM-2 31h3v1h-3zM2 31h1v1h-1zM6 31h3v1h-3zM-2 32h5v1h-5zM5 32h2v1h-2zM8 32h1v1h-1zM-2 33h9v1h-9zM-2 34h3v1h-3zM2 34h2v1h-2zM5 34h2v1h-2zM-2 35h3v1h-3zM3 35h1v1h-1zM5 35h2v1h-2zM-2 36h3v1h-3zM4 36h3v1h-3zM5 37h2v1h-2zM5 38h2v1h-2zM5 39h2v1h-2zM-2 40h3v1h-3zM2 40h1v1h-1zM6 40h4v1h-4zM6 41h4v1h-4zM2 42h11v1h-11zM16 42h2v1h-2zM19 42h3v1h-3zM-2 43h3v1h-3zM3 43h5v1h-5zM10 43h8v1h-8zM19 43h3v1h-3zM-2 44h3v1h-3zM2 44h6v1h-6zM10 44h8v1h-8zM19 44h3v1h-3zM-2 45h3v1h-3zM2 45h16v1h-16zM19 45h3v1h-3zM-2 46h3v1h-3zM3 46h15v1h-15zM19 46h3v1h-3zM3 47h2v1h-2zM13 47h4v1h-4zM4 48h1v1h-1zM13 48h4v1h-4zM-2 49h3v1h-3zM5 49h1v1h-1zM13 49h1v1h-1zM-2 50h3v1h-3zM-2 51h3v1h-3zM19 51h3v1h-3zM5 52h2v1h-2zM14 53h2v1h-2zM19 53h3v1h-3zM-2 54h3v1h-3zM6 54h6v1h-6zM10 55h1v1h-1zM19 55h3v1h-3zM10 56h1v1h-1zM19 56h3v1h-3zM10 57h1v1h-1zM19 57h3v1h-3z"/><path fill="#f89a28" d="M19 -2h3v1h-3zM19 -1h3v1h-3zM19 0h3v1h-3zM19 1h3v1h-3zM17 4h5v1h-5zM17 6h1v1h-1zM19 7h3v1h-3zM17 8h5v1h-5z"/><path fill="#beda7c" d="M1 1h1v1h-1zM13 1h1v1h-1zM2 2h2v1h-2zM2 4h1v1h-1zM7 6h3v1h-3zM6 7h2v1h-2zM6 8h1v1h-1zM5 9h1v1h-1zM4 10h1v1h-1zM2 11h2v1h-2zM5 16h1v1h-1zM12 16h4v1h-4zM5 17h1v1h-1zM11 17h1v1h-1zM15 17h1v1h-1zM5 18h2v1h-2zM10 18h1v1h-1zM12 18h4v1h-4zM5 19h1v1h-1zM10 19h2v1h-2zM15 19h1v1h-1zM2 20h1v1h-1zM11 20h1v1h-1zM15 20h1v1h-1zM2 21h1v1h-1zM2 22h1v1h-1zM13 22h1v1h-1zM12 23h1v1h-1zM14 25h1v1h-1zM8 26h2v1h-2zM16 26h1v1h-1zM1 28h1v1h-1zM4 28h1v1h-1zM3 29h3v1h-3zM2 30h2v1h-2zM5 30h1v1h-1zM3 31h1v1h-1zM5 31h1v1h-1zM3 32h2v1h-2zM7 32h1v1h-1zM7 33h1v1h-1zM10 39h2v1h-2zM14 39h2v1h-2zM10 40h2v1h-2zM14 40h2v1h-2zM2 43h1v1h-1zM8 43h2v1h-2zM8 44h2v1h-2zM2 46h1v1h-1zM2 47h1v1h-1zM17 47h1v1h-1zM1 48h3v1h-3zM1 49h1v1h-1zM5 50h1v1h-1zM12 50h2v1h-2zM1 51h1v1h-1zM5 51h1v1h-1zM10 51h4v1h-4zM16 51h1v1h-1zM9 52h3v1h-3zM15 52h1v1h-1zM17 52h1v1h-1zM1 53h12v1h-12z"/><path fill="#349ecc" d="M10 1h1v1h-1zM16 27h1v1h-1z"/><path fill="#a8d08c" d="M14 1h2v1h-2zM1 2h1v1h-1zM13 2h3v1h-3zM2 3h2v1h-2zM10 3h6v1h-6zM10 4h6v1h-6zM10 5h6v1h-6zM10 6h5v1h-5zM8 7h8v1h-8zM2 8h1v1h-1zM7 8h9v1h-9zM6 9h5v1h-5zM13 9h3v1h-3zM5 10h5v1h-5zM14 10h2v1h-2zM4 11h4v1h-4zM14 11h2v1h-2zM2 12h5v1h-5zM14 12h2v1h-2zM2 13h4v1h-4zM14 13h2v1h-2zM5 14h3v1h-3zM13 14h3v1h-3zM5 15h3v1h-3zM10 15h7v1h-7zM6 16h3v1h-3zM10 16h2v1h-2zM16 16h1v1h-1zM6 17h5v1h-5zM12 17h3v1h-3zM16 17h1v1h-1zM7 18h3v1h-3zM6 19h4v1h-4zM3 20h8v1h-8zM3 21h5v1h-5zM9 21h3v1h-3zM14 21h2v1h-2zM3 22h5v1h-5zM9 22h3v1h-3zM14 22h2v1h-2zM2 23h10v1h-10zM13 23h3v1h-3zM2 24h2v1h-2zM5 24h11v1h-11zM2 25h2v1h-2zM5 25h9v1h-9zM15 25h1v1h-1zM6 26h1v1h-1zM10 26h6v1h-6zM4 30h1v1h-1zM4 31h1v1h-1zM9 32h1v1h-1zM1 46h1v1h-1zM-2 47h4v1h-4zM-2 48h3v1h-3zM17 48h1v1h-1zM2 49h3v1h-3zM17 49h1v1h-1zM1 50h1v1h-1zM3 50h2v1h-2zM17 50h1v1h-1zM3 51h2v1h-2zM17 51h1v1h-1zM-2 52h3v1h-3zM2 52h3v1h-3zM12 52h2v1h-2zM16 52h1v1h-1zM19 52h3v1h-3zM-2 53h3v1h-3zM13 53h1v1h-1zM16 53h2v1h-2zM12 54h1v1h-1zM15 54h1v1h-1zM19 54h3v1h-3zM18 55h1v1h-1zM18 56h1v1h-1zM18 57h1v1h-1z"/><path fill="#e6241c" d="M10 2h1v1h-1z"/><path fill="#7cbea8" d="M15 6h1v1h-1zM16 18h1v1h-1zM16 19h1v1h-1zM16 20h1v1h-1zM17 29h1v1h-1zM16 30h1v1h-1zM10 32h1v1h-1zM-2 37h3v1h-3zM4 40h1v1h-1zM2 50h1v1h-1zM2 51h1v1h-1zM1 52h1v1h-1zM13 54h2v1h-2zM16 54h1v1h-1z"/><path fill="#f57e24" d="M18 6h4v1h-4zM17 7h2v1h-2zM-2 15h3v1h-3z"/><path fill="#9aca96" d="M11 9h2v1h-2zM10 10h4v1h-4zM8 11h6v1h-6zM7 12h7v1h-7zM6 13h8v1h-8zM8 14h5v1h-5zM8 15h2v1h-2zM9 16h1v1h-1zM4 24h1v1h-1zM4 25h1v1h-1zM2 26h4v1h-4zM7 26h1v1h-1zM1 44h1v1h-1z"/></g><g transform="scale(1.01591 1) translate(-34.4 -298.00)" shape-rendering="auto"><polygon points="30.00,294.00 126.00,294.00 126.00,301.00 40.00,303.40 30.00,303.40" fill="#f8c438"/><line x1="38.46" y1="294.00" x2="47.10" y2="548.00" stroke="#f8c438" stroke-width="2.80"/><line x1="107.06" y1="294.00" x2="115.70" y2="548.00" stroke="#f8c438" stroke-width="2.60"/><line x1="30.00" y1="416.50" x2="111.18" y2="414.60" stroke="#f2e058" stroke-width="1.80"/><polygon points="79.2,296 89.8,296 90,311.4 79.4,311.8" fill="#c8dc8c" stroke="#f8c438" stroke-width="1.6"/><defs><linearGradient id="hlk" x1="0" y1="0" x2="0" y2="1"><stop offset="0" stop-color="#f8cc4a"/><stop offset="0.4" stop-color="#f7b842"/><stop offset="1" stop-color="#f6ac3a"/></linearGradient></defs><polygon points="86.50,416.40 110.80,415.60 110.80,431.00 110.60,464.40 68.20,465.40 68.20,450.00 71.00,445.00 84.30,433.50 85.60,423.00" fill="url(#hlk)"/><polyline points="71,464 64.4,468.4 45.6,479 34,492.5 30,497" fill="none" stroke="#f6c040" stroke-width="5" stroke-linejoin="round"/><polygon points="30.00,535.50 126.00,535.50 126.00,540.50 30.00,540.50" fill="#f8c438"/><rect x="36.00" y="541.00" width="2.50" height="1.60" fill="#4aa8c8"/><rect x="43.00" y="541.00" width="2.50" height="1.60" fill="#4aa8c8"/><rect x="50.00" y="541.00" width="2.50" height="1.60" fill="#4aa8c8"/><rect x="57.00" y="541.00" width="2.50" height="1.60" fill="#4aa8c8"/><rect x="64.00" y="541.00" width="2.50" height="1.60" fill="#4aa8c8"/><rect x="71.00" y="541.00" width="2.50" height="1.60" fill="#4aa8c8"/><rect x="78.00" y="541.00" width="2.50" height="1.60" fill="#4aa8c8"/><rect x="85.00" y="541.00" width="2.50" height="1.60" fill="#4aa8c8"/><rect x="92.00" y="541.00" width="2.50" height="1.60" fill="#4aa8c8"/><rect x="99.00" y="541.00" width="2.50" height="1.60" fill="#4aa8c8"/><rect x="106.00" y="541.00" width="2.50" height="1.60" fill="#4aa8c8"/><rect x="113.00" y="541.00" width="2.50" height="1.60" fill="#4aa8c8"/><rect x="120.00" y="541.00" width="2.50" height="1.60" fill="#4aa8c8"/><polygon points="50.00,516.00 56.00,507.00 70.00,504.50 86.00,504.00 90.00,509.00 88.00,518.00 80.00,523.50 64.00,524.00 53.00,521.00" fill="#f6bc44" opacity="0.8"/><polygon points="58.00,513.00 66.00,508.00 80.00,507.00 84.00,511.00 76.00,515.00 64.00,517.00" fill="#f4a03a" opacity="0.7"/><rect x="53.00" y="457.80" width="4.00" height="3.20" fill="#f4a030"/></g><filter id="nh1" x="0" y="0" width="100%" height="100%" filterUnits="userSpaceOnUse" color-interpolation-filters="sRGB"><feTurbulence type="fractalNoise" baseFrequency="0.75" numOctaves="2" seed="8"/><feColorMatrix type="matrix" values="1 1 1 0 -1  1 1 1 0 -1  1 1 1 0 -1  0 0 0 0 1"/></filter><rect x="0" y="0" width="89.40" height="246.40" filter="url(#nh1)" style="mix-blend-mode:overlay" opacity="0.35"/><rect x="7.50" y="19.10" width="1.80" height="1.80" fill="#e84a26"/><rect x="11.50" y="91.10" width="1.80" height="1.80" fill="#e84a26"/><rect x="39.50" y="77.10" width="1.80" height="1.80" fill="#e84a26"/><rect x="23.50" y="119.10" width="1.80" height="1.80" fill="#e84a26"/></svg></div><div class="lab" style="left:254.8px;top:293.0px">14.4m</div><div class="p" style="left:216.6px;top:298.0px;width:88.4px;height:246.4px"><svg width="88.40" height="246.40" viewBox="0 0 88.400 246.400" shape-rendering="crispEdges"><defs><filter id="fh2" x="-10%" y="-10%" width="120%" height="120%"><feGaussianBlur stdDeviation="0.362 0.364"/></filter></defs><g transform="scale(4.42000 4.40000)" filter="url(#fh2)"><path fill="#e8e650" d="M-2 -2h3v1h-3zM-2 -1h3v1h-3zM-2 0h3v1h-3zM6 1h4v1h-4zM7 2h1v1h-1zM4 5h1v1h-1zM2 7h1v1h-1zM3 14h1v1h-1zM14 19h1v1h-1zM12 20h1v1h-1zM14 20h1v1h-1zM8 22h1v1h-1zM2 27h6v1h-6zM9 31h2v1h-2zM17 33h1v1h-1zM7 34h1v1h-1zM17 34h1v1h-1zM17 35h1v1h-1zM16 40h1v1h-1zM5 47h2v1h-2z"/><path fill="#f8e73c" d="M1 -2h9v1h-9zM12 -2h1v1h-1zM16 -2h2v1h-2zM1 -1h9v1h-9zM12 -1h1v1h-1zM16 -1h2v1h-2zM1 0h9v1h-9zM12 0h1v1h-1zM16 0h2v1h-2zM-2 1h3v1h-3zM17 1h2v1h-2zM-2 2h3v1h-3zM17 2h1v1h-1zM-2 3h3v1h-3zM-2 4h3v1h-3zM-2 5h3v1h-3zM3 5h1v1h-1zM-2 6h3v1h-3zM3 6h2v1h-2zM-2 7h3v1h-3zM4 7h1v1h-1zM-2 8h3v1h-3zM4 8h1v1h-1zM-2 9h3v1h-3zM2 9h1v1h-1zM4 9h1v1h-1zM-2 10h3v1h-3zM2 10h2v1h-2zM19 10h3v1h-3zM-2 11h3v1h-3zM17 11h5v1h-5zM-2 12h3v1h-3zM17 12h5v1h-5zM-2 13h3v1h-3zM17 13h2v1h-2zM1 14h2v1h-2zM17 14h5v1h-5zM1 15h3v1h-3zM17 15h5v1h-5zM1 16h3v1h-3zM17 16h2v1h-2zM1 17h3v1h-3zM17 17h2v1h-2zM-2 18h6v1h-6zM17 18h2v1h-2zM-2 19h4v1h-4zM13 19h1v1h-1zM17 19h2v1h-2zM1 20h1v1h-1zM13 20h1v1h-1zM17 20h2v1h-2zM-2 21h4v1h-4zM8 21h1v1h-1zM12 21h1v1h-1zM17 21h2v1h-2zM-2 22h4v1h-4zM12 22h1v1h-1zM17 22h2v1h-2zM-2 23h4v1h-4zM18 23h1v1h-1zM-2 24h4v1h-4zM18 24h1v1h-1zM-2 25h4v1h-4zM18 25h1v1h-1zM-2 26h4v1h-4zM18 26h1v1h-1zM-2 27h4v1h-4zM8 27h4v1h-4zM18 27h1v1h-1zM6 28h1v1h-1zM10 28h2v1h-2zM17 28h5v1h-5zM8 29h1v1h-1zM10 29h2v1h-2zM18 29h4v1h-4zM11 30h1v1h-1zM17 30h5v1h-5zM1 31h1v1h-1zM16 31h6v1h-6zM17 32h5v1h-5zM18 33h4v1h-4zM1 34h1v1h-1zM4 34h1v1h-1zM19 34h3v1h-3zM1 35h2v1h-2zM4 35h1v1h-1zM7 35h1v1h-1zM18 35h4v1h-4zM1 36h3v1h-3zM7 36h1v1h-1zM17 36h5v1h-5zM2 37h3v1h-3zM7 37h1v1h-1zM16 37h6v1h-6zM-2 38h7v1h-7zM7 38h1v1h-1zM10 38h1v1h-1zM12 38h2v1h-2zM15 38h7v1h-7zM-2 39h7v1h-7zM7 39h3v1h-3zM12 39h2v1h-2zM16 39h6v1h-6zM3 40h1v1h-1zM5 40h1v1h-1zM12 40h2v1h-2zM17 40h5v1h-5zM-2 41h5v1h-5zM4 41h2v1h-2zM10 41h12v1h-12zM-2 42h4v1h-4zM13 42h3v1h-3zM18 42h1v1h-1zM1 43h1v1h-1zM18 43h1v1h-1zM18 44h1v1h-1zM1 45h1v1h-1zM18 45h1v1h-1zM18 46h1v1h-1zM7 47h1v1h-1zM18 47h1v1h-1zM5 48h1v1h-1zM12 48h1v1h-1zM18 48h1v1h-1zM12 49h1v1h-1zM14 49h3v1h-3zM18 49h1v1h-1zM14 50h3v1h-3zM18 50h1v1h-1zM15 51h1v1h-1zM18 51h1v1h-1zM7 52h2v1h-2zM14 52h1v1h-1zM18 52h1v1h-1zM18 53h1v1h-1zM1 54h5v1h-5zM17 54h1v1h-1zM2 55h2v1h-2zM6 55h2v1h-2zM9 55h1v1h-1zM13 55h5v1h-5zM2 56h2v1h-2zM6 56h2v1h-2zM9 56h1v1h-1zM13 56h5v1h-5zM2 57h2v1h-2zM6 57h2v1h-2zM9 57h1v1h-1zM13 57h5v1h-5z"/><path fill="#f9b82e" d="M10 -2h1v1h-1zM10 -1h1v1h-1zM10 0h1v1h-1zM17 3h5v1h-5zM19 5h3v1h-3zM3 9h1v1h-1zM18 9h4v1h-4zM-2 14h3v1h-3zM-2 16h3v1h-3zM19 17h3v1h-3zM19 18h3v1h-3zM19 19h3v1h-3zM-2 20h3v1h-3zM19 20h3v1h-3zM13 27h3v1h-3zM12 28h5v1h-5zM12 29h4v1h-4zM12 30h4v1h-4zM11 31h5v1h-5zM11 32h5v1h-5zM9 33h6v1h-6zM8 34h9v1h-9zM8 35h7v1h-7zM16 35h1v1h-1zM8 36h9v1h-9zM8 37h8v1h-8zM1 40h1v1h-1zM3 41h1v1h-1zM10 47h2v1h-2zM19 47h3v1h-3zM6 48h6v1h-6zM19 48h3v1h-3zM6 49h4v1h-4zM19 49h3v1h-3zM8 50h1v1h-1zM-2 55h4v1h-4zM4 55h2v1h-2zM11 55h2v1h-2zM-2 56h4v1h-4zM4 56h2v1h-2zM11 56h2v1h-2zM-2 57h4v1h-4zM4 57h2v1h-2zM11 57h2v1h-2z"/><path fill="#fad432" d="M11 -2h1v1h-1zM18 -2h1v1h-1zM11 -1h1v1h-1zM18 -1h1v1h-1zM11 0h1v1h-1zM18 0h1v1h-1zM11 1h2v1h-2zM11 2h2v1h-2zM18 2h4v1h-4zM17 5h2v1h-2zM3 7h1v1h-1zM3 8h1v1h-1zM17 9h1v1h-1zM17 10h2v1h-2zM19 16h3v1h-3zM-2 17h3v1h-3zM19 21h3v1h-3zM19 22h3v1h-3zM17 23h1v1h-1zM19 23h3v1h-3zM17 24h1v1h-1zM19 24h3v1h-3zM17 25h1v1h-1zM19 25h3v1h-3zM17 26h1v1h-1zM19 26h3v1h-3zM12 27h1v1h-1zM17 27h1v1h-1zM19 27h3v1h-3zM16 29h1v1h-1zM16 32h1v1h-1zM8 33h1v1h-1zM15 33h2v1h-2zM18 34h1v1h-1zM15 35h1v1h-1zM1 37h1v1h-1zM8 38h2v1h-2zM11 38h1v1h-1zM14 38h1v1h-1zM8 47h2v1h-2zM12 47h1v1h-1zM10 49h2v1h-2zM6 50h2v1h-2zM9 50h3v1h-3zM19 50h3v1h-3zM6 51h4v1h-4zM14 51h1v1h-1zM18 54h1v1h-1zM8 55h1v1h-1zM8 56h1v1h-1zM8 57h1v1h-1z"/><path fill="#d4e468" d="M13 -2h3v1h-3zM13 -1h3v1h-3zM13 0h3v1h-3zM2 1h4v1h-4zM16 1h1v1h-1zM4 2h3v1h-3zM8 2h2v1h-2zM16 2h1v1h-1zM1 3h1v1h-1zM4 3h6v1h-6zM16 3h1v1h-1zM1 4h1v1h-1zM3 4h7v1h-7zM16 4h1v1h-1zM1 5h2v1h-2zM5 5h5v1h-5zM16 5h1v1h-1zM1 6h2v1h-2zM5 6h2v1h-2zM16 6h1v1h-1zM1 7h1v1h-1zM5 7h1v1h-1zM16 7h1v1h-1zM1 8h1v1h-1zM5 8h1v1h-1zM16 8h1v1h-1zM1 9h1v1h-1zM16 9h1v1h-1zM1 10h1v1h-1zM16 10h1v1h-1zM1 11h1v1h-1zM16 11h1v1h-1zM1 12h1v1h-1zM16 12h1v1h-1zM1 13h1v1h-1zM16 13h1v1h-1zM19 13h3v1h-3zM4 14h1v1h-1zM16 14h1v1h-1zM4 15h1v1h-1zM4 16h1v1h-1zM4 17h1v1h-1zM4 18h1v1h-1zM11 18h1v1h-1zM2 19h3v1h-3zM12 19h1v1h-1zM13 21h1v1h-1zM16 21h1v1h-1zM16 22h1v1h-1zM16 23h1v1h-1zM16 24h1v1h-1zM16 25h1v1h-1zM-2 28h3v1h-3zM2 28h2v1h-2zM5 28h1v1h-1zM7 28h3v1h-3zM-2 29h5v1h-5zM6 29h2v1h-2zM9 29h1v1h-1zM-2 30h4v1h-4zM6 30h5v1h-5zM-2 31h3v1h-3zM2 31h1v1h-1zM6 31h3v1h-3zM-2 32h5v1h-5zM5 32h2v1h-2zM8 32h1v1h-1zM-2 33h9v1h-9zM-2 34h3v1h-3zM2 34h2v1h-2zM5 34h2v1h-2zM-2 35h3v1h-3zM3 35h1v1h-1zM5 35h2v1h-2zM-2 36h3v1h-3zM4 36h3v1h-3zM5 37h2v1h-2zM5 38h2v1h-2zM5 39h2v1h-2zM-2 40h3v1h-3zM2 40h1v1h-1zM6 40h4v1h-4zM6 41h4v1h-4zM2 42h11v1h-11zM16 42h2v1h-2zM19 42h3v1h-3zM-2 43h3v1h-3zM3 43h5v1h-5zM10 43h8v1h-8zM19 43h3v1h-3zM-2 44h3v1h-3zM2 44h6v1h-6zM10 44h8v1h-8zM19 44h3v1h-3zM-2 45h3v1h-3zM2 45h16v1h-16zM19 45h3v1h-3zM-2 46h3v1h-3zM3 46h15v1h-15zM19 46h3v1h-3zM3 47h2v1h-2zM13 47h4v1h-4zM4 48h1v1h-1zM13 48h4v1h-4zM-2 49h3v1h-3zM5 49h1v1h-1zM13 49h1v1h-1zM-2 50h3v1h-3zM-2 51h3v1h-3zM19 51h3v1h-3zM5 52h2v1h-2zM14 53h2v1h-2zM19 53h3v1h-3zM-2 54h3v1h-3zM6 54h6v1h-6zM10 55h1v1h-1zM19 55h3v1h-3zM10 56h1v1h-1zM19 56h3v1h-3zM10 57h1v1h-1zM19 57h3v1h-3z"/><path fill="#f89a28" d="M19 -2h3v1h-3zM19 -1h3v1h-3zM19 0h3v1h-3zM19 1h3v1h-3zM17 4h5v1h-5zM17 6h1v1h-1zM19 7h3v1h-3zM17 8h5v1h-5z"/><path fill="#beda7c" d="M1 1h1v1h-1zM13 1h1v1h-1zM2 2h2v1h-2zM2 4h1v1h-1zM7 6h3v1h-3zM6 7h2v1h-2zM6 8h1v1h-1zM5 9h1v1h-1zM4 10h1v1h-1zM2 11h2v1h-2zM5 16h1v1h-1zM12 16h4v1h-4zM5 17h1v1h-1zM11 17h1v1h-1zM15 17h1v1h-1zM5 18h2v1h-2zM10 18h1v1h-1zM12 18h4v1h-4zM5 19h1v1h-1zM10 19h2v1h-2zM15 19h1v1h-1zM2 20h1v1h-1zM11 20h1v1h-1zM15 20h1v1h-1zM2 21h1v1h-1zM2 22h1v1h-1zM13 22h1v1h-1zM12 23h1v1h-1zM14 25h1v1h-1zM8 26h2v1h-2zM16 26h1v1h-1zM1 28h1v1h-1zM4 28h1v1h-1zM3 29h3v1h-3zM2 30h2v1h-2zM5 30h1v1h-1zM3 31h1v1h-1zM5 31h1v1h-1zM3 32h2v1h-2zM7 32h1v1h-1zM7 33h1v1h-1zM10 39h2v1h-2zM14 39h2v1h-2zM10 40h2v1h-2zM14 40h2v1h-2zM2 43h1v1h-1zM8 43h2v1h-2zM8 44h2v1h-2zM2 46h1v1h-1zM2 47h1v1h-1zM17 47h1v1h-1zM1 48h3v1h-3zM1 49h1v1h-1zM5 50h1v1h-1zM12 50h2v1h-2zM1 51h1v1h-1zM5 51h1v1h-1zM10 51h4v1h-4zM16 51h1v1h-1zM9 52h3v1h-3zM15 52h1v1h-1zM17 52h1v1h-1zM1 53h12v1h-12z"/><path fill="#349ecc" d="M10 1h1v1h-1zM16 27h1v1h-1z"/><path fill="#a8d08c" d="M14 1h2v1h-2zM1 2h1v1h-1zM13 2h3v1h-3zM2 3h2v1h-2zM10 3h6v1h-6zM10 4h6v1h-6zM10 5h6v1h-6zM10 6h5v1h-5zM8 7h8v1h-8zM2 8h1v1h-1zM7 8h9v1h-9zM6 9h5v1h-5zM13 9h3v1h-3zM5 10h5v1h-5zM14 10h2v1h-2zM4 11h4v1h-4zM14 11h2v1h-2zM2 12h5v1h-5zM14 12h2v1h-2zM2 13h4v1h-4zM14 13h2v1h-2zM5 14h3v1h-3zM13 14h3v1h-3zM5 15h3v1h-3zM10 15h7v1h-7zM6 16h3v1h-3zM10 16h2v1h-2zM16 16h1v1h-1zM6 17h5v1h-5zM12 17h3v1h-3zM16 17h1v1h-1zM7 18h3v1h-3zM6 19h4v1h-4zM3 20h8v1h-8zM3 21h5v1h-5zM9 21h3v1h-3zM14 21h2v1h-2zM3 22h5v1h-5zM9 22h3v1h-3zM14 22h2v1h-2zM2 23h10v1h-10zM13 23h3v1h-3zM2 24h2v1h-2zM5 24h11v1h-11zM2 25h2v1h-2zM5 25h9v1h-9zM15 25h1v1h-1zM6 26h1v1h-1zM10 26h6v1h-6zM4 30h1v1h-1zM4 31h1v1h-1zM9 32h1v1h-1zM1 46h1v1h-1zM-2 47h4v1h-4zM-2 48h3v1h-3zM17 48h1v1h-1zM2 49h3v1h-3zM17 49h1v1h-1zM1 50h1v1h-1zM3 50h2v1h-2zM17 50h1v1h-1zM3 51h2v1h-2zM17 51h1v1h-1zM-2 52h3v1h-3zM2 52h3v1h-3zM12 52h2v1h-2zM16 52h1v1h-1zM19 52h3v1h-3zM-2 53h3v1h-3zM13 53h1v1h-1zM16 53h2v1h-2zM12 54h1v1h-1zM15 54h1v1h-1zM19 54h3v1h-3zM18 55h1v1h-1zM18 56h1v1h-1zM18 57h1v1h-1z"/><path fill="#e6241c" d="M10 2h1v1h-1z"/><path fill="#7cbea8" d="M15 6h1v1h-1zM16 18h1v1h-1zM16 19h1v1h-1zM16 20h1v1h-1zM17 29h1v1h-1zM16 30h1v1h-1zM10 32h1v1h-1zM-2 37h3v1h-3zM4 40h1v1h-1zM2 50h1v1h-1zM2 51h1v1h-1zM1 52h1v1h-1zM13 54h2v1h-2zM16 54h1v1h-1z"/><path fill="#f57e24" d="M18 6h4v1h-4zM17 7h2v1h-2zM-2 15h3v1h-3z"/><path fill="#9aca96" d="M11 9h2v1h-2zM10 10h4v1h-4zM8 11h6v1h-6zM7 12h7v1h-7zM6 13h8v1h-8zM8 14h5v1h-5zM8 15h2v1h-2zM9 16h1v1h-1zM4 24h1v1h-1zM4 25h1v1h-1zM2 26h4v1h-4zM7 26h1v1h-1zM1 44h1v1h-1z"/></g><g transform="scale(1.00455 1) translate(-34.4 -298.00)" shape-rendering="auto"><polygon points="30.00,294.00 126.00,294.00 126.00,301.00 40.00,303.40 30.00,303.40" fill="#f8c438"/><line x1="38.46" y1="294.00" x2="47.10" y2="548.00" stroke="#f8c438" stroke-width="2.80"/><line x1="107.06" y1="294.00" x2="115.70" y2="548.00" stroke="#f8c438" stroke-width="2.60"/><line x1="30.00" y1="416.50" x2="111.18" y2="414.60" stroke="#f2e058" stroke-width="1.80"/><polygon points="79.2,296 89.8,296 90,311.4 79.4,311.8" fill="#c8dc8c" stroke="#f8c438" stroke-width="1.6"/><defs><linearGradient id="hlk" x1="0" y1="0" x2="0" y2="1"><stop offset="0" stop-color="#f8cc4a"/><stop offset="0.4" stop-color="#f7b842"/><stop offset="1" stop-color="#f6ac3a"/></linearGradient></defs><polygon points="86.50,416.40 110.80,415.60 110.80,431.00 110.60,464.40 68.20,465.40 68.20,450.00 71.00,445.00 84.30,433.50 85.60,423.00" fill="url(#hlk)"/><polyline points="71,464 64.4,468.4 45.6,479 34,492.5 30,497" fill="none" stroke="#f6c040" stroke-width="5" stroke-linejoin="round"/><polygon points="30.00,535.50 126.00,535.50 126.00,540.50 30.00,540.50" fill="#f8c438"/><rect x="36.00" y="541.00" width="2.50" height="1.60" fill="#4aa8c8"/><rect x="43.00" y="541.00" width="2.50" height="1.60" fill="#4aa8c8"/><rect x="50.00" y="541.00" width="2.50" height="1.60" fill="#4aa8c8"/><rect x="57.00" y="541.00" width="2.50" height="1.60" fill="#4aa8c8"/><rect x="64.00" y="541.00" width="2.50" height="1.60" fill="#4aa8c8"/><rect x="71.00" y="541.00" width="2.50" height="1.60" fill="#4aa8c8"/><rect x="78.00" y="541.00" width="2.50" height="1.60" fill="#4aa8c8"/><rect x="85.00" y="541.00" width="2.50" height="1.60" fill="#4aa8c8"/><rect x="92.00" y="541.00" width="2.50" height="1.60" fill="#4aa8c8"/><rect x="99.00" y="541.00" width="2.50" height="1.60" fill="#4aa8c8"/><rect x="106.00" y="541.00" width="2.50" height="1.60" fill="#4aa8c8"/><rect x="113.00" y="541.00" width="2.50" height="1.60" fill="#4aa8c8"/><rect x="120.00" y="541.00" width="2.50" height="1.60" fill="#4aa8c8"/><polygon points="50.00,516.00 56.00,507.00 70.00,504.50 86.00,504.00 90.00,509.00 88.00,518.00 80.00,523.50 64.00,524.00 53.00,521.00" fill="#f6bc44" opacity="0.8"/><polygon points="58.00,513.00 66.00,508.00 80.00,507.00 84.00,511.00 76.00,515.00 64.00,517.00" fill="#f4a03a" opacity="0.7"/><rect x="53.00" y="457.80" width="4.00" height="3.20" fill="#f4a030"/></g><filter id="nh2" x="0" y="0" width="100%" height="100%" filterUnits="userSpaceOnUse" color-interpolation-filters="sRGB"><feTurbulence type="fractalNoise" baseFrequency="0.60" numOctaves="2" seed="9"/><feColorMatrix type="matrix" values="1 1 1 0 -1  1 1 1 0 -1  1 1 1 0 -1  0 0 0 0 1"/></filter><rect x="0" y="0" width="88.40" height="246.40" filter="url(#nh2)" style="mix-blend-mode:overlay" opacity="0.35"/><rect x="38.00" y="-0.40" width="2.20" height="2.20" fill="#e8281e"/><rect x="71.30" y="1.90" width="2.20" height="2.20" fill="#e8281e"/><rect x="71.30" y="13.80" width="2.20" height="2.20" fill="#e8281e"/><rect x="4.20" y="45.40" width="2.20" height="2.20" fill="#e8281e"/><rect x="73.60" y="52.10" width="2.20" height="2.20" fill="#e8281e"/><rect x="73.60" y="73.50" width="2.20" height="2.20" fill="#e8281e"/><rect x="6.40" y="100.60" width="2.20" height="2.20" fill="#e8281e"/><rect x="6.40" y="105.10" width="2.20" height="2.20" fill="#e8281e"/><rect x="77.50" y="108.90" width="2.20" height="2.20" fill="#e8281e"/><rect x="52.70" y="117.50" width="2.20" height="2.20" fill="#e8281e"/><rect x="8.10" y="156.10" width="2.20" height="2.20" fill="#e8281e"/><rect x="8.10" y="164.10" width="2.20" height="2.20" fill="#e8281e"/><rect x="2.00" y="191.80" width="2.20" height="2.20" fill="#e8281e"/><rect x="11.00" y="4.10" width="2.20" height="2.20" fill="#2896d0"/><rect x="43.60" y="4.10" width="2.20" height="2.20" fill="#2896d0"/><rect x="4.20" y="38.60" width="2.20" height="2.20" fill="#2896d0"/><rect x="4.20" y="35.20" width="2.20" height="2.20" fill="#2896d0"/><rect x="6.50" y="187.30" width="2.20" height="2.20" fill="#2896d0"/><rect x="77.00" y="200.40" width="2.20" height="2.20" fill="#2896d0"/><rect x="77.00" y="131.10" width="2.20" height="2.20" fill="#2896d0"/><rect x="1.90" y="75.80" width="2.20" height="2.20" fill="#f28a30"/></svg></div><div class="lab" style="left:346.1px;top:293.0px">30m</div><div class="p" style="left:307.5px;top:298.0px;width:88.0px;height:246.4px"><svg width="88.00" height="246.40" viewBox="0 0 88.000 246.400" shape-rendering="crispEdges"><defs><filter id="fh3" x="-10%" y="-10%" width="120%" height="120%"><feGaussianBlur stdDeviation="0.114 0.114"/></filter></defs><g transform="scale(4.40000 4.40000)" filter="url(#fh3)"><path fill="#e8e650" d="M-2 -2h3v1h-3zM-2 -1h3v1h-3zM-2 0h3v1h-3zM6 1h4v1h-4zM7 2h1v1h-1zM4 5h1v1h-1zM2 7h1v1h-1zM3 14h1v1h-1zM14 19h1v1h-1zM12 20h1v1h-1zM14 20h1v1h-1zM8 22h1v1h-1zM2 27h6v1h-6zM9 31h2v1h-2zM17 33h1v1h-1zM7 34h1v1h-1zM17 34h1v1h-1zM17 35h1v1h-1zM16 40h1v1h-1zM5 47h2v1h-2z"/><path fill="#f8e73c" d="M1 -2h9v1h-9zM12 -2h1v1h-1zM16 -2h2v1h-2zM1 -1h9v1h-9zM12 -1h1v1h-1zM16 -1h2v1h-2zM1 0h9v1h-9zM12 0h1v1h-1zM16 0h2v1h-2zM-2 1h3v1h-3zM17 1h2v1h-2zM-2 2h3v1h-3zM17 2h1v1h-1zM-2 3h3v1h-3zM-2 4h3v1h-3zM-2 5h3v1h-3zM3 5h1v1h-1zM-2 6h3v1h-3zM3 6h2v1h-2zM-2 7h3v1h-3zM4 7h1v1h-1zM-2 8h3v1h-3zM4 8h1v1h-1zM-2 9h3v1h-3zM2 9h1v1h-1zM4 9h1v1h-1zM-2 10h3v1h-3zM2 10h2v1h-2zM19 10h3v1h-3zM-2 11h3v1h-3zM17 11h5v1h-5zM-2 12h3v1h-3zM17 12h5v1h-5zM-2 13h3v1h-3zM17 13h2v1h-2zM1 14h2v1h-2zM17 14h5v1h-5zM1 15h3v1h-3zM17 15h5v1h-5zM1 16h3v1h-3zM17 16h2v1h-2zM1 17h3v1h-3zM17 17h2v1h-2zM-2 18h6v1h-6zM17 18h2v1h-2zM-2 19h4v1h-4zM13 19h1v1h-1zM17 19h2v1h-2zM1 20h1v1h-1zM13 20h1v1h-1zM17 20h2v1h-2zM-2 21h4v1h-4zM8 21h1v1h-1zM12 21h1v1h-1zM17 21h2v1h-2zM-2 22h4v1h-4zM12 22h1v1h-1zM17 22h2v1h-2zM-2 23h4v1h-4zM18 23h1v1h-1zM-2 24h4v1h-4zM18 24h1v1h-1zM-2 25h4v1h-4zM18 25h1v1h-1zM-2 26h4v1h-4zM18 26h1v1h-1zM-2 27h4v1h-4zM8 27h4v1h-4zM18 27h1v1h-1zM6 28h1v1h-1zM10 28h2v1h-2zM17 28h5v1h-5zM8 29h1v1h-1zM10 29h2v1h-2zM18 29h4v1h-4zM11 30h1v1h-1zM17 30h5v1h-5zM1 31h1v1h-1zM16 31h6v1h-6zM17 32h5v1h-5zM18 33h4v1h-4zM1 34h1v1h-1zM4 34h1v1h-1zM19 34h3v1h-3zM1 35h2v1h-2zM4 35h1v1h-1zM7 35h1v1h-1zM18 35h4v1h-4zM1 36h3v1h-3zM7 36h1v1h-1zM17 36h5v1h-5zM2 37h3v1h-3zM7 37h1v1h-1zM16 37h6v1h-6zM-2 38h7v1h-7zM7 38h1v1h-1zM10 38h1v1h-1zM12 38h2v1h-2zM15 38h7v1h-7zM-2 39h7v1h-7zM7 39h3v1h-3zM12 39h2v1h-2zM16 39h6v1h-6zM3 40h1v1h-1zM5 40h1v1h-1zM12 40h2v1h-2zM17 40h5v1h-5zM-2 41h5v1h-5zM4 41h2v1h-2zM10 41h12v1h-12zM-2 42h4v1h-4zM13 42h3v1h-3zM18 42h1v1h-1zM1 43h1v1h-1zM18 43h1v1h-1zM18 44h1v1h-1zM1 45h1v1h-1zM18 45h1v1h-1zM18 46h1v1h-1zM7 47h1v1h-1zM18 47h1v1h-1zM5 48h1v1h-1zM12 48h1v1h-1zM18 48h1v1h-1zM12 49h1v1h-1zM14 49h3v1h-3zM18 49h1v1h-1zM14 50h3v1h-3zM18 50h1v1h-1zM15 51h1v1h-1zM18 51h1v1h-1zM7 52h2v1h-2zM14 52h1v1h-1zM18 52h1v1h-1zM18 53h1v1h-1zM1 54h5v1h-5zM17 54h1v1h-1zM2 55h2v1h-2zM6 55h2v1h-2zM9 55h1v1h-1zM13 55h5v1h-5zM2 56h2v1h-2zM6 56h2v1h-2zM9 56h1v1h-1zM13 56h5v1h-5zM2 57h2v1h-2zM6 57h2v1h-2zM9 57h1v1h-1zM13 57h5v1h-5z"/><path fill="#f9b82e" d="M10 -2h1v1h-1zM10 -1h1v1h-1zM10 0h1v1h-1zM17 3h5v1h-5zM19 5h3v1h-3zM3 9h1v1h-1zM18 9h4v1h-4zM-2 14h3v1h-3zM-2 16h3v1h-3zM19 17h3v1h-3zM19 18h3v1h-3zM19 19h3v1h-3zM-2 20h3v1h-3zM19 20h3v1h-3zM13 27h3v1h-3zM12 28h5v1h-5zM12 29h4v1h-4zM12 30h4v1h-4zM11 31h5v1h-5zM11 32h5v1h-5zM9 33h6v1h-6zM8 34h9v1h-9zM8 35h7v1h-7zM16 35h1v1h-1zM8 36h9v1h-9zM8 37h8v1h-8zM1 40h1v1h-1zM3 41h1v1h-1zM10 47h2v1h-2zM19 47h3v1h-3zM6 48h6v1h-6zM19 48h3v1h-3zM6 49h4v1h-4zM19 49h3v1h-3zM8 50h1v1h-1zM-2 55h4v1h-4zM4 55h2v1h-2zM11 55h2v1h-2zM-2 56h4v1h-4zM4 56h2v1h-2zM11 56h2v1h-2zM-2 57h4v1h-4zM4 57h2v1h-2zM11 57h2v1h-2z"/><path fill="#fad432" d="M11 -2h1v1h-1zM18 -2h1v1h-1zM11 -1h1v1h-1zM18 -1h1v1h-1zM11 0h1v1h-1zM18 0h1v1h-1zM11 1h2v1h-2zM11 2h2v1h-2zM18 2h4v1h-4zM17 5h2v1h-2zM3 7h1v1h-1zM3 8h1v1h-1zM17 9h1v1h-1zM17 10h2v1h-2zM19 16h3v1h-3zM-2 17h3v1h-3zM19 21h3v1h-3zM19 22h3v1h-3zM17 23h1v1h-1zM19 23h3v1h-3zM17 24h1v1h-1zM19 24h3v1h-3zM17 25h1v1h-1zM19 25h3v1h-3zM17 26h1v1h-1zM19 26h3v1h-3zM12 27h1v1h-1zM17 27h1v1h-1zM19 27h3v1h-3zM16 29h1v1h-1zM16 32h1v1h-1zM8 33h1v1h-1zM15 33h2v1h-2zM18 34h1v1h-1zM15 35h1v1h-1zM1 37h1v1h-1zM8 38h2v1h-2zM11 38h1v1h-1zM14 38h1v1h-1zM8 47h2v1h-2zM12 47h1v1h-1zM10 49h2v1h-2zM6 50h2v1h-2zM9 50h3v1h-3zM19 50h3v1h-3zM6 51h4v1h-4zM14 51h1v1h-1zM18 54h1v1h-1zM8 55h1v1h-1zM8 56h1v1h-1zM8 57h1v1h-1z"/><path fill="#d4e468" d="M13 -2h3v1h-3zM13 -1h3v1h-3zM13 0h3v1h-3zM2 1h4v1h-4zM16 1h1v1h-1zM4 2h3v1h-3zM8 2h2v1h-2zM16 2h1v1h-1zM1 3h1v1h-1zM4 3h6v1h-6zM16 3h1v1h-1zM1 4h1v1h-1zM3 4h7v1h-7zM16 4h1v1h-1zM1 5h2v1h-2zM5 5h5v1h-5zM16 5h1v1h-1zM1 6h2v1h-2zM5 6h2v1h-2zM16 6h1v1h-1zM1 7h1v1h-1zM5 7h1v1h-1zM16 7h1v1h-1zM1 8h1v1h-1zM5 8h1v1h-1zM16 8h1v1h-1zM1 9h1v1h-1zM16 9h1v1h-1zM1 10h1v1h-1zM16 10h1v1h-1zM1 11h1v1h-1zM16 11h1v1h-1zM1 12h1v1h-1zM16 12h1v1h-1zM1 13h1v1h-1zM16 13h1v1h-1zM19 13h3v1h-3zM4 14h1v1h-1zM16 14h1v1h-1zM4 15h1v1h-1zM4 16h1v1h-1zM4 17h1v1h-1zM4 18h1v1h-1zM11 18h1v1h-1zM2 19h3v1h-3zM12 19h1v1h-1zM13 21h1v1h-1zM16 21h1v1h-1zM16 22h1v1h-1zM16 23h1v1h-1zM16 24h1v1h-1zM16 25h1v1h-1zM-2 28h3v1h-3zM2 28h2v1h-2zM5 28h1v1h-1zM7 28h3v1h-3zM-2 29h5v1h-5zM6 29h2v1h-2zM9 29h1v1h-1zM-2 30h4v1h-4zM6 30h5v1h-5zM-2 31h3v1h-3zM2 31h1v1h-1zM6 31h3v1h-3zM-2 32h5v1h-5zM5 32h2v1h-2zM8 32h1v1h-1zM-2 33h9v1h-9zM-2 34h3v1h-3zM2 34h2v1h-2zM5 34h2v1h-2zM-2 35h3v1h-3zM3 35h1v1h-1zM5 35h2v1h-2zM-2 36h3v1h-3zM4 36h3v1h-3zM5 37h2v1h-2zM5 38h2v1h-2zM5 39h2v1h-2zM-2 40h3v1h-3zM2 40h1v1h-1zM6 40h4v1h-4zM6 41h4v1h-4zM2 42h11v1h-11zM16 42h2v1h-2zM19 42h3v1h-3zM-2 43h3v1h-3zM3 43h5v1h-5zM10 43h8v1h-8zM19 43h3v1h-3zM-2 44h3v1h-3zM2 44h6v1h-6zM10 44h8v1h-8zM19 44h3v1h-3zM-2 45h3v1h-3zM2 45h16v1h-16zM19 45h3v1h-3zM-2 46h3v1h-3zM3 46h15v1h-15zM19 46h3v1h-3zM3 47h2v1h-2zM13 47h4v1h-4zM4 48h1v1h-1zM13 48h4v1h-4zM-2 49h3v1h-3zM5 49h1v1h-1zM13 49h1v1h-1zM-2 50h3v1h-3zM-2 51h3v1h-3zM19 51h3v1h-3zM5 52h2v1h-2zM14 53h2v1h-2zM19 53h3v1h-3zM-2 54h3v1h-3zM6 54h6v1h-6zM10 55h1v1h-1zM19 55h3v1h-3zM10 56h1v1h-1zM19 56h3v1h-3zM10 57h1v1h-1zM19 57h3v1h-3z"/><path fill="#f89a28" d="M19 -2h3v1h-3zM19 -1h3v1h-3zM19 0h3v1h-3zM19 1h3v1h-3zM17 4h5v1h-5zM17 6h1v1h-1zM19 7h3v1h-3zM17 8h5v1h-5z"/><path fill="#beda7c" d="M1 1h1v1h-1zM13 1h1v1h-1zM2 2h2v1h-2zM2 4h1v1h-1zM7 6h3v1h-3zM6 7h2v1h-2zM6 8h1v1h-1zM5 9h1v1h-1zM4 10h1v1h-1zM2 11h2v1h-2zM5 16h1v1h-1zM12 16h4v1h-4zM5 17h1v1h-1zM11 17h1v1h-1zM15 17h1v1h-1zM5 18h2v1h-2zM10 18h1v1h-1zM12 18h4v1h-4zM5 19h1v1h-1zM10 19h2v1h-2zM15 19h1v1h-1zM2 20h1v1h-1zM11 20h1v1h-1zM15 20h1v1h-1zM2 21h1v1h-1zM2 22h1v1h-1zM13 22h1v1h-1zM12 23h1v1h-1zM14 25h1v1h-1zM8 26h2v1h-2zM16 26h1v1h-1zM1 28h1v1h-1zM4 28h1v1h-1zM3 29h3v1h-3zM2 30h2v1h-2zM5 30h1v1h-1zM3 31h1v1h-1zM5 31h1v1h-1zM3 32h2v1h-2zM7 32h1v1h-1zM7 33h1v1h-1zM10 39h2v1h-2zM14 39h2v1h-2zM10 40h2v1h-2zM14 40h2v1h-2zM2 43h1v1h-1zM8 43h2v1h-2zM8 44h2v1h-2zM2 46h1v1h-1zM2 47h1v1h-1zM17 47h1v1h-1zM1 48h3v1h-3zM1 49h1v1h-1zM5 50h1v1h-1zM12 50h2v1h-2zM1 51h1v1h-1zM5 51h1v1h-1zM10 51h4v1h-4zM16 51h1v1h-1zM9 52h3v1h-3zM15 52h1v1h-1zM17 52h1v1h-1zM1 53h12v1h-12z"/><path fill="#349ecc" d="M10 1h1v1h-1zM16 27h1v1h-1z"/><path fill="#a8d08c" d="M14 1h2v1h-2zM1 2h1v1h-1zM13 2h3v1h-3zM2 3h2v1h-2zM10 3h6v1h-6zM10 4h6v1h-6zM10 5h6v1h-6zM10 6h5v1h-5zM8 7h8v1h-8zM2 8h1v1h-1zM7 8h9v1h-9zM6 9h5v1h-5zM13 9h3v1h-3zM5 10h5v1h-5zM14 10h2v1h-2zM4 11h4v1h-4zM14 11h2v1h-2zM2 12h5v1h-5zM14 12h2v1h-2zM2 13h4v1h-4zM14 13h2v1h-2zM5 14h3v1h-3zM13 14h3v1h-3zM5 15h3v1h-3zM10 15h7v1h-7zM6 16h3v1h-3zM10 16h2v1h-2zM16 16h1v1h-1zM6 17h5v1h-5zM12 17h3v1h-3zM16 17h1v1h-1zM7 18h3v1h-3zM6 19h4v1h-4zM3 20h8v1h-8zM3 21h5v1h-5zM9 21h3v1h-3zM14 21h2v1h-2zM3 22h5v1h-5zM9 22h3v1h-3zM14 22h2v1h-2zM2 23h10v1h-10zM13 23h3v1h-3zM2 24h2v1h-2zM5 24h11v1h-11zM2 25h2v1h-2zM5 25h9v1h-9zM15 25h1v1h-1zM6 26h1v1h-1zM10 26h6v1h-6zM4 30h1v1h-1zM4 31h1v1h-1zM9 32h1v1h-1zM1 46h1v1h-1zM-2 47h4v1h-4zM-2 48h3v1h-3zM17 48h1v1h-1zM2 49h3v1h-3zM17 49h1v1h-1zM1 50h1v1h-1zM3 50h2v1h-2zM17 50h1v1h-1zM3 51h2v1h-2zM17 51h1v1h-1zM-2 52h3v1h-3zM2 52h3v1h-3zM12 52h2v1h-2zM16 52h1v1h-1zM19 52h3v1h-3zM-2 53h3v1h-3zM13 53h1v1h-1zM16 53h2v1h-2zM12 54h1v1h-1zM15 54h1v1h-1zM19 54h3v1h-3zM18 55h1v1h-1zM18 56h1v1h-1zM18 57h1v1h-1z"/><path fill="#e6241c" d="M10 2h1v1h-1z"/><path fill="#7cbea8" d="M15 6h1v1h-1zM16 18h1v1h-1zM16 19h1v1h-1zM16 20h1v1h-1zM17 29h1v1h-1zM16 30h1v1h-1zM10 32h1v1h-1zM-2 37h3v1h-3zM4 40h1v1h-1zM2 50h1v1h-1zM2 51h1v1h-1zM1 52h1v1h-1zM13 54h2v1h-2zM16 54h1v1h-1z"/><path fill="#f57e24" d="M18 6h4v1h-4zM17 7h2v1h-2zM-2 15h3v1h-3z"/><path fill="#9aca96" d="M11 9h2v1h-2zM10 10h4v1h-4zM8 11h6v1h-6zM7 12h7v1h-7zM6 13h8v1h-8zM8 14h5v1h-5zM8 15h2v1h-2zM9 16h1v1h-1zM4 24h1v1h-1zM4 25h1v1h-1zM2 26h4v1h-4zM7 26h1v1h-1zM1 44h1v1h-1z"/></g></svg></div><div class="a" style="left:397px;top:380.0px;width:4.9px;height:66.2px;background:linear-gradient(to bottom,#e61e1e 0%,#f26424 14%,#f7a02c 26%,#f9cc34 38%,#f6e640 48%,#d6e460 56%,#96c88c 66%,#60b0b4 78%,#329ccc 90%,#1e96d2 100%)"></div><div class="leg" style="left:403.5px;top:378.0px">High : 500</div><div class="leg" style="left:403.5px;top:384.6px">450</div><div class="leg" style="left:403.5px;top:391.2px">400</div><div class="leg" style="left:403.5px;top:397.9px">350</div><div class="leg" style="left:403.5px;top:404.5px">300</div><div class="leg" style="left:403.5px;top:411.1px">250</div><div class="leg" style="left:403.5px;top:417.7px">200</div><div class="leg" style="left:403.5px;top:424.3px">150</div><div class="leg" style="left:403.5px;top:431.0px">100</div><div class="leg" style="left:403.5px;top:437.6px">50</div><div class="leg" style="left:403.5px;top:444.2px">Low : 0</div></body></html>
